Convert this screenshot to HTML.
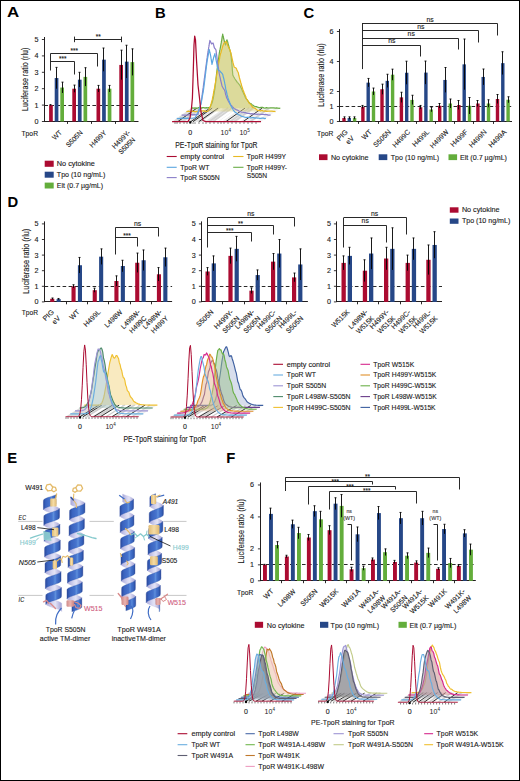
<!DOCTYPE html>
<html><head><meta charset="utf-8"><title>Figure</title>
<style>html,body{margin:0;padding:0;background:#fff;}body{width:520px;height:781px;overflow:hidden;font-family:"Liberation Sans",sans-serif;}svg{display:block;}</style>
</head><body>
<svg width="520" height="781" viewBox="0 0 520 781" font-family="Liberation Sans, sans-serif"><rect x="0" y="0" width="520" height="781" fill="#fff"/>
<text x="6.9" y="17.2" font-size="14.8" text-anchor="start" fill="#000" font-weight="bold" font-style="normal" textLength="12.2" lengthAdjust="spacingAndGlyphs">A</text>
<line x1="44.5" y1="37" x2="44.5" y2="122" stroke="#231f20" stroke-width="1"/>
<line x1="44" y1="121.5" x2="138.5" y2="121.5" stroke="#231f20" stroke-width="1"/>
<line x1="41.9" y1="121.5" x2="44.5" y2="121.5" stroke="#231f20" stroke-width="0.9"/>
<text x="38.4" y="124" font-size="7.2" text-anchor="end" fill="#1a1a1a" font-weight="normal" font-style="normal" stroke="#1a1a1a" stroke-width="0.12">0</text>
<line x1="41.9" y1="105.1" x2="44.5" y2="105.1" stroke="#231f20" stroke-width="0.9"/>
<text x="38.4" y="107.6" font-size="7.2" text-anchor="end" fill="#1a1a1a" font-weight="normal" font-style="normal" stroke="#1a1a1a" stroke-width="0.12">1</text>
<line x1="41.9" y1="88.7" x2="44.5" y2="88.7" stroke="#231f20" stroke-width="0.9"/>
<text x="38.4" y="91.2" font-size="7.2" text-anchor="end" fill="#1a1a1a" font-weight="normal" font-style="normal" stroke="#1a1a1a" stroke-width="0.12">2</text>
<line x1="41.9" y1="72.3" x2="44.5" y2="72.3" stroke="#231f20" stroke-width="0.9"/>
<text x="38.4" y="74.8" font-size="7.2" text-anchor="end" fill="#1a1a1a" font-weight="normal" font-style="normal" stroke="#1a1a1a" stroke-width="0.12">3</text>
<line x1="41.9" y1="55.9" x2="44.5" y2="55.9" stroke="#231f20" stroke-width="0.9"/>
<text x="38.4" y="58.4" font-size="7.2" text-anchor="end" fill="#1a1a1a" font-weight="normal" font-style="normal" stroke="#1a1a1a" stroke-width="0.12">4</text>
<line x1="41.9" y1="39.5" x2="44.5" y2="39.5" stroke="#231f20" stroke-width="0.9"/>
<text x="38.4" y="42" font-size="7.2" text-anchor="end" fill="#1a1a1a" font-weight="normal" font-style="normal" stroke="#1a1a1a" stroke-width="0.12">5</text>
<text x="28.4" y="79.3" font-size="8.8" text-anchor="middle" fill="#1a1a1a" font-weight="normal" font-style="normal" transform="rotate(-90 28.4 79.3)" textLength="63.2" lengthAdjust="spacingAndGlyphs" stroke="#1a1a1a" stroke-width="0.12">Luciferase ratio (rlu)</text>
<line x1="44.4" y1="105.5" x2="138.5" y2="105.5" stroke="#1e1e1e" stroke-width="0.95" stroke-dasharray="3.6 2.4"/>
<rect x="49.1" y="105.1" width="3.7" height="16.4" fill="#ab0b31"/>
<line x1="50.5" y1="104.61" x2="50.5" y2="105.59" stroke="#000" stroke-width="0.9"/>
<line x1="49.5" y1="104.61" x2="51.5" y2="104.61" stroke="#000" stroke-width="0.9"/>
<rect x="54.7" y="78.04" width="3.7" height="43.46" fill="#264787"/>
<line x1="56.5" y1="67.38" x2="56.5" y2="88.7" stroke="#000" stroke-width="0.9"/>
<line x1="55.5" y1="67.38" x2="57.5" y2="67.38" stroke="#000" stroke-width="0.9"/>
<rect x="60.3" y="87.55" width="3.7" height="33.95" fill="#63ad3b"/>
<line x1="62.5" y1="82.14" x2="62.5" y2="92.96" stroke="#000" stroke-width="0.9"/>
<line x1="61.5" y1="82.14" x2="63.5" y2="82.14" stroke="#000" stroke-width="0.9"/>
<rect x="72.3" y="88.7" width="3.7" height="32.8" fill="#ab0b31"/>
<line x1="74.5" y1="85.09" x2="74.5" y2="92.31" stroke="#000" stroke-width="0.9"/>
<line x1="73.5" y1="85.09" x2="75.5" y2="85.09" stroke="#000" stroke-width="0.9"/>
<rect x="77.9" y="79.68" width="3.7" height="41.82" fill="#264787"/>
<line x1="79.5" y1="72.3" x2="79.5" y2="87.06" stroke="#000" stroke-width="0.9"/>
<line x1="78.5" y1="72.3" x2="80.5" y2="72.3" stroke="#000" stroke-width="0.9"/>
<rect x="83.5" y="76.89" width="3.7" height="44.61" fill="#63ad3b"/>
<line x1="85.5" y1="67.71" x2="85.5" y2="86.08" stroke="#000" stroke-width="0.9"/>
<line x1="84.5" y1="67.71" x2="86.5" y2="67.71" stroke="#000" stroke-width="0.9"/>
<rect x="96.5" y="88.7" width="3.7" height="32.8" fill="#ab0b31"/>
<line x1="98.5" y1="85.42" x2="98.5" y2="91.98" stroke="#000" stroke-width="0.9"/>
<line x1="97.5" y1="85.42" x2="99.5" y2="85.42" stroke="#000" stroke-width="0.9"/>
<rect x="102.1" y="59.67" width="3.7" height="61.83" fill="#264787"/>
<line x1="103.5" y1="48.03" x2="103.5" y2="71.32" stroke="#000" stroke-width="0.9"/>
<line x1="102.5" y1="48.03" x2="104.5" y2="48.03" stroke="#000" stroke-width="0.9"/>
<rect x="107.7" y="88.7" width="3.7" height="32.8" fill="#63ad3b"/>
<line x1="109.5" y1="85.42" x2="109.5" y2="91.98" stroke="#000" stroke-width="0.9"/>
<line x1="108.5" y1="85.42" x2="110.5" y2="85.42" stroke="#000" stroke-width="0.9"/>
<rect x="119.3" y="64.92" width="3.7" height="56.58" fill="#ab0b31"/>
<line x1="121.5" y1="50.16" x2="121.5" y2="79.68" stroke="#000" stroke-width="0.9"/>
<line x1="120.5" y1="50.16" x2="122.5" y2="50.16" stroke="#000" stroke-width="0.9"/>
<rect x="124.9" y="61.64" width="3.7" height="59.86" fill="#264787"/>
<line x1="126.5" y1="45.24" x2="126.5" y2="78.04" stroke="#000" stroke-width="0.9"/>
<line x1="125.5" y1="45.24" x2="127.5" y2="45.24" stroke="#000" stroke-width="0.9"/>
<rect x="130.5" y="62.13" width="3.7" height="59.37" fill="#63ad3b"/>
<line x1="132.5" y1="48.85" x2="132.5" y2="75.42" stroke="#000" stroke-width="0.9"/>
<line x1="131.5" y1="48.85" x2="133.5" y2="48.85" stroke="#000" stroke-width="0.9"/>
<line x1="67.5" y1="121.5" x2="67.5" y2="123.9" stroke="#1e1e1e" stroke-width="0.95"/>
<line x1="91.5" y1="121.5" x2="91.5" y2="123.9" stroke="#1e1e1e" stroke-width="0.95"/>
<line x1="115.5" y1="121.5" x2="115.5" y2="123.9" stroke="#1e1e1e" stroke-width="0.95"/>
<text x="62.5" y="133.2" font-size="7" text-anchor="end" fill="#1a1a1a" font-weight="normal" font-style="normal" transform="rotate(-45 62.5 133.2)" textLength="10.5" lengthAdjust="spacingAndGlyphs" stroke="#1a1a1a" stroke-width="0.12">WT</text>
<text x="83.2" y="133.2" font-size="7" text-anchor="end" fill="#1a1a1a" font-weight="normal" font-style="normal" transform="rotate(-45 83.2 133.2)" textLength="20.5" lengthAdjust="spacingAndGlyphs" stroke="#1a1a1a" stroke-width="0.12">S505N</text>
<text x="107" y="133.2" font-size="7" text-anchor="end" fill="#1a1a1a" font-weight="normal" font-style="normal" transform="rotate(-45 107 133.2)" textLength="21" lengthAdjust="spacingAndGlyphs" stroke="#1a1a1a" stroke-width="0.12">H499Y</text>
<text x="131" y="133" font-size="7" text-anchor="end" fill="#1a1a1a" font-weight="normal" font-style="normal" transform="rotate(-45 131 133)" textLength="23" lengthAdjust="spacingAndGlyphs" stroke="#1a1a1a" stroke-width="0.12">H499Y-</text>
<text x="135.77" y="140.25" font-size="7" text-anchor="end" fill="#1a1a1a" font-weight="normal" font-style="normal" transform="rotate(-45 135.77 140.25)" textLength="20.5" lengthAdjust="spacingAndGlyphs" stroke="#1a1a1a" stroke-width="0.12">S505N</text>
<text x="21.5" y="136.3" font-size="7.2" text-anchor="start" fill="#1a1a1a" font-weight="normal" font-style="normal" textLength="16.5" lengthAdjust="spacingAndGlyphs" stroke="#1a1a1a" stroke-width="0.12">TpoR</text>
<polyline points="50.5,70.5 50.5,53.5 97.5,53.5 97.5,66.5" stroke="#1e1e1e" stroke-width="0.95" fill="none"/>
<polyline points="50.5,61.5 74.5,61.5 74.5,74.5" stroke="#1e1e1e" stroke-width="0.95" fill="none"/>
<text x="62.8" y="61.1" font-size="8" text-anchor="middle" fill="#1a1a1a" font-weight="normal" font-style="normal" textLength="7.5" lengthAdjust="spacingAndGlyphs" stroke="#1a1a1a" stroke-width="0.12">***</text>
<text x="74.2" y="53" font-size="8" text-anchor="middle" fill="#1a1a1a" font-weight="normal" font-style="normal" textLength="7.5" lengthAdjust="spacingAndGlyphs" stroke="#1a1a1a" stroke-width="0.12">***</text>
<line x1="74.2" y1="39.5" x2="121.2" y2="39.5" stroke="#1e1e1e" stroke-width="0.95"/>
<line x1="74.5" y1="36.6" x2="74.5" y2="42.2" stroke="#1e1e1e" stroke-width="0.95"/>
<line x1="121.5" y1="36.6" x2="121.5" y2="42.2" stroke="#1e1e1e" stroke-width="0.95"/>
<text x="98.3" y="38.9" font-size="8" text-anchor="middle" fill="#1a1a1a" font-weight="normal" font-style="normal" textLength="5" lengthAdjust="spacingAndGlyphs" stroke="#1a1a1a" stroke-width="0.12">**</text>
<rect x="44.7" y="160.7" width="9" height="6.1" fill="#ab0b31"/>
<text x="56.8" y="166" font-size="7.1" text-anchor="start" fill="#1a1a1a" font-weight="normal" font-style="normal" textLength="38.1" lengthAdjust="spacingAndGlyphs" stroke="#1a1a1a" stroke-width="0.12">No cytokine</text>
<rect x="44.7" y="171.7" width="9" height="6" fill="#264787"/>
<text x="56.8" y="176.8" font-size="7.1" text-anchor="start" fill="#1a1a1a" font-weight="normal" font-style="normal" textLength="48.5" lengthAdjust="spacingAndGlyphs" stroke="#1a1a1a" stroke-width="0.12">Tpo (10 ng/mL)</text>
<rect x="44.7" y="182.6" width="9" height="5.9" fill="#63ad3b"/>
<text x="56.8" y="187.6" font-size="7.1" text-anchor="start" fill="#1a1a1a" font-weight="normal" font-style="normal" textLength="46.2" lengthAdjust="spacingAndGlyphs" stroke="#1a1a1a" stroke-width="0.12">Elt (0.7 µg/mL)</text>
<text x="155" y="18" font-size="14.8" text-anchor="start" fill="#000" font-weight="bold" font-style="normal">B</text>
<defs><linearGradient id="flB" x1="0" y1="0" x2="1" y2="0"><stop offset="0" stop-color="#d8d8d8"/><stop offset="0.5" stop-color="#ececec"/><stop offset="1" stop-color="#f4f4f4"/></linearGradient></defs>
<path d="M172.1,121.7 L261,121.7 L280.2,108.1 L191.3,108.1 Z" fill="url(#flB)"/>
<line x1="182" y1="121.7" x2="201.2" y2="108.1" stroke="#d2d2d2" stroke-width="1.8"/>
<line x1="200" y1="121.7" x2="219.2" y2="108.1" stroke="#d2d2d2" stroke-width="1.8"/>
<line x1="209" y1="121.7" x2="228.2" y2="108.1" stroke="#d2d2d2" stroke-width="1.8"/>
<line x1="213" y1="121.7" x2="232.2" y2="108.1" stroke="#d2d2d2" stroke-width="1.8"/>
<line x1="230" y1="121.7" x2="249.2" y2="108.1" stroke="#d2d2d2" stroke-width="1.8"/>
<line x1="234" y1="121.7" x2="253.2" y2="108.1" stroke="#d2d2d2" stroke-width="1.8"/>
<line x1="250" y1="121.7" x2="269.2" y2="108.1" stroke="#d2d2d2" stroke-width="1.8"/>
<line x1="186" y1="121.7" x2="205.2" y2="108.1" stroke="#ffffff" stroke-width="2"/>
<line x1="203" y1="121.7" x2="222.2" y2="108.1" stroke="#ffffff" stroke-width="2"/>
<line x1="216" y1="121.7" x2="235.2" y2="108.1" stroke="#ffffff" stroke-width="2"/>
<line x1="220" y1="121.7" x2="239.2" y2="108.1" stroke="#ffffff" stroke-width="2"/>
<line x1="238" y1="121.7" x2="257.2" y2="108.1" stroke="#ffffff" stroke-width="2"/>
<line x1="254" y1="121.7" x2="273.2" y2="108.1" stroke="#ffffff" stroke-width="2"/>
<line x1="177.7" y1="121.7" x2="196.9" y2="108.1" stroke="#111" stroke-width="0.85"/>
<line x1="190.8" y1="121.7" x2="210" y2="108.1" stroke="#111" stroke-width="0.85"/>
<line x1="193" y1="121.7" x2="212.2" y2="108.1" stroke="#111" stroke-width="0.85"/>
<line x1="198.8" y1="121.7" x2="218" y2="108.1" stroke="#111" stroke-width="0.85"/>
<line x1="225.8" y1="121.7" x2="245" y2="108.1" stroke="#111" stroke-width="0.85"/>
<line x1="243" y1="121.7" x2="262.2" y2="108.1" stroke="#111" stroke-width="0.85"/>
<path d="M191.2,108.2 L192.45,107.94 L193.71,108.14 L194.96,107.96 L196.21,108.1 L197.47,108.07 L198.72,107.57 L199.97,107.48 L201.23,108.1 L202.48,107.59 L203.73,107.52 L204.99,108.08 L206.24,107.62 L207.49,107.86 L208.75,107.53 L210,107.5 L210.5,106.49 L211,104.97 L211.5,104.23 L212,103 L212.32,102.04 L212.65,100.52 L212.98,99.44 L213.3,98 L213.51,96.89 L213.73,95.15 L213.94,94.46 L214.15,93.07 L214.36,91.59 L214.57,90.12 L214.79,89.54 L215,88 L215.13,86.78 L215.27,85.78 L215.4,84.7 L215.53,83.37 L215.67,82.34 L215.8,80.72 L215.93,79.84 L216.07,78.36 L216.2,77.55 L216.33,76.3 L216.47,74.48 L216.6,73.31 L216.73,72.17 L216.87,71.57 L217,70 L217.16,68.73 L217.33,67.67 L217.49,66.2 L217.66,65.15 L217.82,63.84 L217.99,62.6 L218.15,61.57 L218.31,60.35 L218.48,59.39 L218.64,58 L218.81,56.99 L218.97,55.71 L219.14,54.61 L219.3,53 L219.54,51.85 L219.79,50.16 L220.03,49.43 L220.27,48.23 L220.51,46.9 L220.76,45.34 L221,44 L221.21,42.93 L221.43,41.29 L221.64,40.55 L221.85,39.11 L222.06,37.64 L222.27,36.23 L222.49,35.62 L222.7,34.1 L223,35.81 L223.3,36.4 L223.6,38.29 L223.9,39.3 L224.2,40.4 L224.5,42 L225,43.34 L225.5,45 L225.88,43.92 L226.25,42.7 L226.62,40.74 L227,39.8 L227.38,41.19 L227.75,42.04 L228.12,43.87 L228.5,45 L228.83,46.09 L229.16,47.76 L229.49,49.07 L229.81,49.92 L230.14,51.54 L230.47,52.22 L230.8,53.6 L230.93,54.53 L231.07,56.21 L231.2,57.03 L231.33,58.42 L231.47,59.86 L231.6,61.29 L231.73,62.19 L231.87,63.37 L232,65 L232.1,66.54 L232.2,67.35 L232.3,69.12 L232.4,70.32 L232.5,71.15 L232.6,72.47 L232.7,73.77 L232.8,75 L233.53,76.45 L234.27,77.74 L235,79 L235.75,80.05 L236.5,81.1 L237.25,82.35 L238,83 L238.73,83.97 L239.47,84.88 L240.2,85.9 L240.76,87.3 L241.32,88.13 L241.88,89.4 L242.44,91.16 L243,92 L243.52,93.22 L244.04,94.44 L244.56,95.21 L245.08,96.73 L245.6,98 L246.45,99.19 L247.3,99.87 L248.15,101.47 L249,102.5 L250,103.31 L251,103.55 L252,104.7 L253,105.27 L254,106 L255.2,106.48 L256.4,106.56 L257.6,107.19 L258.8,107.55 L260,107.7 L261.27,107.35 L262.54,107.41 L263.81,107.93 L265.07,108.2 L266.34,107.66 L267.61,107.85 L268.88,107.99 L270.15,107.81 L271.42,107.87 L272.69,107.86 L273.96,107.94 L275.23,108.15 L276.49,107.95 L277.76,108.04 L279.03,108.39 L280.3,108.2 Z" fill="#c9cc7a" fill-opacity="0.55" stroke="none"/>
<path d="M191.2,108.2 L192.45,107.94 L193.71,108.14 L194.96,107.96 L196.21,108.1 L197.47,108.07 L198.72,107.57 L199.97,107.48 L201.23,108.1 L202.48,107.59 L203.73,107.52 L204.99,108.08 L206.24,107.62 L207.49,107.86 L208.75,107.53 L210,107.5 L210.5,106.49 L211,104.97 L211.5,104.23 L212,103 L212.32,102.04 L212.65,100.52 L212.98,99.44 L213.3,98 L213.51,96.89 L213.73,95.15 L213.94,94.46 L214.15,93.07 L214.36,91.59 L214.57,90.12 L214.79,89.54 L215,88 L215.13,86.78 L215.27,85.78 L215.4,84.7 L215.53,83.37 L215.67,82.34 L215.8,80.72 L215.93,79.84 L216.07,78.36 L216.2,77.55 L216.33,76.3 L216.47,74.48 L216.6,73.31 L216.73,72.17 L216.87,71.57 L217,70 L217.16,68.73 L217.33,67.67 L217.49,66.2 L217.66,65.15 L217.82,63.84 L217.99,62.6 L218.15,61.57 L218.31,60.35 L218.48,59.39 L218.64,58 L218.81,56.99 L218.97,55.71 L219.14,54.61 L219.3,53 L219.54,51.85 L219.79,50.16 L220.03,49.43 L220.27,48.23 L220.51,46.9 L220.76,45.34 L221,44 L221.21,42.93 L221.43,41.29 L221.64,40.55 L221.85,39.11 L222.06,37.64 L222.27,36.23 L222.49,35.62 L222.7,34.1 L223,35.81 L223.3,36.4 L223.6,38.29 L223.9,39.3 L224.2,40.4 L224.5,42 L225,43.34 L225.5,45 L225.88,43.92 L226.25,42.7 L226.62,40.74 L227,39.8 L227.38,41.19 L227.75,42.04 L228.12,43.87 L228.5,45 L228.83,46.09 L229.16,47.76 L229.49,49.07 L229.81,49.92 L230.14,51.54 L230.47,52.22 L230.8,53.6 L230.93,54.53 L231.07,56.21 L231.2,57.03 L231.33,58.42 L231.47,59.86 L231.6,61.29 L231.73,62.19 L231.87,63.37 L232,65 L232.1,66.54 L232.2,67.35 L232.3,69.12 L232.4,70.32 L232.5,71.15 L232.6,72.47 L232.7,73.77 L232.8,75 L233.53,76.45 L234.27,77.74 L235,79 L235.75,80.05 L236.5,81.1 L237.25,82.35 L238,83 L238.73,83.97 L239.47,84.88 L240.2,85.9 L240.76,87.3 L241.32,88.13 L241.88,89.4 L242.44,91.16 L243,92 L243.52,93.22 L244.04,94.44 L244.56,95.21 L245.08,96.73 L245.6,98 L246.45,99.19 L247.3,99.87 L248.15,101.47 L249,102.5 L250,103.31 L251,103.55 L252,104.7 L253,105.27 L254,106 L255.2,106.48 L256.4,106.56 L257.6,107.19 L258.8,107.55 L260,107.7 L261.27,107.35 L262.54,107.41 L263.81,107.93 L265.07,108.2 L266.34,107.66 L267.61,107.85 L268.88,107.99 L270.15,107.81 L271.42,107.87 L272.69,107.86 L273.96,107.94 L275.23,108.15 L276.49,107.95 L277.76,108.04 L279.03,108.39 L280.3,108.2" fill="none" stroke="#69ad47" stroke-width="1.2" stroke-linejoin="round"/>
<path d="M186.4,111.6 L187.6,111.36 L188.8,111.22 L190,111.42 L191.2,111.19 L192.4,111.09 L193.6,111.32 L194.8,111.7 L196,111.57 L197.2,111.51 L198.4,111.04 L199.6,111.26 L200.8,111.02 L202,110.9 L203.2,110.82 L204.4,110.87 L205.6,111.41 L206.8,111.3 L208,111 L208.62,110 L209.25,108.74 L209.88,107 L210.5,106 L210.85,104.51 L211.2,103.43 L211.55,102.19 L211.9,100.95 L212.25,99.64 L212.6,98 L212.82,96.49 L213.04,95.72 L213.25,94.59 L213.47,93.28 L213.69,91.83 L213.91,90.89 L214.13,89.4 L214.35,88.89 L214.56,87.66 L214.78,86.22 L215,85 L215.21,83.59 L215.42,82.83 L215.62,81.31 L215.83,80.31 L216.04,79.03 L216.25,77.51 L216.46,76.18 L216.67,75.08 L216.88,73.69 L217.08,72.23 L217.29,71.09 L217.5,70 L217.73,68.98 L217.95,67.09 L218.18,65.82 L218.41,65.01 L218.64,63.46 L218.86,62.39 L219.09,61.07 L219.32,59.69 L219.55,58.94 L219.77,57.03 L220,56 L220.36,54.64 L220.71,53.19 L221.07,52.25 L221.43,50.68 L221.79,49.46 L222.14,48.48 L222.5,47 L223,45.52 L223.5,44.38 L224,43 L225,42.57 L226,41.5 L226.5,42.31 L227,43.4 L227.5,44.66 L228,46 L228.67,47.55 L229.33,48.76 L230,50 L230.33,51.12 L230.67,52.53 L231,53.74 L231.33,55.3 L231.67,56.3 L232,58 L232.3,59.44 L232.6,60.89 L232.9,62.22 L233.2,63.33 L233.5,64.8 L233.8,65.33 L234.1,67 L236,68 L236.55,68.93 L237.1,70.57 L237.65,71.52 L238.2,72.4 L238.5,73.6 L238.8,75.29 L239.1,76.3 L239.4,77.72 L239.7,78.57 L240,80 L240.36,80.99 L240.72,82.43 L241.09,83.42 L241.45,84.86 L241.81,86.56 L242.18,87.29 L242.54,88.27 L242.9,89.9 L243.37,90.69 L243.84,91.95 L244.31,93.6 L244.79,94.42 L245.26,95.52 L245.73,96.52 L246.2,98 L246.9,99.64 L247.6,100.44 L248.3,101.52 L249,103 L249.8,103.55 L250.6,104.44 L251.4,105.43 L252.2,106.74 L253,107.5 L254.25,107.97 L255.5,108.63 L256.75,109.74 L258,110.5 L259.25,110.38 L260.5,111.06 L261.75,110.43 L263,110.84 L264.25,111.11 L265.5,110.9 L266.75,111.44 L268,111.11 L269.25,111 L270.5,111.21 L271.75,110.99 L273,111.38 L274.25,111.32 L275.5,111.6 Z" fill="#d8cf7a" fill-opacity="0.45" stroke="none"/>
<path d="M186.4,111.6 L187.6,111.36 L188.8,111.22 L190,111.42 L191.2,111.19 L192.4,111.09 L193.6,111.32 L194.8,111.7 L196,111.57 L197.2,111.51 L198.4,111.04 L199.6,111.26 L200.8,111.02 L202,110.9 L203.2,110.82 L204.4,110.87 L205.6,111.41 L206.8,111.3 L208,111 L208.62,110 L209.25,108.74 L209.88,107 L210.5,106 L210.85,104.51 L211.2,103.43 L211.55,102.19 L211.9,100.95 L212.25,99.64 L212.6,98 L212.82,96.49 L213.04,95.72 L213.25,94.59 L213.47,93.28 L213.69,91.83 L213.91,90.89 L214.13,89.4 L214.35,88.89 L214.56,87.66 L214.78,86.22 L215,85 L215.21,83.59 L215.42,82.83 L215.62,81.31 L215.83,80.31 L216.04,79.03 L216.25,77.51 L216.46,76.18 L216.67,75.08 L216.88,73.69 L217.08,72.23 L217.29,71.09 L217.5,70 L217.73,68.98 L217.95,67.09 L218.18,65.82 L218.41,65.01 L218.64,63.46 L218.86,62.39 L219.09,61.07 L219.32,59.69 L219.55,58.94 L219.77,57.03 L220,56 L220.36,54.64 L220.71,53.19 L221.07,52.25 L221.43,50.68 L221.79,49.46 L222.14,48.48 L222.5,47 L223,45.52 L223.5,44.38 L224,43 L225,42.57 L226,41.5 L226.5,42.31 L227,43.4 L227.5,44.66 L228,46 L228.67,47.55 L229.33,48.76 L230,50 L230.33,51.12 L230.67,52.53 L231,53.74 L231.33,55.3 L231.67,56.3 L232,58 L232.3,59.44 L232.6,60.89 L232.9,62.22 L233.2,63.33 L233.5,64.8 L233.8,65.33 L234.1,67 L236,68 L236.55,68.93 L237.1,70.57 L237.65,71.52 L238.2,72.4 L238.5,73.6 L238.8,75.29 L239.1,76.3 L239.4,77.72 L239.7,78.57 L240,80 L240.36,80.99 L240.72,82.43 L241.09,83.42 L241.45,84.86 L241.81,86.56 L242.18,87.29 L242.54,88.27 L242.9,89.9 L243.37,90.69 L243.84,91.95 L244.31,93.6 L244.79,94.42 L245.26,95.52 L245.73,96.52 L246.2,98 L246.9,99.64 L247.6,100.44 L248.3,101.52 L249,103 L249.8,103.55 L250.6,104.44 L251.4,105.43 L252.2,106.74 L253,107.5 L254.25,107.97 L255.5,108.63 L256.75,109.74 L258,110.5 L259.25,110.38 L260.5,111.06 L261.75,110.43 L263,110.84 L264.25,111.11 L265.5,110.9 L266.75,111.44 L268,111.11 L269.25,111 L270.5,111.21 L271.75,110.99 L273,111.38 L274.25,111.32 L275.5,111.6" fill="none" stroke="#e8b923" stroke-width="1.2" stroke-linejoin="round"/>
<path d="M181.6,115 L182.86,115.04 L184.12,115.07 L185.38,115.06 L186.65,115.11 L187.91,114.95 L189.17,115.02 L190.43,114.45 L191.69,114.67 L192.95,114.92 L194.22,114.7 L195.48,114.82 L196.74,114.31 L198,114.5 L198.4,113.18 L198.8,111.75 L199.2,110.63 L199.6,109.34 L200,108 L200.22,106.46 L200.45,105.33 L200.68,104.12 L200.9,103.25 L201.12,101.91 L201.35,100.3 L201.58,99.43 L201.8,98 L201.97,96.48 L202.14,95.47 L202.31,93.88 L202.48,92.5 L202.65,91.72 L202.82,90.03 L202.99,88.73 L203.16,87.89 L203.33,86.52 L203.5,85 L203.67,83.62 L203.83,82.78 L204,81.27 L204.17,80.11 L204.33,78.57 L204.5,77.76 L204.67,76.36 L204.83,75.28 L205,73.99 L205.17,72.38 L205.33,71.17 L205.5,70 L205.67,68.55 L205.83,67.29 L206,65.99 L206.17,64.88 L206.33,63.81 L206.5,62.2 L206.67,61.36 L206.83,59.9 L207,58.64 L207.17,57.69 L207.33,56.24 L207.5,55 L207.7,53.67 L207.9,52.56 L208.1,51.47 L208.3,49.87 L208.5,49.2 L208.7,47.41 L208.9,46.63 L209.1,45.47 L209.3,43.76 L209.5,43.01 L209.7,41.54 L209.9,40.4 L210.43,41.65 L210.97,42.51 L211.5,44 L213,43 L213.38,43.98 L213.75,45.31 L214.12,47.02 L214.5,48 L215.25,48.82 L216,50 L216.15,51.35 L216.3,52.66 L216.45,53.87 L216.6,54.71 L216.75,55.91 L216.9,57.21 L217.05,58.57 L217.2,59.36 L217.35,60.95 L217.5,62 L217.69,63.43 L217.88,64.72 L218.06,65.47 L218.25,67.27 L218.44,68 L218.62,69.4 L218.81,70.82 L219,72 L219.24,73.47 L219.49,74.33 L219.73,75.9 L219.97,76.88 L220.21,77.96 L220.46,79.18 L220.7,80.5 L221.02,81.68 L221.35,83 L221.68,84.41 L222,86 L222.83,87.45 L223.67,88.96 L224.5,90 L224.87,91.13 L225.23,92.4 L225.6,94.29 L225.97,95.35 L226.33,96.61 L226.7,98 L227.36,99.04 L228.02,100.46 L228.68,101.8 L229.34,102.77 L230,104 L230.8,104.85 L231.6,105.53 L232.4,106.95 L233.2,107.32 L234,108.5 L235.2,109.1 L236.4,109.9 L237.6,110.08 L238.8,111.04 L240,111.5 L241.33,112.1 L242.67,112.24 L244,112.67 L245.33,112.6 L246.67,113.13 L248,113.5 L249.26,113.37 L250.52,113.87 L251.78,113.63 L253.04,113.81 L254.31,114.22 L255.57,114.21 L256.83,114.37 L258.09,114.14 L259.35,114.24 L260.61,114.47 L261.87,114.4 L263.13,114.37 L264.39,114.53 L265.66,114.45 L266.92,114.68 L268.18,115.13 L269.44,115.19 L270.7,115" fill="none" stroke="#8b7fc9" stroke-width="1.2" stroke-linejoin="round"/>
<path d="M176.8,118.4 L178.01,118.55 L179.23,118.54 L180.44,118.31 L181.65,118.15 L182.87,117.97 L184.08,118.34 L185.29,118.2 L186.51,118.34 L187.72,118.08 L188.93,118.3 L190.15,117.97 L191.36,118.26 L192.57,118.19 L193.79,117.98 L195,118 L195.6,116.82 L196.2,115.71 L196.8,114.22 L197.4,113.23 L198,112 L198.43,111.04 L198.86,109.57 L199.29,108.75 L199.71,107.54 L200.14,106.49 L200.57,105.04 L201,104 L201.23,102.48 L201.45,101.63 L201.68,100.36 L201.91,98.88 L202.14,97.39 L202.36,96.18 L202.59,95.17 L202.82,93.69 L203.05,92.82 L203.27,91.33 L203.5,90 L203.65,88.62 L203.8,87.69 L203.95,86.32 L204.1,85.46 L204.25,84.25 L204.4,82.81 L204.55,81.69 L204.7,80.52 L204.85,79.38 L205,78 L205.15,77.06 L205.31,75.26 L205.46,74.22 L205.62,73.14 L205.77,71.73 L205.92,70.67 L206.08,69.14 L206.23,68.38 L206.38,66.94 L206.54,65.46 L206.69,64.56 L206.85,63.12 L207,62 L207.22,60.57 L207.44,59.49 L207.66,58.03 L207.88,56.83 L208.1,55.97 L208.32,54.62 L208.54,52.96 L208.76,52.17 L208.98,50.46 L209.2,49.5 L209.52,50.77 L209.85,52.49 L210.18,53.7 L210.5,55 L210.71,56.21 L210.93,57.58 L211.14,58.92 L211.36,60.09 L211.57,61.94 L211.79,62.7 L212,64.3 L212.3,62.99 L212.6,61.93 L212.9,60.46 L213.2,59.55 L213.5,58 L213.97,56.38 L214.43,55.35 L214.9,53.6 L215.13,55.04 L215.36,56.1 L215.59,57.43 L215.81,58.37 L216.04,59.8 L216.27,60.98 L216.5,62 L216.75,63.34 L217,64.65 L217.25,66.12 L217.5,67.28 L217.75,68.42 L218,70 L220,71 L220.9,72.28 L221.8,73.13 L222.7,74.4 L223,75.66 L223.3,77.1 L223.6,78 L223.9,79.18 L224.2,80.51 L224.5,82 L224.75,83.39 L225,84.58 L225.25,85.85 L225.5,87.3 L225.75,88.92 L226,90 L226.33,91.19 L226.67,92.61 L227,94.23 L227.33,95.4 L227.67,96.53 L228,98 L228.43,99.13 L228.86,100.27 L229.29,101.21 L229.71,102.5 L230.14,103.6 L230.57,105.04 L231,106 L231.75,107.14 L232.5,108.6 L233.25,110.03 L234,111 L235,112.13 L236,112.68 L237,113.69 L238,114.5 L239.33,115.06 L240.67,115.77 L242,116.5 L243.33,116.71 L244.67,117.11 L246,117.41 L247.33,117.24 L248.67,117.29 L250,117.8 L251.22,117.82 L252.45,117.63 L253.67,117.66 L254.89,118.15 L256.12,117.8 L257.34,118.21 L258.56,118.04 L259.78,118.43 L261.01,118.43 L262.23,118 L263.45,118.12 L264.68,118.62 L265.9,118.4" fill="none" stroke="#5aa6e0" stroke-width="1.2" stroke-linejoin="round"/>
<path d="M172.1,121.7 L173.32,121.69 L174.55,121.68 L175.77,121.68 L176.99,121.67 L178.22,121.66 L179.44,121.65 L180.66,121.65 L181.88,121.64 L183.11,121.63 L184.33,121.62 L185.55,121.62 L186.78,121.61 L188,121.6 L188.67,120.4 L189.33,119.2 L190,118 L190.19,116.75 L190.38,115.5 L190.56,114.25 L190.75,113 L190.94,111.75 L191.12,110.5 L191.31,109.25 L191.5,108 L191.61,106.75 L191.72,105.5 L191.84,104.25 L191.95,103 L192.06,101.75 L192.18,100.5 L192.29,99.25 L192.4,98 L192.44,96.78 L192.48,95.57 L192.52,94.35 L192.56,93.13 L192.6,91.91 L192.63,90.7 L192.67,89.48 L192.71,88.26 L192.75,87.04 L192.79,85.83 L192.83,84.61 L192.87,83.39 L192.91,82.17 L192.95,80.96 L192.99,79.74 L193.03,78.52 L193.07,77.3 L193.1,76.09 L193.14,74.87 L193.18,73.65 L193.22,72.43 L193.26,71.22 L193.3,70 L193.34,68.75 L193.37,67.5 L193.41,66.25 L193.44,65 L193.48,63.75 L193.51,62.5 L193.55,61.25 L193.58,60 L193.62,58.75 L193.65,57.5 L193.69,56.25 L193.72,55 L193.75,53.75 L193.79,52.5 L193.82,51.25 L193.86,50 L193.9,48.75 L193.93,47.5 L193.97,46.25 L194,45 L194.1,43.73 L194.2,42.46 L194.3,41.19 L194.4,39.91 L194.5,38.64 L194.6,37.37 L194.7,36.1 L194.97,37.4 L195.23,38.7 L195.5,40 L195.56,41.25 L195.62,42.5 L195.69,43.75 L195.75,45 L195.81,46.25 L195.88,47.5 L195.94,48.75 L196,50 L196.06,51.25 L196.12,52.5 L196.19,53.75 L196.25,55 L196.31,56.25 L196.38,57.5 L196.44,58.75 L196.5,60 L196.57,61.25 L196.65,62.5 L196.72,63.75 L196.8,65 L196.88,66.25 L196.95,67.5 L197.03,68.75 L197.1,70 L197.18,71.25 L197.25,72.5 L197.32,73.75 L197.4,75 L197.47,76.25 L197.55,77.5 L197.62,78.75 L197.7,80 L197.78,81.25 L197.85,82.5 L197.93,83.75 L198,85 L198.15,86.3 L198.3,87.6 L198.45,88.9 L198.6,90.2 L198.75,91.5 L198.9,92.8 L199.05,94.1 L199.2,95.4 L199.35,96.7 L199.5,98 L199.64,99.27 L199.77,100.55 L199.91,101.82 L200.05,103.09 L200.18,104.36 L200.32,105.64 L200.45,106.91 L200.59,108.18 L200.73,109.45 L200.86,110.73 L201,112 L201.29,113.21 L201.57,114.43 L201.86,115.64 L202.14,116.86 L202.43,118.07 L202.71,119.29 L203,120.5 L204.5,121.1 L206,121.7 L207.22,121.7 L208.44,121.7 L209.67,121.7 L210.89,121.7 L212.11,121.7 L213.33,121.7 L214.56,121.7 L215.78,121.7 L217,121.7 L218.22,121.7 L219.44,121.7 L220.67,121.7 L221.89,121.7 L223.11,121.7 L224.33,121.7 L225.56,121.7 L226.78,121.7 L228,121.7 L229.22,121.7 L230.44,121.7 L231.67,121.7 L232.89,121.7 L234.11,121.7 L235.33,121.7 L236.56,121.7 L237.78,121.7 L239,121.7 L240.22,121.7 L241.44,121.7 L242.67,121.7 L243.89,121.7 L245.11,121.7 L246.33,121.7 L247.56,121.7 L248.78,121.7 L250,121.7 L251.22,121.7 L252.44,121.7 L253.67,121.7 L254.89,121.7 L256.11,121.7 L257.33,121.7 L258.56,121.7 L259.78,121.7 L261,121.7" fill="none" stroke="#ab0b31" stroke-width="1.25" stroke-linejoin="round"/>
<line x1="175" y1="122.2" x2="175" y2="123.9" stroke="#222" stroke-width="0.6"/>
<line x1="177" y1="122.2" x2="177" y2="123.9" stroke="#222" stroke-width="0.6"/>
<line x1="180" y1="122.2" x2="180" y2="123.9" stroke="#222" stroke-width="0.6"/>
<line x1="184" y1="122.2" x2="184" y2="123.9" stroke="#222" stroke-width="0.6"/>
<line x1="187" y1="122.2" x2="187" y2="123.9" stroke="#222" stroke-width="0.6"/>
<line x1="190.2" y1="122.2" x2="190.2" y2="123.9" stroke="#222" stroke-width="0.6"/>
<line x1="193" y1="122.2" x2="193" y2="123.9" stroke="#222" stroke-width="0.6"/>
<line x1="195" y1="122.2" x2="195" y2="123.9" stroke="#222" stroke-width="0.6"/>
<line x1="199" y1="122.2" x2="199" y2="123.9" stroke="#222" stroke-width="0.6"/>
<line x1="203" y1="122.2" x2="203" y2="123.9" stroke="#222" stroke-width="0.6"/>
<line x1="206" y1="122.2" x2="206" y2="123.9" stroke="#222" stroke-width="0.6"/>
<line x1="210" y1="122.2" x2="210" y2="123.9" stroke="#222" stroke-width="0.6"/>
<line x1="214" y1="122.2" x2="214" y2="123.9" stroke="#222" stroke-width="0.6"/>
<line x1="218" y1="122.2" x2="218" y2="123.9" stroke="#222" stroke-width="0.6"/>
<line x1="221" y1="122.2" x2="221" y2="123.9" stroke="#222" stroke-width="0.6"/>
<line x1="224" y1="122.2" x2="224" y2="123.9" stroke="#222" stroke-width="0.6"/>
<line x1="228" y1="122.2" x2="228" y2="123.9" stroke="#222" stroke-width="0.6"/>
<line x1="232" y1="122.2" x2="232" y2="123.9" stroke="#222" stroke-width="0.6"/>
<line x1="236" y1="122.2" x2="236" y2="123.9" stroke="#222" stroke-width="0.6"/>
<line x1="240" y1="122.2" x2="240" y2="123.9" stroke="#222" stroke-width="0.6"/>
<line x1="244" y1="122.2" x2="244" y2="123.9" stroke="#222" stroke-width="0.6"/>
<line x1="248" y1="122.2" x2="248" y2="123.9" stroke="#222" stroke-width="0.6"/>
<line x1="252" y1="122.2" x2="252" y2="123.9" stroke="#222" stroke-width="0.6"/>
<line x1="256" y1="122.2" x2="256" y2="123.9" stroke="#222" stroke-width="0.6"/>
<rect x="189.2" y="121.2" width="2.2" height="2.2" fill="#000"/>
<text x="190.2" y="134.6" font-size="7" text-anchor="middle" fill="#1a1a1a" font-weight="normal" font-style="normal" stroke="#1a1a1a" stroke-width="0.12">0</text>
<text x="220.6" y="134.6" font-size="7" fill="#1a1a1a">10<tspan dy="-3" font-size="4.55">4</tspan></text>
<text x="239.4" y="134.6" font-size="7" fill="#1a1a1a">10<tspan dy="-3" font-size="4.55">5</tspan></text>
<text x="175.3" y="147.7" font-size="9.2" text-anchor="start" fill="#1a1a1a" font-weight="normal" font-style="normal" textLength="82.2" lengthAdjust="spacingAndGlyphs" stroke="#1a1a1a" stroke-width="0.12">PE-TpoR staining for TpoR</text>
<line x1="166.7" y1="156.5" x2="176.7" y2="156.5" stroke="#ab0b31" stroke-width="1.1"/>
<text x="180.2" y="158.9" font-size="7.3" text-anchor="start" fill="#1a1a1a" font-weight="normal" font-style="normal" textLength="43.9" lengthAdjust="spacingAndGlyphs" stroke="#1a1a1a" stroke-width="0.12">empty control</text>
<line x1="166.7" y1="167.3" x2="176.7" y2="167.3" stroke="#5aa6e0" stroke-width="1.1"/>
<text x="180.2" y="169.7" font-size="7.3" text-anchor="start" fill="#1a1a1a" font-weight="normal" font-style="normal" textLength="29.1" lengthAdjust="spacingAndGlyphs" stroke="#1a1a1a" stroke-width="0.12">TpoR WT</text>
<line x1="166.7" y1="177.6" x2="176.7" y2="177.6" stroke="#8b7fc9" stroke-width="1.1"/>
<text x="180.2" y="180" font-size="7.3" text-anchor="start" fill="#1a1a1a" font-weight="normal" font-style="normal" textLength="39.6" lengthAdjust="spacingAndGlyphs" stroke="#1a1a1a" stroke-width="0.12">TpoR S505N</text>
<line x1="233.2" y1="156.5" x2="243.5" y2="156.5" stroke="#e8b923" stroke-width="1.1"/>
<text x="246.7" y="158.9" font-size="7.3" text-anchor="start" fill="#1a1a1a" font-weight="normal" font-style="normal" textLength="39.3" lengthAdjust="spacingAndGlyphs" stroke="#1a1a1a" stroke-width="0.12">TpoR H499Y</text>
<line x1="233.2" y1="167.3" x2="243.5" y2="167.3" stroke="#69ad47" stroke-width="1.1"/>
<text x="246.7" y="169.7" font-size="7.3" text-anchor="start" fill="#1a1a1a" font-weight="normal" font-style="normal" textLength="40.4" lengthAdjust="spacingAndGlyphs" stroke="#1a1a1a" stroke-width="0.12">TpoR H499Y-</text>
<text x="246.7" y="178.4" font-size="7.3" text-anchor="start" fill="#1a1a1a" font-weight="normal" font-style="normal" textLength="20.5" lengthAdjust="spacingAndGlyphs" stroke="#1a1a1a" stroke-width="0.12">S505N</text>
<text x="303.5" y="17.6" font-size="14.8" text-anchor="start" fill="#000" font-weight="bold" font-style="normal">C</text>
<line x1="339.5" y1="29" x2="339.5" y2="122" stroke="#231f20" stroke-width="1"/>
<line x1="339" y1="121.5" x2="512" y2="121.5" stroke="#231f20" stroke-width="1"/>
<line x1="336.9" y1="121.5" x2="339.5" y2="121.5" stroke="#231f20" stroke-width="0.9"/>
<text x="333.6" y="124" font-size="7.2" text-anchor="end" fill="#1a1a1a" font-weight="normal" font-style="normal" stroke="#1a1a1a" stroke-width="0.12">0</text>
<line x1="336.9" y1="106.5" x2="339.5" y2="106.5" stroke="#231f20" stroke-width="0.9"/>
<text x="333.6" y="109" font-size="7.2" text-anchor="end" fill="#1a1a1a" font-weight="normal" font-style="normal" stroke="#1a1a1a" stroke-width="0.12">1</text>
<line x1="336.9" y1="91.5" x2="339.5" y2="91.5" stroke="#231f20" stroke-width="0.9"/>
<text x="333.6" y="94" font-size="7.2" text-anchor="end" fill="#1a1a1a" font-weight="normal" font-style="normal" stroke="#1a1a1a" stroke-width="0.12">2</text>
<line x1="336.9" y1="61.5" x2="339.5" y2="61.5" stroke="#231f20" stroke-width="0.9"/>
<text x="333.6" y="64" font-size="7.2" text-anchor="end" fill="#1a1a1a" font-weight="normal" font-style="normal" stroke="#1a1a1a" stroke-width="0.12">4</text>
<line x1="336.9" y1="31.5" x2="339.5" y2="31.5" stroke="#231f20" stroke-width="0.9"/>
<text x="333.6" y="34" font-size="7.2" text-anchor="end" fill="#1a1a1a" font-weight="normal" font-style="normal" stroke="#1a1a1a" stroke-width="0.12">6</text>
<text x="324.4" y="75" font-size="8.8" text-anchor="middle" fill="#1a1a1a" font-weight="normal" font-style="normal" transform="rotate(-90 324.4 75)" textLength="63.4" lengthAdjust="spacingAndGlyphs" stroke="#1a1a1a" stroke-width="0.12">Luciferase ratio (rlu)</text>
<line x1="339.6" y1="106.5" x2="512" y2="106.5" stroke="#1e1e1e" stroke-width="0.95" stroke-dasharray="3.6 2.4"/>
<rect x="342.3" y="118.05" width="3.4" height="3.45" fill="#ab0b31"/>
<line x1="344.5" y1="116.85" x2="344.5" y2="119.25" stroke="#000" stroke-width="0.9"/>
<line x1="343.5" y1="116.85" x2="345.5" y2="116.85" stroke="#000" stroke-width="0.9"/>
<rect x="347.6" y="118.05" width="3.4" height="3.45" fill="#264787"/>
<line x1="349.5" y1="116.85" x2="349.5" y2="119.25" stroke="#000" stroke-width="0.9"/>
<line x1="348.5" y1="116.85" x2="350.5" y2="116.85" stroke="#000" stroke-width="0.9"/>
<rect x="352.9" y="118.05" width="3.4" height="3.45" fill="#63ad3b"/>
<line x1="354.5" y1="116.85" x2="354.5" y2="119.25" stroke="#000" stroke-width="0.9"/>
<line x1="353.5" y1="116.85" x2="355.5" y2="116.85" stroke="#000" stroke-width="0.9"/>
<rect x="361.2" y="106.95" width="3.4" height="14.55" fill="#ab0b31"/>
<line x1="362.5" y1="105.45" x2="362.5" y2="108.45" stroke="#000" stroke-width="0.9"/>
<line x1="361.5" y1="105.45" x2="363.5" y2="105.45" stroke="#000" stroke-width="0.9"/>
<rect x="366.5" y="82.65" width="3.4" height="38.85" fill="#264787"/>
<line x1="368.5" y1="78.45" x2="368.5" y2="86.85" stroke="#000" stroke-width="0.9"/>
<line x1="367.5" y1="78.45" x2="369.5" y2="78.45" stroke="#000" stroke-width="0.9"/>
<rect x="371.8" y="91.5" width="3.4" height="30" fill="#63ad3b"/>
<line x1="373.5" y1="88.05" x2="373.5" y2="94.95" stroke="#000" stroke-width="0.9"/>
<line x1="372.5" y1="88.05" x2="374.5" y2="88.05" stroke="#000" stroke-width="0.9"/>
<rect x="380.3" y="89.25" width="3.4" height="32.25" fill="#ab0b31"/>
<line x1="382.5" y1="84.15" x2="382.5" y2="94.35" stroke="#000" stroke-width="0.9"/>
<line x1="381.5" y1="84.15" x2="383.5" y2="84.15" stroke="#000" stroke-width="0.9"/>
<rect x="385.6" y="80.85" width="3.4" height="40.65" fill="#264787"/>
<line x1="387.5" y1="74.25" x2="387.5" y2="87.45" stroke="#000" stroke-width="0.9"/>
<line x1="386.5" y1="74.25" x2="388.5" y2="74.25" stroke="#000" stroke-width="0.9"/>
<rect x="390.9" y="74.7" width="3.4" height="46.8" fill="#63ad3b"/>
<line x1="392.5" y1="69.15" x2="392.5" y2="80.25" stroke="#000" stroke-width="0.9"/>
<line x1="391.5" y1="69.15" x2="393.5" y2="69.15" stroke="#000" stroke-width="0.9"/>
<rect x="399.7" y="97.35" width="3.4" height="24.15" fill="#ab0b31"/>
<line x1="401.5" y1="92.25" x2="401.5" y2="102.45" stroke="#000" stroke-width="0.9"/>
<line x1="400.5" y1="92.25" x2="402.5" y2="92.25" stroke="#000" stroke-width="0.9"/>
<rect x="405" y="72.75" width="3.4" height="48.75" fill="#264787"/>
<line x1="406.5" y1="61.2" x2="406.5" y2="84.3" stroke="#000" stroke-width="0.9"/>
<line x1="405.5" y1="61.2" x2="407.5" y2="61.2" stroke="#000" stroke-width="0.9"/>
<rect x="410.3" y="99.9" width="3.4" height="21.6" fill="#63ad3b"/>
<line x1="412.5" y1="95.25" x2="412.5" y2="104.55" stroke="#000" stroke-width="0.9"/>
<line x1="411.5" y1="95.25" x2="413.5" y2="95.25" stroke="#000" stroke-width="0.9"/>
<rect x="418.9" y="107.25" width="3.4" height="14.25" fill="#ab0b31"/>
<line x1="420.5" y1="105.45" x2="420.5" y2="109.05" stroke="#000" stroke-width="0.9"/>
<line x1="419.5" y1="105.45" x2="421.5" y2="105.45" stroke="#000" stroke-width="0.9"/>
<rect x="424.2" y="72.6" width="3.4" height="48.9" fill="#264787"/>
<line x1="425.5" y1="61.05" x2="425.5" y2="84.15" stroke="#000" stroke-width="0.9"/>
<line x1="424.5" y1="61.05" x2="426.5" y2="61.05" stroke="#000" stroke-width="0.9"/>
<rect x="429.5" y="109.5" width="3.4" height="12" fill="#63ad3b"/>
<line x1="431.5" y1="107.25" x2="431.5" y2="111.75" stroke="#000" stroke-width="0.9"/>
<line x1="430.5" y1="107.25" x2="432.5" y2="107.25" stroke="#000" stroke-width="0.9"/>
<rect x="438" y="105.75" width="3.4" height="15.75" fill="#ab0b31"/>
<line x1="439.5" y1="103.5" x2="439.5" y2="108" stroke="#000" stroke-width="0.9"/>
<line x1="438.5" y1="103.5" x2="440.5" y2="103.5" stroke="#000" stroke-width="0.9"/>
<rect x="443.3" y="79.95" width="3.4" height="41.55" fill="#264787"/>
<line x1="445.5" y1="67.5" x2="445.5" y2="92.4" stroke="#000" stroke-width="0.9"/>
<line x1="444.5" y1="67.5" x2="446.5" y2="67.5" stroke="#000" stroke-width="0.9"/>
<rect x="448.6" y="103.5" width="3.4" height="18" fill="#63ad3b"/>
<line x1="450.5" y1="99" x2="450.5" y2="108" stroke="#000" stroke-width="0.9"/>
<line x1="449.5" y1="99" x2="451.5" y2="99" stroke="#000" stroke-width="0.9"/>
<rect x="457.2" y="105" width="3.4" height="16.5" fill="#ab0b31"/>
<line x1="458.5" y1="100.5" x2="458.5" y2="109.5" stroke="#000" stroke-width="0.9"/>
<line x1="457.5" y1="100.5" x2="459.5" y2="100.5" stroke="#000" stroke-width="0.9"/>
<rect x="462.5" y="64.35" width="3.4" height="57.15" fill="#264787"/>
<line x1="464.5" y1="39" x2="464.5" y2="89.7" stroke="#000" stroke-width="0.9"/>
<line x1="463.5" y1="39" x2="465.5" y2="39" stroke="#000" stroke-width="0.9"/>
<rect x="467.8" y="105.75" width="3.4" height="15.75" fill="#63ad3b"/>
<line x1="469.5" y1="97.5" x2="469.5" y2="114" stroke="#000" stroke-width="0.9"/>
<line x1="468.5" y1="97.5" x2="470.5" y2="97.5" stroke="#000" stroke-width="0.9"/>
<rect x="476.2" y="103.5" width="3.4" height="18" fill="#ab0b31"/>
<line x1="477.5" y1="100.5" x2="477.5" y2="106.5" stroke="#000" stroke-width="0.9"/>
<line x1="476.5" y1="100.5" x2="478.5" y2="100.5" stroke="#000" stroke-width="0.9"/>
<rect x="481.5" y="76.95" width="3.4" height="44.55" fill="#264787"/>
<line x1="483.5" y1="69" x2="483.5" y2="84.9" stroke="#000" stroke-width="0.9"/>
<line x1="482.5" y1="69" x2="484.5" y2="69" stroke="#000" stroke-width="0.9"/>
<rect x="486.8" y="103.5" width="3.4" height="18" fill="#63ad3b"/>
<line x1="488.5" y1="99.75" x2="488.5" y2="107.25" stroke="#000" stroke-width="0.9"/>
<line x1="487.5" y1="99.75" x2="489.5" y2="99.75" stroke="#000" stroke-width="0.9"/>
<rect x="495.8" y="99" width="3.4" height="22.5" fill="#ab0b31"/>
<line x1="497.5" y1="94.5" x2="497.5" y2="103.5" stroke="#000" stroke-width="0.9"/>
<line x1="496.5" y1="94.5" x2="498.5" y2="94.5" stroke="#000" stroke-width="0.9"/>
<rect x="501.1" y="63.15" width="3.4" height="58.35" fill="#264787"/>
<line x1="502.5" y1="51.75" x2="502.5" y2="74.55" stroke="#000" stroke-width="0.9"/>
<line x1="501.5" y1="51.75" x2="503.5" y2="51.75" stroke="#000" stroke-width="0.9"/>
<rect x="506.4" y="99.75" width="3.4" height="21.75" fill="#63ad3b"/>
<line x1="508.5" y1="96.75" x2="508.5" y2="102.75" stroke="#000" stroke-width="0.9"/>
<line x1="507.5" y1="96.75" x2="509.5" y2="96.75" stroke="#000" stroke-width="0.9"/>
<line x1="358.5" y1="121.5" x2="358.5" y2="123.9" stroke="#1e1e1e" stroke-width="0.95"/>
<line x1="378.5" y1="121.5" x2="378.5" y2="123.9" stroke="#1e1e1e" stroke-width="0.95"/>
<line x1="397.5" y1="121.5" x2="397.5" y2="123.9" stroke="#1e1e1e" stroke-width="0.95"/>
<line x1="416.5" y1="121.5" x2="416.5" y2="123.9" stroke="#1e1e1e" stroke-width="0.95"/>
<line x1="435.5" y1="121.5" x2="435.5" y2="123.9" stroke="#1e1e1e" stroke-width="0.95"/>
<line x1="454.5" y1="121.5" x2="454.5" y2="123.9" stroke="#1e1e1e" stroke-width="0.95"/>
<line x1="473.5" y1="121.5" x2="473.5" y2="123.9" stroke="#1e1e1e" stroke-width="0.95"/>
<line x1="493.5" y1="121.5" x2="493.5" y2="123.9" stroke="#1e1e1e" stroke-width="0.95"/>
<text x="348.3" y="132.5" font-size="7" text-anchor="end" fill="#1a1a1a" font-weight="normal" font-style="normal" transform="rotate(-45 348.3 132.5)" textLength="12.5" lengthAdjust="spacingAndGlyphs" stroke="#1a1a1a" stroke-width="0.12">PIG</text>
<text x="354.59" y="138.79" font-size="7" text-anchor="end" fill="#1a1a1a" font-weight="normal" font-style="normal" transform="rotate(-45 354.59 138.79)" textLength="8.5" lengthAdjust="spacingAndGlyphs" stroke="#1a1a1a" stroke-width="0.12">eV</text>
<text x="372.2" y="132.5" font-size="7" text-anchor="end" fill="#1a1a1a" font-weight="normal" font-style="normal" transform="rotate(-45 372.2 132.5)" textLength="11" lengthAdjust="spacingAndGlyphs" stroke="#1a1a1a" stroke-width="0.12">WT</text>
<text x="391.3" y="132.5" font-size="7" text-anchor="end" fill="#1a1a1a" font-weight="normal" font-style="normal" transform="rotate(-45 391.3 132.5)" textLength="21.5" lengthAdjust="spacingAndGlyphs" stroke="#1a1a1a" stroke-width="0.12">S505N</text>
<text x="410.7" y="132.5" font-size="7" text-anchor="end" fill="#1a1a1a" font-weight="normal" font-style="normal" transform="rotate(-45 410.7 132.5)" textLength="22" lengthAdjust="spacingAndGlyphs" stroke="#1a1a1a" stroke-width="0.12">H499C</text>
<text x="429.9" y="132.5" font-size="7" text-anchor="end" fill="#1a1a1a" font-weight="normal" font-style="normal" transform="rotate(-45 429.9 132.5)" textLength="21" lengthAdjust="spacingAndGlyphs" stroke="#1a1a1a" stroke-width="0.12">H499L</text>
<text x="449" y="132.5" font-size="7" text-anchor="end" fill="#1a1a1a" font-weight="normal" font-style="normal" transform="rotate(-45 449 132.5)" textLength="23" lengthAdjust="spacingAndGlyphs" stroke="#1a1a1a" stroke-width="0.12">H499W</text>
<text x="468.2" y="132.5" font-size="7" text-anchor="end" fill="#1a1a1a" font-weight="normal" font-style="normal" transform="rotate(-45 468.2 132.5)" textLength="21" lengthAdjust="spacingAndGlyphs" stroke="#1a1a1a" stroke-width="0.12">H499F</text>
<text x="487.2" y="132.5" font-size="7" text-anchor="end" fill="#1a1a1a" font-weight="normal" font-style="normal" transform="rotate(-45 487.2 132.5)" textLength="22" lengthAdjust="spacingAndGlyphs" stroke="#1a1a1a" stroke-width="0.12">H499N</text>
<text x="506.8" y="132.5" font-size="7" text-anchor="end" fill="#1a1a1a" font-weight="normal" font-style="normal" transform="rotate(-45 506.8 132.5)" textLength="22" lengthAdjust="spacingAndGlyphs" stroke="#1a1a1a" stroke-width="0.12">H499A</text>
<text x="317" y="136.2" font-size="7.2" text-anchor="start" fill="#1a1a1a" font-weight="normal" font-style="normal" textLength="16.3" lengthAdjust="spacingAndGlyphs" stroke="#1a1a1a" stroke-width="0.12">TpoR</text>
<line x1="362.5" y1="23" x2="362.5" y2="69.1" stroke="#1e1e1e" stroke-width="0.95"/>
<polyline points="362.5,23.5 497.5,23.5 497.5,35.5" stroke="#1e1e1e" stroke-width="0.95" fill="none"/>
<text x="430" y="21.6" font-size="7" text-anchor="middle" fill="#1a1a1a" font-weight="normal" font-style="normal" textLength="7.2" lengthAdjust="spacingAndGlyphs" stroke="#1a1a1a" stroke-width="0.12">ns</text>
<polyline points="362.5,30.5 478.5,30.5 478.5,42.5" stroke="#1e1e1e" stroke-width="0.95" fill="none"/>
<text x="420.8" y="28.8" font-size="7" text-anchor="middle" fill="#1a1a1a" font-weight="normal" font-style="normal" textLength="7.2" lengthAdjust="spacingAndGlyphs" stroke="#1a1a1a" stroke-width="0.12">ns</text>
<polyline points="362.5,38.5 458.5,38.5 458.5,49.5" stroke="#1e1e1e" stroke-width="0.95" fill="none"/>
<text x="411.2" y="36" font-size="7" text-anchor="middle" fill="#1a1a1a" font-weight="normal" font-style="normal" textLength="7.2" lengthAdjust="spacingAndGlyphs" stroke="#1a1a1a" stroke-width="0.12">ns</text>
<polyline points="362.5,45.5 420.5,45.5 420.5,56.5" stroke="#1e1e1e" stroke-width="0.95" fill="none"/>
<text x="391.9" y="42.7" font-size="7" text-anchor="middle" fill="#1a1a1a" font-weight="normal" font-style="normal" textLength="7.2" lengthAdjust="spacingAndGlyphs" stroke="#1a1a1a" stroke-width="0.12">ns</text>
<rect x="319" y="154.3" width="8.5" height="5.8" fill="#ab0b31"/>
<text x="330.9" y="159.6" font-size="7.1" text-anchor="start" fill="#1a1a1a" font-weight="normal" font-style="normal" textLength="37.6" lengthAdjust="spacingAndGlyphs" stroke="#1a1a1a" stroke-width="0.12">No cytokine</text>
<rect x="378.7" y="154.3" width="8.6" height="5.8" fill="#264787"/>
<text x="390.8" y="159.6" font-size="7.1" text-anchor="start" fill="#1a1a1a" font-weight="normal" font-style="normal" textLength="48.4" lengthAdjust="spacingAndGlyphs" stroke="#1a1a1a" stroke-width="0.12">Tpo (10 ng/mL)</text>
<rect x="448.5" y="154.3" width="8.6" height="5.8" fill="#63ad3b"/>
<text x="460" y="159.6" font-size="7.1" text-anchor="start" fill="#1a1a1a" font-weight="normal" font-style="normal" textLength="47" lengthAdjust="spacingAndGlyphs" stroke="#1a1a1a" stroke-width="0.12">Elt (0.7 µg/mL)</text>
<defs><linearGradient id="flD1" x1="0" y1="0" x2="1" y2="0"><stop offset="0" stop-color="#d4d4d4"/><stop offset="0.45" stop-color="#e8e8e8"/><stop offset="1" stop-color="#f2f2f2"/></linearGradient></defs>
<path d="M65.6,416.7 L138.6,416.7 L157.4,405.1 L84.4,405.1 Z" fill="url(#flD1)"/>
<line x1="87" y1="416.7" x2="105.8" y2="405.1" stroke="#d0d0d0" stroke-width="1.8"/>
<line x1="97" y1="416.7" x2="115.8" y2="405.1" stroke="#d0d0d0" stroke-width="1.8"/>
<line x1="106" y1="416.7" x2="124.8" y2="405.1" stroke="#d0d0d0" stroke-width="1.8"/>
<line x1="116" y1="416.7" x2="134.8" y2="405.1" stroke="#d0d0d0" stroke-width="1.8"/>
<line x1="121" y1="416.7" x2="139.8" y2="405.1" stroke="#d0d0d0" stroke-width="1.8"/>
<line x1="131" y1="416.7" x2="149.8" y2="405.1" stroke="#d0d0d0" stroke-width="1.8"/>
<line x1="90" y1="416.7" x2="108.8" y2="405.1" stroke="#fff" stroke-width="1.8"/>
<line x1="103" y1="416.7" x2="121.8" y2="405.1" stroke="#fff" stroke-width="1.8"/>
<line x1="109" y1="416.7" x2="127.8" y2="405.1" stroke="#fff" stroke-width="1.8"/>
<line x1="119" y1="416.7" x2="137.8" y2="405.1" stroke="#fff" stroke-width="1.8"/>
<line x1="129" y1="416.7" x2="147.8" y2="405.1" stroke="#fff" stroke-width="1.8"/>
<line x1="80" y1="416.7" x2="98.8" y2="405.1" stroke="#111" stroke-width="0.85"/>
<line x1="83" y1="416.7" x2="101.8" y2="405.1" stroke="#111" stroke-width="0.85"/>
<line x1="93.7" y1="416.7" x2="112.5" y2="405.1" stroke="#111" stroke-width="0.85"/>
<line x1="100.4" y1="416.7" x2="119.2" y2="405.1" stroke="#111" stroke-width="0.85"/>
<line x1="112" y1="416.7" x2="130.8" y2="405.1" stroke="#111" stroke-width="0.85"/>
<line x1="126.3" y1="416.7" x2="145.1" y2="405.1" stroke="#111" stroke-width="0.85"/>
<path d="M84.4,405.1 L85.19,405.1 L85.99,405.1 L86.78,405.1 L87.57,405.1 L88.37,405.1 L89.16,405.1 L89.95,405.1 L90.75,405.1 L91.54,405.1 L92.33,405.1 L93.13,405.1 L93.92,405.1 L94.72,405.1 L95.51,405.1 L96.3,405.09 L97.1,405.08 L97.89,405.05 L98.68,404.98 L99.48,404.82 L100.27,404.47 L101.06,403.79 L101.86,402.85 L102.65,401.02 L103.44,398.54 L104.24,395.26 L105.03,390.58 L105.82,386.57 L106.62,381.68 L107.41,377.56 L108.2,371.73 L109,367.05 L109.79,362.52 L110.58,359.57 L111.38,356.69 L112.17,354.53 L112.97,356.12 L113.76,357.7 L114.55,358.15 L115.35,357.1 L116.14,355.45 L116.93,355.59 L117.73,357.14 L118.52,358.48 L119.31,362.64 L120.11,364.72 L120.9,368.59 L121.69,370.43 L122.49,374.65 L123.28,377.65 L124.07,377.96 L124.87,380.44 L125.66,385.05 L126.45,386.89 L127.25,390.41 L128.04,391.28 L128.83,392.18 L129.63,394.75 L130.42,396.75 L131.22,397.53 L132.01,398.41 L132.8,399.66 L133.6,401.12 L134.39,401.86 L135.18,402.16 L135.98,402.69 L136.77,403.11 L137.56,403.5 L138.36,403.97 L139.15,404.16 L139.94,404.4 L140.74,404.56 L141.53,404.69 L142.32,404.79 L143.12,404.86 L143.91,404.92 L144.7,404.97 L145.5,405 L146.29,405.03 L147.08,405.05 L147.88,405.06 L148.67,405.07 L149.47,405.08 L150.26,405.09 L151.05,405.09 L151.85,405.09 L152.64,405.1 L153.43,405.1 L154.23,405.1 L155.02,405.1 L155.81,405.1 L156.61,405.1 L157.4,405.1 Z" fill="#f5dc96" fill-opacity="0.6" stroke="none"/>
<path d="M84.4,405.1 L85.19,405.1 L85.99,405.1 L86.78,405.1 L87.57,405.1 L88.37,405.1 L89.16,405.1 L89.95,405.1 L90.75,405.1 L91.54,405.1 L92.33,405.1 L93.13,405.1 L93.92,405.1 L94.72,405.1 L95.51,405.1 L96.3,405.09 L97.1,405.08 L97.89,405.05 L98.68,404.98 L99.48,404.82 L100.27,404.47 L101.06,403.79 L101.86,402.85 L102.65,401.02 L103.44,398.54 L104.24,395.26 L105.03,390.58 L105.82,386.57 L106.62,381.68 L107.41,377.56 L108.2,371.73 L109,367.05 L109.79,362.52 L110.58,359.57 L111.38,356.69 L112.17,354.53 L112.97,356.12 L113.76,357.7 L114.55,358.15 L115.35,357.1 L116.14,355.45 L116.93,355.59 L117.73,357.14 L118.52,358.48 L119.31,362.64 L120.11,364.72 L120.9,368.59 L121.69,370.43 L122.49,374.65 L123.28,377.65 L124.07,377.96 L124.87,380.44 L125.66,385.05 L126.45,386.89 L127.25,390.41 L128.04,391.28 L128.83,392.18 L129.63,394.75 L130.42,396.75 L131.22,397.53 L132.01,398.41 L132.8,399.66 L133.6,401.12 L134.39,401.86 L135.18,402.16 L135.98,402.69 L136.77,403.11 L137.56,403.5 L138.36,403.97 L139.15,404.16 L139.94,404.4 L140.74,404.56 L141.53,404.69 L142.32,404.79 L143.12,404.86 L143.91,404.92 L144.7,404.97 L145.5,405 L146.29,405.03 L147.08,405.05 L147.88,405.06 L148.67,405.07 L149.47,405.08 L150.26,405.09 L151.05,405.09 L151.85,405.09 L152.64,405.1 L153.43,405.1 L154.23,405.1 L155.02,405.1 L155.81,405.1 L156.61,405.1 L157.4,405.1" fill="none" stroke="#f0c030" stroke-width="1.15" stroke-linejoin="round"/>
<path d="M79.7,407.94 L80.49,407.9 L81.29,407.83 L82.08,407.72 L82.87,407.56 L83.67,407.34 L84.46,406.98 L85.25,406.34 L86.05,405.62 L86.84,404.5 L87.63,402.99 L88.43,401.75 L89.22,399.93 L90.02,395.87 L90.81,393.5 L91.6,389.46 L92.4,384.22 L93.19,378.7 L93.98,374.42 L94.78,368.72 L95.57,364.03 L96.36,359.27 L97.16,353.47 L97.95,351.45 L98.74,350.27 L99.54,349.55 L100.33,348.75 L101.12,347.82 L101.92,348.98 L102.71,351.88 L103.5,357.82 L104.3,360.77 L105.09,364.96 L105.88,371.06 L106.68,374.46 L107.47,379.25 L108.27,383.3 L109.06,386.09 L109.85,390.87 L110.65,394.9 L111.44,396.64 L112.23,398.91 L113.03,401.11 L113.82,402.51 L114.61,404.08 L115.41,405.29 L116.2,406.03 L116.99,406.57 L117.79,407.03 L118.58,407.27 L119.37,407.52 L120.17,407.67 L120.96,407.79 L121.75,407.86 L122.55,407.91 L123.34,407.94 L124.13,407.97 L124.93,407.98 L125.72,407.99 L126.52,407.99 L127.31,408 L128.1,408 L128.9,408 L129.69,408 L130.48,408 L131.28,408 L132.07,408 L132.86,408 L133.66,408 L134.45,408 L135.24,408 L136.04,408 L136.83,408 L137.62,408 L138.42,408 L139.21,408 L140,408 L140.8,408 L141.59,408 L142.38,408 L143.18,408 L143.97,408 L144.77,408 L145.56,408 L146.35,408 L147.15,408 L147.94,408 L148.73,408 L149.53,408 L150.32,408 L151.11,408 L151.91,408 L152.7,408 Z" fill="#a9c3bf" fill-opacity="0.55" stroke="none"/>
<path d="M79.7,407.94 L80.49,407.9 L81.29,407.83 L82.08,407.72 L82.87,407.56 L83.67,407.34 L84.46,406.98 L85.25,406.34 L86.05,405.62 L86.84,404.5 L87.63,402.99 L88.43,401.75 L89.22,399.93 L90.02,395.87 L90.81,393.5 L91.6,389.46 L92.4,384.22 L93.19,378.7 L93.98,374.42 L94.78,368.72 L95.57,364.03 L96.36,359.27 L97.16,353.47 L97.95,351.45 L98.74,350.27 L99.54,349.55 L100.33,348.75 L101.12,347.82 L101.92,348.98 L102.71,351.88 L103.5,357.82 L104.3,360.77 L105.09,364.96 L105.88,371.06 L106.68,374.46 L107.47,379.25 L108.27,383.3 L109.06,386.09 L109.85,390.87 L110.65,394.9 L111.44,396.64 L112.23,398.91 L113.03,401.11 L113.82,402.51 L114.61,404.08 L115.41,405.29 L116.2,406.03 L116.99,406.57 L117.79,407.03 L118.58,407.27 L119.37,407.52 L120.17,407.67 L120.96,407.79 L121.75,407.86 L122.55,407.91 L123.34,407.94 L124.13,407.97 L124.93,407.98 L125.72,407.99 L126.52,407.99 L127.31,408 L128.1,408 L128.9,408 L129.69,408 L130.48,408 L131.28,408 L132.07,408 L132.86,408 L133.66,408 L134.45,408 L135.24,408 L136.04,408 L136.83,408 L137.62,408 L138.42,408 L139.21,408 L140,408 L140.8,408 L141.59,408 L142.38,408 L143.18,408 L143.97,408 L144.77,408 L145.56,408 L146.35,408 L147.15,408 L147.94,408 L148.73,408 L149.53,408 L150.32,408 L151.11,408 L151.91,408 L152.7,408" fill="none" stroke="#4d8a6a" stroke-width="1.15" stroke-linejoin="round"/>
<path d="M75,410.9 L75.79,410.9 L76.59,410.9 L77.38,410.89 L78.17,410.88 L78.97,410.87 L79.76,410.85 L80.55,410.8 L81.35,410.73 L82.14,410.61 L82.93,410.42 L83.73,410.1 L84.52,409.7 L85.32,409.02 L86.11,408.17 L86.9,406.61 L87.7,404.7 L88.49,402.08 L89.28,399.5 L90.08,396.98 L90.87,392.54 L91.66,388.08 L92.46,381.63 L93.25,376.61 L94.04,369.1 L94.84,363.46 L95.63,359.52 L96.42,355.86 L97.22,352.09 L98.01,349.16 L98.8,349.04 L99.6,349.7 L100.39,351.52 L101.18,355.62 L101.98,357.5 L102.77,362.82 L103.57,367.48 L104.36,369.57 L105.15,374.23 L105.95,379.1 L106.74,382.15 L107.53,386.99 L108.33,392.42 L109.12,394.24 L109.91,397.89 L110.71,399.89 L111.5,402.61 L112.29,404.86 L113.09,405.88 L113.88,406.9 L114.67,407.9 L115.47,408.83 L116.26,409.33 L117.05,409.77 L117.85,410.15 L118.64,410.4 L119.43,410.56 L120.23,410.67 L121.02,410.75 L121.82,410.8 L122.61,410.84 L123.4,410.86 L124.2,410.88 L124.99,410.88 L125.78,410.89 L126.58,410.89 L127.37,410.9 L128.16,410.9 L128.96,410.9 L129.75,410.9 L130.54,410.9 L131.34,410.9 L132.13,410.9 L132.92,410.9 L133.72,410.9 L134.51,410.9 L135.3,410.9 L136.1,410.9 L136.89,410.9 L137.68,410.9 L138.48,410.9 L139.27,410.9 L140.07,410.9 L140.86,410.9 L141.65,410.9 L142.45,410.9 L143.24,410.9 L144.03,410.9 L144.83,410.9 L145.62,410.9 L146.41,410.9 L147.21,410.9 L148,410.9" fill="none" stroke="#9d94d4" stroke-width="1.15" stroke-linejoin="round"/>
<path d="M70.3,413.8 L71.09,413.8 L71.89,413.8 L72.68,413.8 L73.47,413.8 L74.27,413.8 L75.06,413.8 L75.85,413.8 L76.65,413.8 L77.44,413.8 L78.23,413.8 L79.03,413.8 L79.82,413.8 L80.62,413.8 L81.41,413.79 L82.2,413.78 L83,413.77 L83.79,413.74 L84.58,413.69 L85.38,413.59 L86.17,413.43 L86.96,413.13 L87.76,412.68 L88.55,412.17 L89.34,410.96 L90.14,409.68 L90.93,407.59 L91.72,405.23 L92.52,401.45 L93.31,397.85 L94.1,392.64 L94.9,387.35 L95.69,382.13 L96.48,375.24 L97.28,367.71 L98.07,361.65 L98.87,359.89 L99.66,356.88 L100.45,355.58 L101.25,359.57 L102.04,362.98 L102.83,367.79 L103.63,371.89 L104.42,372.16 L105.21,372.92 L106.01,376.08 L106.8,377.25 L107.59,382.29 L108.39,384.8 L109.18,390.04 L109.97,394.26 L110.77,398.37 L111.56,401.17 L112.35,403.03 L113.15,404.67 L113.94,406.45 L114.73,408.38 L115.53,409.74 L116.32,410.57 L117.12,411.66 L117.91,412.2 L118.7,412.68 L119.5,412.96 L120.29,413.23 L121.08,413.41 L121.88,413.54 L122.67,413.63 L123.46,413.69 L124.26,413.73 L125.05,413.75 L125.84,413.77 L126.64,413.78 L127.43,413.79 L128.22,413.79 L129.02,413.8 L129.81,413.8 L130.6,413.8 L131.4,413.8 L132.19,413.8 L132.98,413.8 L133.78,413.8 L134.57,413.8 L135.37,413.8 L136.16,413.8 L136.95,413.8 L137.75,413.8 L138.54,413.8 L139.33,413.8 L140.13,413.8 L140.92,413.8 L141.71,413.8 L142.51,413.8 L143.3,413.8" fill="none" stroke="#6aaee0" stroke-width="1.15" stroke-linejoin="round"/>
<path d="M65.6,416.7 L66.39,416.7 L67.19,416.7 L67.98,416.7 L68.77,416.7 L69.57,416.7 L70.36,416.7 L71.15,416.7 L71.95,416.7 L72.74,416.7 L73.53,416.7 L74.33,416.7 L75.12,416.7 L75.92,416.7 L76.71,416.69 L77.5,416.65 L78.3,416.46 L79.09,415.78 L79.88,413.81 L80.68,409.08 L81.47,399.78 L82.26,385.16 L83.06,367.31 L83.85,351.74 L84.64,344.93 L85.44,350.1 L86.23,364.79 L87.02,382.72 L87.82,398.01 L88.61,408.07 L89.4,413.35 L90.2,415.61 L90.99,416.4 L91.78,416.63 L92.58,416.69 L93.37,416.7 L94.17,416.7 L94.96,416.7 L95.75,416.7 L96.55,416.7 L97.34,416.7 L98.13,416.7 L98.93,416.7 L99.72,416.7 L100.51,416.7 L101.31,416.7 L102.1,416.7 L102.89,416.7 L103.69,416.7 L104.48,416.7 L105.27,416.7 L106.07,416.7 L106.86,416.7 L107.65,416.7 L108.45,416.7 L109.24,416.7 L110.03,416.7 L110.83,416.7 L111.62,416.7 L112.42,416.7 L113.21,416.7 L114,416.7 L114.8,416.7 L115.59,416.7 L116.38,416.7 L117.18,416.7 L117.97,416.7 L118.76,416.7 L119.56,416.7 L120.35,416.7 L121.14,416.7 L121.94,416.7 L122.73,416.7 L123.52,416.7 L124.32,416.7 L125.11,416.7 L125.9,416.7 L126.7,416.7 L127.49,416.7 L128.28,416.7 L129.08,416.7 L129.87,416.7 L130.67,416.7 L131.46,416.7 L132.25,416.7 L133.05,416.7 L133.84,416.7 L134.63,416.7 L135.43,416.7 L136.22,416.7 L137.01,416.7 L137.81,416.7 L138.6,416.7" fill="none" stroke="#ab0b31" stroke-width="1" stroke-linejoin="round"/>
<line x1="66" y1="417.2" x2="66" y2="418.9" stroke="#222" stroke-width="0.6"/>
<line x1="68" y1="417.2" x2="68" y2="418.9" stroke="#222" stroke-width="0.6"/>
<line x1="71" y1="417.2" x2="71" y2="418.9" stroke="#222" stroke-width="0.6"/>
<line x1="74" y1="417.2" x2="74" y2="418.9" stroke="#222" stroke-width="0.6"/>
<line x1="77" y1="417.2" x2="77" y2="418.9" stroke="#222" stroke-width="0.6"/>
<line x1="80" y1="417.2" x2="80" y2="418.9" stroke="#222" stroke-width="0.6"/>
<line x1="83" y1="417.2" x2="83" y2="418.9" stroke="#222" stroke-width="0.6"/>
<line x1="86" y1="417.2" x2="86" y2="418.9" stroke="#222" stroke-width="0.6"/>
<line x1="89" y1="417.2" x2="89" y2="418.9" stroke="#222" stroke-width="0.6"/>
<line x1="92" y1="417.2" x2="92" y2="418.9" stroke="#222" stroke-width="0.6"/>
<line x1="95" y1="417.2" x2="95" y2="418.9" stroke="#222" stroke-width="0.6"/>
<line x1="98" y1="417.2" x2="98" y2="418.9" stroke="#222" stroke-width="0.6"/>
<line x1="101" y1="417.2" x2="101" y2="418.9" stroke="#222" stroke-width="0.6"/>
<line x1="104" y1="417.2" x2="104" y2="418.9" stroke="#222" stroke-width="0.6"/>
<line x1="107" y1="417.2" x2="107" y2="418.9" stroke="#222" stroke-width="0.6"/>
<line x1="110" y1="417.2" x2="110" y2="418.9" stroke="#222" stroke-width="0.6"/>
<line x1="113" y1="417.2" x2="113" y2="418.9" stroke="#222" stroke-width="0.6"/>
<line x1="116" y1="417.2" x2="116" y2="418.9" stroke="#222" stroke-width="0.6"/>
<line x1="119" y1="417.2" x2="119" y2="418.9" stroke="#222" stroke-width="0.6"/>
<line x1="122" y1="417.2" x2="122" y2="418.9" stroke="#222" stroke-width="0.6"/>
<line x1="125" y1="417.2" x2="125" y2="418.9" stroke="#222" stroke-width="0.6"/>
<line x1="128" y1="417.2" x2="128" y2="418.9" stroke="#222" stroke-width="0.6"/>
<line x1="131" y1="417.2" x2="131" y2="418.9" stroke="#222" stroke-width="0.6"/>
<line x1="134" y1="417.2" x2="134" y2="418.9" stroke="#222" stroke-width="0.6"/>
<line x1="137" y1="417.2" x2="137" y2="418.9" stroke="#222" stroke-width="0.6"/>
<rect x="78.9" y="416.2" width="2.2" height="2.2" fill="#000"/>
<text x="80" y="429" font-size="7" text-anchor="middle" fill="#1a1a1a" font-weight="normal" font-style="normal" stroke="#1a1a1a" stroke-width="0.12">0</text>
<text x="105.4" y="429" font-size="7" fill="#1a1a1a">10<tspan dy="-3" font-size="4.55">4</tspan></text>
<defs><linearGradient id="flD2" x1="0" y1="0" x2="1" y2="0"><stop offset="0" stop-color="#d4d4d4"/><stop offset="0.45" stop-color="#e8e8e8"/><stop offset="1" stop-color="#f2f2f2"/></linearGradient></defs>
<path d="M170.6,417 L243.6,417 L263.22,405.42 L190.22,405.42 Z" fill="url(#flD2)"/>
<line x1="192" y1="417" x2="211.62" y2="405.42" stroke="#d0d0d0" stroke-width="1.8"/>
<line x1="202" y1="417" x2="221.62" y2="405.42" stroke="#d0d0d0" stroke-width="1.8"/>
<line x1="211" y1="417" x2="230.62" y2="405.42" stroke="#d0d0d0" stroke-width="1.8"/>
<line x1="221" y1="417" x2="240.62" y2="405.42" stroke="#d0d0d0" stroke-width="1.8"/>
<line x1="226" y1="417" x2="245.62" y2="405.42" stroke="#d0d0d0" stroke-width="1.8"/>
<line x1="236" y1="417" x2="255.62" y2="405.42" stroke="#d0d0d0" stroke-width="1.8"/>
<line x1="195" y1="417" x2="214.62" y2="405.42" stroke="#fff" stroke-width="1.8"/>
<line x1="208" y1="417" x2="227.62" y2="405.42" stroke="#fff" stroke-width="1.8"/>
<line x1="214" y1="417" x2="233.62" y2="405.42" stroke="#fff" stroke-width="1.8"/>
<line x1="224" y1="417" x2="243.62" y2="405.42" stroke="#fff" stroke-width="1.8"/>
<line x1="234" y1="417" x2="253.62" y2="405.42" stroke="#fff" stroke-width="1.8"/>
<line x1="185" y1="417" x2="204.62" y2="405.42" stroke="#111" stroke-width="0.85"/>
<line x1="188" y1="417" x2="207.62" y2="405.42" stroke="#111" stroke-width="0.85"/>
<line x1="198.7" y1="417" x2="218.32" y2="405.42" stroke="#111" stroke-width="0.85"/>
<line x1="205.4" y1="417" x2="225.02" y2="405.42" stroke="#111" stroke-width="0.85"/>
<line x1="217" y1="417" x2="236.62" y2="405.42" stroke="#111" stroke-width="0.85"/>
<line x1="231.3" y1="417" x2="250.92" y2="405.42" stroke="#111" stroke-width="0.85"/>
<path d="M190.22,405.42 L191.01,405.42 L191.81,405.42 L192.6,405.42 L193.39,405.42 L194.19,405.42 L194.98,405.42 L195.77,405.42 L196.57,405.42 L197.36,405.42 L198.15,405.42 L198.95,405.42 L199.74,405.42 L200.54,405.42 L201.33,405.42 L202.12,405.42 L202.92,405.42 L203.71,405.42 L204.5,405.42 L205.3,405.42 L206.09,405.42 L206.88,405.42 L207.68,405.41 L208.47,405.4 L209.26,405.37 L210.06,405.3 L210.85,405.18 L211.64,404.96 L212.44,404.57 L213.23,403.97 L214.02,402.93 L214.82,401.32 L215.61,399.01 L216.4,396.06 L217.2,392.06 L217.99,386.76 L218.79,383.33 L219.58,378.28 L220.37,373.23 L221.17,366.94 L221.96,361.09 L222.75,356.98 L223.55,351.73 L224.34,350.26 L225.13,348.43 L225.93,346.92 L226.72,346.92 L227.51,349.5 L228.31,352.47 L229.1,355.81 L229.89,356.59 L230.69,355.7 L231.48,355.88 L232.27,358.99 L233.07,361.31 L233.86,364.13 L234.65,367.03 L235.45,370.58 L236.24,372.95 L237.04,377.45 L237.83,381.79 L238.62,383.37 L239.42,386.56 L240.21,389.68 L241,389.9 L241.8,391.68 L242.59,394.7 L243.38,396.67 L244.18,397.9 L244.97,398.59 L245.76,399.81 L246.56,401.13 L247.35,402.02 L248.14,402.65 L248.94,402.95 L249.73,403.58 L250.52,403.88 L251.32,404.25 L252.11,404.43 L252.9,404.72 L253.7,404.85 L254.49,404.98 L255.29,405.09 L256.08,405.17 L256.87,405.23 L257.67,405.28 L258.46,405.32 L259.25,405.34 L260.05,405.36 L260.84,405.38 L261.63,405.39 L262.43,405.4 L263.22,405.41 Z" fill="#c3cde2" fill-opacity="0.65" stroke="none"/>
<path d="M190.22,405.42 L191.01,405.42 L191.81,405.42 L192.6,405.42 L193.39,405.42 L194.19,405.42 L194.98,405.42 L195.77,405.42 L196.57,405.42 L197.36,405.42 L198.15,405.42 L198.95,405.42 L199.74,405.42 L200.54,405.42 L201.33,405.42 L202.12,405.42 L202.92,405.42 L203.71,405.42 L204.5,405.42 L205.3,405.42 L206.09,405.42 L206.88,405.42 L207.68,405.41 L208.47,405.4 L209.26,405.37 L210.06,405.3 L210.85,405.18 L211.64,404.96 L212.44,404.57 L213.23,403.97 L214.02,402.93 L214.82,401.32 L215.61,399.01 L216.4,396.06 L217.2,392.06 L217.99,386.76 L218.79,383.33 L219.58,378.28 L220.37,373.23 L221.17,366.94 L221.96,361.09 L222.75,356.98 L223.55,351.73 L224.34,350.26 L225.13,348.43 L225.93,346.92 L226.72,346.92 L227.51,349.5 L228.31,352.47 L229.1,355.81 L229.89,356.59 L230.69,355.7 L231.48,355.88 L232.27,358.99 L233.07,361.31 L233.86,364.13 L234.65,367.03 L235.45,370.58 L236.24,372.95 L237.04,377.45 L237.83,381.79 L238.62,383.37 L239.42,386.56 L240.21,389.68 L241,389.9 L241.8,391.68 L242.59,394.7 L243.38,396.67 L244.18,397.9 L244.97,398.59 L245.76,399.81 L246.56,401.13 L247.35,402.02 L248.14,402.65 L248.94,402.95 L249.73,403.58 L250.52,403.88 L251.32,404.25 L252.11,404.43 L252.9,404.72 L253.7,404.85 L254.49,404.98 L255.29,405.09 L256.08,405.17 L256.87,405.23 L257.67,405.28 L258.46,405.32 L259.25,405.34 L260.05,405.36 L260.84,405.38 L261.63,405.39 L262.43,405.4 L263.22,405.41" fill="none" stroke="#3d5fa0" stroke-width="1.15" stroke-linejoin="round"/>
<path d="M186.95,407.35 L187.74,407.35 L188.54,407.35 L189.33,407.35 L190.12,407.35 L190.92,407.34 L191.71,407.34 L192.5,407.33 L193.3,407.31 L194.09,407.29 L194.88,407.24 L195.68,407.16 L196.47,407.03 L197.27,406.81 L198.06,406.45 L198.85,406.12 L199.65,405.26 L200.44,404.58 L201.23,402.93 L202.03,401.65 L202.82,399.26 L203.61,396.58 L204.41,394.55 L205.2,389.04 L205.99,384.46 L206.79,382.53 L207.58,377.75 L208.37,372.07 L209.17,370.35 L209.96,367.68 L210.75,362.91 L211.55,361.56 L212.34,360.37 L213.13,361.15 L213.93,363.47 L214.72,364.46 L215.52,368.32 L216.31,369.9 L217.1,373.15 L217.9,378.64 L218.69,381.72 L219.48,385.15 L220.28,389.04 L221.07,392 L221.86,394.56 L222.66,396.32 L223.45,399.54 L224.24,401.83 L225.04,403.3 L225.83,404.15 L226.62,404.8 L227.42,405.46 L228.21,406.09 L229,406.48 L229.8,406.69 L230.59,406.93 L231.38,407.07 L232.18,407.17 L232.97,407.24 L233.77,407.28 L234.56,407.31 L235.35,407.32 L236.15,407.33 L236.94,407.34 L237.73,407.34 L238.53,407.35 L239.32,407.35 L240.11,407.35 L240.91,407.35 L241.7,407.35 L242.49,407.35 L243.29,407.35 L244.08,407.35 L244.87,407.35 L245.67,407.35 L246.46,407.35 L247.25,407.35 L248.05,407.35 L248.84,407.35 L249.63,407.35 L250.43,407.35 L251.22,407.35 L252.02,407.35 L252.81,407.35 L253.6,407.35 L254.4,407.35 L255.19,407.35 L255.98,407.35 L256.78,407.35 L257.57,407.35 L258.36,407.35 L259.16,407.35 L259.95,407.35" fill="none" stroke="#6a3d8a" stroke-width="1.15" stroke-linejoin="round"/>
<path d="M183.68,409.28 L184.47,409.28 L185.27,409.28 L186.06,409.28 L186.85,409.28 L187.65,409.28 L188.44,409.28 L189.23,409.28 L190.03,409.28 L190.82,409.28 L191.61,409.28 L192.41,409.28 L193.2,409.28 L194,409.28 L194.79,409.28 L195.58,409.28 L196.38,409.28 L197.17,409.28 L197.96,409.28 L198.76,409.28 L199.55,409.28 L200.34,409.27 L201.14,409.26 L201.93,409.24 L202.72,409.21 L203.52,409.15 L204.31,409.04 L205.1,408.86 L205.9,408.55 L206.69,408.14 L207.48,407.39 L208.28,406.34 L209.07,404.75 L209.86,402.74 L210.66,399.73 L211.45,395.62 L212.25,392.67 L213.04,388.2 L213.83,382.02 L214.63,375.18 L215.42,367.39 L216.21,360.55 L217.01,355.15 L217.8,350.36 L218.59,349.68 L219.39,348.49 L220.18,349.95 L220.97,349.74 L221.77,352.31 L222.56,354.07 L223.35,353.58 L224.15,355.67 L224.94,360.31 L225.73,362.55 L226.53,366.91 L227.32,368.78 L228.11,370.58 L228.91,374.98 L229.7,379.04 L230.5,380.93 L231.29,382.95 L232.08,386.2 L232.88,390.87 L233.67,393.3 L234.46,394.08 L235.26,396.06 L236.05,397.73 L236.84,399.38 L237.64,401.77 L238.43,402.68 L239.22,404.02 L240.02,404.95 L240.81,405.62 L241.6,406.52 L242.4,406.92 L243.19,407.5 L243.98,407.79 L244.78,408.14 L245.57,408.38 L246.36,408.59 L247.16,408.78 L247.95,408.9 L248.75,408.99 L249.54,409.07 L250.33,409.12 L251.13,409.16 L251.92,409.19 L252.71,409.22 L253.51,409.24 L254.3,409.25 L255.09,409.26 L255.89,409.26 L256.68,409.27 Z" fill="#9cc08e" fill-opacity="0.5" stroke="none"/>
<path d="M183.68,409.28 L184.47,409.28 L185.27,409.28 L186.06,409.28 L186.85,409.28 L187.65,409.28 L188.44,409.28 L189.23,409.28 L190.03,409.28 L190.82,409.28 L191.61,409.28 L192.41,409.28 L193.2,409.28 L194,409.28 L194.79,409.28 L195.58,409.28 L196.38,409.28 L197.17,409.28 L197.96,409.28 L198.76,409.28 L199.55,409.28 L200.34,409.27 L201.14,409.26 L201.93,409.24 L202.72,409.21 L203.52,409.15 L204.31,409.04 L205.1,408.86 L205.9,408.55 L206.69,408.14 L207.48,407.39 L208.28,406.34 L209.07,404.75 L209.86,402.74 L210.66,399.73 L211.45,395.62 L212.25,392.67 L213.04,388.2 L213.83,382.02 L214.63,375.18 L215.42,367.39 L216.21,360.55 L217.01,355.15 L217.8,350.36 L218.59,349.68 L219.39,348.49 L220.18,349.95 L220.97,349.74 L221.77,352.31 L222.56,354.07 L223.35,353.58 L224.15,355.67 L224.94,360.31 L225.73,362.55 L226.53,366.91 L227.32,368.78 L228.11,370.58 L228.91,374.98 L229.7,379.04 L230.5,380.93 L231.29,382.95 L232.08,386.2 L232.88,390.87 L233.67,393.3 L234.46,394.08 L235.26,396.06 L236.05,397.73 L236.84,399.38 L237.64,401.77 L238.43,402.68 L239.22,404.02 L240.02,404.95 L240.81,405.62 L241.6,406.52 L242.4,406.92 L243.19,407.5 L243.98,407.79 L244.78,408.14 L245.57,408.38 L246.36,408.59 L247.16,408.78 L247.95,408.9 L248.75,408.99 L249.54,409.07 L250.33,409.12 L251.13,409.16 L251.92,409.19 L252.71,409.22 L253.51,409.24 L254.3,409.25 L255.09,409.26 L255.89,409.26 L256.68,409.27" fill="none" stroke="#6cb04a" stroke-width="1.15" stroke-linejoin="round"/>
<path d="M180.41,411.21 L181.2,411.2 L182,411.2 L182.79,411.2 L183.58,411.19 L184.38,411.18 L185.17,411.16 L185.96,411.13 L186.76,411.08 L187.55,411.02 L188.34,410.93 L189.14,410.81 L189.93,410.69 L190.73,410.36 L191.52,410.12 L192.31,409.69 L193.11,409.07 L193.9,408.26 L194.69,407.51 L195.49,406.31 L196.28,405.1 L197.07,403.53 L197.87,400.78 L198.66,399.24 L199.45,397.54 L200.25,395.14 L201.04,390.96 L201.83,385.34 L202.63,380.71 L203.42,376.89 L204.21,375.39 L205.01,370.45 L205.8,366.57 L206.59,364.73 L207.39,360.57 L208.18,358.44 L208.98,356.43 L209.77,354.16 L210.56,354.98 L211.36,356.99 L212.15,357.18 L212.94,359.42 L213.74,363.06 L214.53,365.72 L215.32,370.67 L216.12,376.03 L216.91,380.06 L217.7,383.61 L218.5,388.19 L219.29,389.85 L220.08,393.66 L220.88,396.25 L221.67,399.2 L222.46,400.71 L223.26,403.38 L224.05,404.43 L224.84,405.76 L225.64,407.33 L226.43,408.37 L227.23,408.89 L228.02,409.4 L228.81,409.8 L229.61,410.15 L230.4,410.47 L231.19,410.67 L231.99,410.82 L232.78,410.93 L233.57,411.01 L234.37,411.07 L235.16,411.11 L235.95,411.14 L236.75,411.16 L237.54,411.18 L238.33,411.19 L239.13,411.2 L239.92,411.2 L240.71,411.2 L241.51,411.21 L242.3,411.21 L243.09,411.21 L243.89,411.21 L244.68,411.21 L245.48,411.21 L246.27,411.21 L247.06,411.21 L247.86,411.21 L248.65,411.21 L249.44,411.21 L250.24,411.21 L251.03,411.21 L251.82,411.21 L252.62,411.21 L253.41,411.21 Z" fill="#e6b892" fill-opacity="0.5" stroke="none"/>
<path d="M180.41,411.21 L181.2,411.2 L182,411.2 L182.79,411.2 L183.58,411.19 L184.38,411.18 L185.17,411.16 L185.96,411.13 L186.76,411.08 L187.55,411.02 L188.34,410.93 L189.14,410.81 L189.93,410.69 L190.73,410.36 L191.52,410.12 L192.31,409.69 L193.11,409.07 L193.9,408.26 L194.69,407.51 L195.49,406.31 L196.28,405.1 L197.07,403.53 L197.87,400.78 L198.66,399.24 L199.45,397.54 L200.25,395.14 L201.04,390.96 L201.83,385.34 L202.63,380.71 L203.42,376.89 L204.21,375.39 L205.01,370.45 L205.8,366.57 L206.59,364.73 L207.39,360.57 L208.18,358.44 L208.98,356.43 L209.77,354.16 L210.56,354.98 L211.36,356.99 L212.15,357.18 L212.94,359.42 L213.74,363.06 L214.53,365.72 L215.32,370.67 L216.12,376.03 L216.91,380.06 L217.7,383.61 L218.5,388.19 L219.29,389.85 L220.08,393.66 L220.88,396.25 L221.67,399.2 L222.46,400.71 L223.26,403.38 L224.05,404.43 L224.84,405.76 L225.64,407.33 L226.43,408.37 L227.23,408.89 L228.02,409.4 L228.81,409.8 L229.61,410.15 L230.4,410.47 L231.19,410.67 L231.99,410.82 L232.78,410.93 L233.57,411.01 L234.37,411.07 L235.16,411.11 L235.95,411.14 L236.75,411.16 L237.54,411.18 L238.33,411.19 L239.13,411.2 L239.92,411.2 L240.71,411.2 L241.51,411.21 L242.3,411.21 L243.09,411.21 L243.89,411.21 L244.68,411.21 L245.48,411.21 L246.27,411.21 L247.06,411.21 L247.86,411.21 L248.65,411.21 L249.44,411.21 L250.24,411.21 L251.03,411.21 L251.82,411.21 L252.62,411.21 L253.41,411.21" fill="none" stroke="#e0902a" stroke-width="1.15" stroke-linejoin="round"/>
<path d="M177.14,413.13 L177.93,413.12 L178.73,413.11 L179.52,413.09 L180.31,413.06 L181.11,413.02 L181.9,412.96 L182.69,412.88 L183.49,412.77 L184.28,412.61 L185.07,412.35 L185.87,412.06 L186.66,411.74 L187.46,411.21 L188.25,410.65 L189.04,409.61 L189.84,408.48 L190.63,407 L191.42,405.71 L192.22,404.56 L193.01,402.27 L193.8,400.13 L194.6,396.59 L195.39,394.14 L196.18,388.99 L196.98,385.24 L197.77,382.44 L198.56,378.93 L199.36,374.12 L200.15,368.85 L200.94,365.12 L201.74,361.48 L202.53,358.56 L203.32,357.66 L204.12,354.49 L204.91,354.89 L205.71,354.96 L206.5,352.93 L207.29,354.02 L208.09,355.95 L208.88,356.8 L209.67,360.19 L210.47,364.95 L211.26,366.55 L212.05,371.01 L212.85,373.65 L213.64,378.44 L214.43,383.52 L215.23,385.58 L216.02,387.93 L216.81,391.03 L217.61,395.42 L218.4,397.41 L219.19,399.93 L219.99,402.85 L220.78,405.45 L221.57,406.65 L222.37,407.87 L223.16,409.12 L223.96,409.78 L224.75,410.67 L225.54,411.18 L226.34,411.73 L227.13,412.17 L227.92,412.34 L228.72,412.58 L229.51,412.74 L230.3,412.85 L231.1,412.94 L231.89,413 L232.68,413.04 L233.48,413.07 L234.27,413.1 L235.06,413.11 L235.86,413.12 L236.65,413.13 L237.44,413.13 L238.24,413.13 L239.03,413.14 L239.82,413.14 L240.62,413.14 L241.41,413.14 L242.21,413.14 L243,413.14 L243.79,413.14 L244.59,413.14 L245.38,413.14 L246.17,413.14 L246.97,413.14 L247.76,413.14 L248.55,413.14 L249.35,413.14 L250.14,413.14" fill="none" stroke="#d6288c" stroke-width="1.15" stroke-linejoin="round"/>
<path d="M173.87,415.07 L174.66,415.07 L175.46,415.07 L176.25,415.07 L177.04,415.07 L177.84,415.07 L178.63,415.07 L179.42,415.07 L180.22,415.07 L181.01,415.07 L181.8,415.07 L182.6,415.07 L183.39,415.07 L184.19,415.06 L184.98,415.06 L185.77,415.04 L186.57,415.01 L187.36,414.94 L188.15,414.82 L188.95,414.58 L189.74,414.17 L190.53,413.4 L191.33,412.25 L192.12,410.99 L192.91,408.01 L193.71,405.03 L194.5,400.4 L195.29,395.62 L196.09,388.58 L196.88,382.45 L197.67,375.06 L198.47,368.78 L199.26,364.15 L200.05,359.73 L200.85,356.68 L201.64,356.51 L202.44,360.89 L203.23,363.85 L204.02,367.21 L204.82,373.2 L205.61,375.55 L206.4,377.56 L207.2,379.86 L207.99,380.8 L208.78,383.75 L209.58,388.83 L210.37,390.74 L211.16,395.47 L211.96,397.2 L212.75,401.11 L213.54,403.88 L214.34,406.44 L215.13,408.16 L215.92,409.29 L216.72,410.26 L217.51,411.25 L218.3,412.3 L219.1,413.02 L219.89,413.45 L220.69,414.01 L221.48,414.28 L222.27,414.5 L223.07,414.67 L223.86,414.79 L224.65,414.88 L225.45,414.94 L226.24,414.98 L227.03,415.01 L227.83,415.03 L228.62,415.05 L229.41,415.05 L230.21,415.06 L231,415.06 L231.79,415.07 L232.59,415.07 L233.38,415.07 L234.17,415.07 L234.97,415.07 L235.76,415.07 L236.55,415.07 L237.35,415.07 L238.14,415.07 L238.94,415.07 L239.73,415.07 L240.52,415.07 L241.32,415.07 L242.11,415.07 L242.9,415.07 L243.7,415.07 L244.49,415.07 L245.28,415.07 L246.08,415.07 L246.87,415.07" fill="none" stroke="#6aaee0" stroke-width="1.15" stroke-linejoin="round"/>
<path d="M170.6,417 L171.39,417 L172.19,417 L172.98,417 L173.77,417 L174.57,417 L175.36,417 L176.15,417 L176.95,417 L177.74,417 L178.53,417 L179.33,417 L180.12,417 L180.92,417 L181.71,417 L182.5,416.98 L183.3,416.9 L184.09,416.59 L184.88,415.56 L185.68,412.76 L186.47,406.49 L187.26,395.14 L188.06,378.79 L188.85,360.91 L189.64,347.83 L190.44,345.36 L191.23,354.67 L192.02,371.46 L192.82,389.05 L193.61,402.59 L194.4,410.76 L195.2,414.73 L195.99,416.31 L196.78,416.82 L197.58,416.96 L198.37,416.99 L199.17,417 L199.96,417 L200.75,417 L201.55,417 L202.34,417 L203.13,417 L203.93,417 L204.72,417 L205.51,417 L206.31,417 L207.1,417 L207.89,417 L208.69,417 L209.48,417 L210.27,417 L211.07,417 L211.86,417 L212.65,417 L213.45,417 L214.24,417 L215.03,417 L215.83,417 L216.62,417 L217.42,417 L218.21,417 L219,417 L219.8,417 L220.59,417 L221.38,417 L222.18,417 L222.97,417 L223.76,417 L224.56,417 L225.35,417 L226.14,417 L226.94,417 L227.73,417 L228.52,417 L229.32,417 L230.11,417 L230.9,417 L231.7,417 L232.49,417 L233.28,417 L234.08,417 L234.87,417 L235.67,417 L236.46,417 L237.25,417 L238.05,417 L238.84,417 L239.63,417 L240.43,417 L241.22,417 L242.01,417 L242.81,417 L243.6,417" fill="none" stroke="#ab0b31" stroke-width="1" stroke-linejoin="round"/>
<line x1="171" y1="417.5" x2="171" y2="419.2" stroke="#222" stroke-width="0.6"/>
<line x1="173" y1="417.5" x2="173" y2="419.2" stroke="#222" stroke-width="0.6"/>
<line x1="176" y1="417.5" x2="176" y2="419.2" stroke="#222" stroke-width="0.6"/>
<line x1="179" y1="417.5" x2="179" y2="419.2" stroke="#222" stroke-width="0.6"/>
<line x1="182" y1="417.5" x2="182" y2="419.2" stroke="#222" stroke-width="0.6"/>
<line x1="185" y1="417.5" x2="185" y2="419.2" stroke="#222" stroke-width="0.6"/>
<line x1="188" y1="417.5" x2="188" y2="419.2" stroke="#222" stroke-width="0.6"/>
<line x1="191" y1="417.5" x2="191" y2="419.2" stroke="#222" stroke-width="0.6"/>
<line x1="194" y1="417.5" x2="194" y2="419.2" stroke="#222" stroke-width="0.6"/>
<line x1="197" y1="417.5" x2="197" y2="419.2" stroke="#222" stroke-width="0.6"/>
<line x1="200" y1="417.5" x2="200" y2="419.2" stroke="#222" stroke-width="0.6"/>
<line x1="203" y1="417.5" x2="203" y2="419.2" stroke="#222" stroke-width="0.6"/>
<line x1="206" y1="417.5" x2="206" y2="419.2" stroke="#222" stroke-width="0.6"/>
<line x1="209" y1="417.5" x2="209" y2="419.2" stroke="#222" stroke-width="0.6"/>
<line x1="212" y1="417.5" x2="212" y2="419.2" stroke="#222" stroke-width="0.6"/>
<line x1="215" y1="417.5" x2="215" y2="419.2" stroke="#222" stroke-width="0.6"/>
<line x1="218" y1="417.5" x2="218" y2="419.2" stroke="#222" stroke-width="0.6"/>
<line x1="221" y1="417.5" x2="221" y2="419.2" stroke="#222" stroke-width="0.6"/>
<line x1="224" y1="417.5" x2="224" y2="419.2" stroke="#222" stroke-width="0.6"/>
<line x1="227" y1="417.5" x2="227" y2="419.2" stroke="#222" stroke-width="0.6"/>
<line x1="230" y1="417.5" x2="230" y2="419.2" stroke="#222" stroke-width="0.6"/>
<line x1="233" y1="417.5" x2="233" y2="419.2" stroke="#222" stroke-width="0.6"/>
<line x1="236" y1="417.5" x2="236" y2="419.2" stroke="#222" stroke-width="0.6"/>
<line x1="239" y1="417.5" x2="239" y2="419.2" stroke="#222" stroke-width="0.6"/>
<line x1="242" y1="417.5" x2="242" y2="419.2" stroke="#222" stroke-width="0.6"/>
<rect x="183.9" y="416.5" width="2.2" height="2.2" fill="#000"/>
<text x="185" y="429" font-size="7" text-anchor="middle" fill="#1a1a1a" font-weight="normal" font-style="normal" stroke="#1a1a1a" stroke-width="0.12">0</text>
<text x="210.8" y="429" font-size="7" fill="#1a1a1a">10<tspan dy="-3" font-size="4.55">4</tspan></text>
<text x="123.5" y="442" font-size="8.6" text-anchor="start" fill="#1a1a1a" font-weight="normal" font-style="normal" textLength="82.7" lengthAdjust="spacingAndGlyphs" stroke="#1a1a1a" stroke-width="0.12">PE-TpoR staining for TpoR</text>
<line x1="273.3" y1="364.3" x2="283" y2="364.3" stroke="#ab0b31" stroke-width="1.1"/>
<text x="286.8" y="366.7" font-size="7.3" text-anchor="start" fill="#1a1a1a" font-weight="normal" font-style="normal" textLength="43.3" lengthAdjust="spacingAndGlyphs" stroke="#1a1a1a" stroke-width="0.12">empty control</text>
<line x1="273.3" y1="375" x2="283" y2="375" stroke="#6aaee0" stroke-width="1.1"/>
<text x="286.8" y="377.4" font-size="7.3" text-anchor="start" fill="#1a1a1a" font-weight="normal" font-style="normal" textLength="29.1" lengthAdjust="spacingAndGlyphs" stroke="#1a1a1a" stroke-width="0.12">TpoR WT</text>
<line x1="273.3" y1="385.8" x2="283" y2="385.8" stroke="#9d94d4" stroke-width="1.1"/>
<text x="286.8" y="388.2" font-size="7.3" text-anchor="start" fill="#1a1a1a" font-weight="normal" font-style="normal" textLength="39.5" lengthAdjust="spacingAndGlyphs" stroke="#1a1a1a" stroke-width="0.12">TpoR S505N</text>
<line x1="273.3" y1="396.6" x2="283" y2="396.6" stroke="#4d8a6a" stroke-width="1.1"/>
<text x="286.8" y="399" font-size="7.3" text-anchor="start" fill="#1a1a1a" font-weight="normal" font-style="normal" textLength="63.7" lengthAdjust="spacingAndGlyphs" stroke="#1a1a1a" stroke-width="0.12">TpoR L498W-S505N</text>
<line x1="273.3" y1="407.4" x2="283" y2="407.4" stroke="#f0c030" stroke-width="1.1"/>
<text x="286.8" y="409.8" font-size="7.3" text-anchor="start" fill="#1a1a1a" font-weight="normal" font-style="normal" textLength="63.7" lengthAdjust="spacingAndGlyphs" stroke="#1a1a1a" stroke-width="0.12">TpoR H499C-S505N</text>
<line x1="360.5" y1="364.3" x2="370" y2="364.3" stroke="#d6288c" stroke-width="1.1"/>
<text x="373.3" y="366.7" font-size="7.3" text-anchor="start" fill="#1a1a1a" font-weight="normal" font-style="normal" textLength="40.9" lengthAdjust="spacingAndGlyphs" stroke="#1a1a1a" stroke-width="0.12">TpoR W515K</text>
<line x1="360.5" y1="375" x2="370" y2="375" stroke="#e0902a" stroke-width="1.1"/>
<text x="373.3" y="377.4" font-size="7.3" text-anchor="start" fill="#1a1a1a" font-weight="normal" font-style="normal" textLength="63" lengthAdjust="spacingAndGlyphs" stroke="#1a1a1a" stroke-width="0.12">TpoR H499Y-W515K</text>
<line x1="360.5" y1="385.8" x2="370" y2="385.8" stroke="#6cb04a" stroke-width="1.1"/>
<text x="373.3" y="388.2" font-size="7.3" text-anchor="start" fill="#1a1a1a" font-weight="normal" font-style="normal" textLength="63" lengthAdjust="spacingAndGlyphs" stroke="#1a1a1a" stroke-width="0.12">TpoR H499C-W515K</text>
<line x1="360.5" y1="396.6" x2="370" y2="396.6" stroke="#6a3d8a" stroke-width="1.1"/>
<text x="373.3" y="399" font-size="7.3" text-anchor="start" fill="#1a1a1a" font-weight="normal" font-style="normal" textLength="63.4" lengthAdjust="spacingAndGlyphs" stroke="#1a1a1a" stroke-width="0.12">TpoR L498W-W515K</text>
<line x1="360.5" y1="407.4" x2="370" y2="407.4" stroke="#3d5fa0" stroke-width="1.1"/>
<text x="373.3" y="409.8" font-size="7.3" text-anchor="start" fill="#1a1a1a" font-weight="normal" font-style="normal" textLength="62.3" lengthAdjust="spacingAndGlyphs" stroke="#1a1a1a" stroke-width="0.12">TpoR H499L-W515K</text>
<text x="7.6" y="206.8" font-size="14.8" text-anchor="start" fill="#000" font-weight="bold" font-style="normal">D</text>
<line x1="44.5" y1="221.4" x2="44.5" y2="302" stroke="#231f20" stroke-width="1"/>
<line x1="44" y1="301.5" x2="172.1" y2="301.5" stroke="#231f20" stroke-width="1"/>
<line x1="41.9" y1="301.9" x2="44.5" y2="301.9" stroke="#231f20" stroke-width="0.9"/>
<text x="38.6" y="304.4" font-size="7.2" text-anchor="end" fill="#1a1a1a" font-weight="normal" font-style="normal" stroke="#1a1a1a" stroke-width="0.12">0</text>
<line x1="41.9" y1="286.3" x2="44.5" y2="286.3" stroke="#231f20" stroke-width="0.9"/>
<text x="38.6" y="288.8" font-size="7.2" text-anchor="end" fill="#1a1a1a" font-weight="normal" font-style="normal" stroke="#1a1a1a" stroke-width="0.12">1</text>
<line x1="41.9" y1="270.7" x2="44.5" y2="270.7" stroke="#231f20" stroke-width="0.9"/>
<text x="38.6" y="273.2" font-size="7.2" text-anchor="end" fill="#1a1a1a" font-weight="normal" font-style="normal" stroke="#1a1a1a" stroke-width="0.12">2</text>
<line x1="41.9" y1="255.1" x2="44.5" y2="255.1" stroke="#231f20" stroke-width="0.9"/>
<text x="38.6" y="257.6" font-size="7.2" text-anchor="end" fill="#1a1a1a" font-weight="normal" font-style="normal" stroke="#1a1a1a" stroke-width="0.12">3</text>
<line x1="41.9" y1="239.5" x2="44.5" y2="239.5" stroke="#231f20" stroke-width="0.9"/>
<text x="38.6" y="242" font-size="7.2" text-anchor="end" fill="#1a1a1a" font-weight="normal" font-style="normal" stroke="#1a1a1a" stroke-width="0.12">4</text>
<line x1="41.9" y1="223.9" x2="44.5" y2="223.9" stroke="#231f20" stroke-width="0.9"/>
<text x="38.6" y="226.4" font-size="7.2" text-anchor="end" fill="#1a1a1a" font-weight="normal" font-style="normal" stroke="#1a1a1a" stroke-width="0.12">5</text>
<text x="28.6" y="261.2" font-size="8.8" text-anchor="middle" fill="#1a1a1a" font-weight="normal" font-style="normal" transform="rotate(-90 28.6 261.2)" textLength="65" lengthAdjust="spacingAndGlyphs" stroke="#1a1a1a" stroke-width="0.12">Luciferase ratio (rlu)</text>
<line x1="44.6" y1="286.5" x2="172.1" y2="286.5" stroke="#1e1e1e" stroke-width="0.95" stroke-dasharray="3.6 2.4"/>
<rect x="50.2" y="298.78" width="4.1" height="3.12" fill="#ab0b31"/>
<line x1="52.5" y1="298" x2="52.5" y2="299.56" stroke="#000" stroke-width="0.9"/>
<line x1="51.5" y1="298" x2="53.5" y2="298" stroke="#000" stroke-width="0.9"/>
<rect x="56.6" y="299.09" width="4.1" height="2.81" fill="#264787"/>
<line x1="58.5" y1="298.47" x2="58.5" y2="299.72" stroke="#000" stroke-width="0.9"/>
<line x1="57.5" y1="298.47" x2="59.5" y2="298.47" stroke="#000" stroke-width="0.9"/>
<rect x="71.5" y="286.3" width="4.1" height="15.6" fill="#ab0b31"/>
<line x1="73.5" y1="284.74" x2="73.5" y2="287.86" stroke="#000" stroke-width="0.9"/>
<line x1="72.5" y1="284.74" x2="74.5" y2="284.74" stroke="#000" stroke-width="0.9"/>
<rect x="77.9" y="265.24" width="4.1" height="36.66" fill="#264787"/>
<line x1="79.5" y1="257.44" x2="79.5" y2="273.04" stroke="#000" stroke-width="0.9"/>
<line x1="78.5" y1="257.44" x2="80.5" y2="257.44" stroke="#000" stroke-width="0.9"/>
<rect x="92.7" y="290.2" width="4.1" height="11.7" fill="#ab0b31"/>
<line x1="94.5" y1="288.17" x2="94.5" y2="292.23" stroke="#000" stroke-width="0.9"/>
<line x1="93.5" y1="288.17" x2="95.5" y2="288.17" stroke="#000" stroke-width="0.9"/>
<rect x="99.1" y="256.66" width="4.1" height="45.24" fill="#264787"/>
<line x1="101.5" y1="248.86" x2="101.5" y2="264.46" stroke="#000" stroke-width="0.9"/>
<line x1="100.5" y1="248.86" x2="102.5" y2="248.86" stroke="#000" stroke-width="0.9"/>
<rect x="114.4" y="281" width="4.1" height="20.9" fill="#ab0b31"/>
<line x1="116.5" y1="275.85" x2="116.5" y2="286.14" stroke="#000" stroke-width="0.9"/>
<line x1="115.5" y1="275.85" x2="117.5" y2="275.85" stroke="#000" stroke-width="0.9"/>
<rect x="120.8" y="266.02" width="4.1" height="35.88" fill="#264787"/>
<line x1="122.5" y1="260.25" x2="122.5" y2="271.79" stroke="#000" stroke-width="0.9"/>
<line x1="121.5" y1="260.25" x2="123.5" y2="260.25" stroke="#000" stroke-width="0.9"/>
<rect x="135.2" y="262.74" width="4.1" height="39.16" fill="#ab0b31"/>
<line x1="137.5" y1="253.07" x2="137.5" y2="272.42" stroke="#000" stroke-width="0.9"/>
<line x1="136.5" y1="253.07" x2="138.5" y2="253.07" stroke="#000" stroke-width="0.9"/>
<rect x="141.6" y="260.25" width="4.1" height="41.65" fill="#264787"/>
<line x1="143.5" y1="249.95" x2="143.5" y2="270.54" stroke="#000" stroke-width="0.9"/>
<line x1="142.5" y1="249.95" x2="144.5" y2="249.95" stroke="#000" stroke-width="0.9"/>
<rect x="156.9" y="274.29" width="4.1" height="27.61" fill="#ab0b31"/>
<line x1="158.5" y1="267.58" x2="158.5" y2="281" stroke="#000" stroke-width="0.9"/>
<line x1="157.5" y1="267.58" x2="159.5" y2="267.58" stroke="#000" stroke-width="0.9"/>
<rect x="163.3" y="257.28" width="4.1" height="44.62" fill="#264787"/>
<line x1="165.5" y1="248.08" x2="165.5" y2="266.49" stroke="#000" stroke-width="0.9"/>
<line x1="164.5" y1="248.08" x2="166.5" y2="248.08" stroke="#000" stroke-width="0.9"/>
<line x1="66.5" y1="301.9" x2="66.5" y2="304.3" stroke="#1e1e1e" stroke-width="0.95"/>
<line x1="87.5" y1="301.9" x2="87.5" y2="304.3" stroke="#1e1e1e" stroke-width="0.95"/>
<line x1="108.5" y1="301.9" x2="108.5" y2="304.3" stroke="#1e1e1e" stroke-width="0.95"/>
<line x1="130.5" y1="301.9" x2="130.5" y2="304.3" stroke="#1e1e1e" stroke-width="0.95"/>
<line x1="151.5" y1="301.9" x2="151.5" y2="304.3" stroke="#1e1e1e" stroke-width="0.95"/>
<text x="54.45" y="312.5" font-size="7" text-anchor="end" fill="#1a1a1a" font-weight="normal" font-style="normal" transform="rotate(-45 54.45 312.5)" textLength="12.5" lengthAdjust="spacingAndGlyphs" stroke="#1a1a1a" stroke-width="0.12">PIG</text>
<text x="60.74" y="318.79" font-size="7" text-anchor="end" fill="#1a1a1a" font-weight="normal" font-style="normal" transform="rotate(-45 60.74 318.79)" textLength="8.5" lengthAdjust="spacingAndGlyphs" stroke="#1a1a1a" stroke-width="0.12">eV</text>
<text x="79.95" y="312.5" font-size="7" text-anchor="end" fill="#1a1a1a" font-weight="normal" font-style="normal" transform="rotate(-45 79.95 312.5)" textLength="11" lengthAdjust="spacingAndGlyphs" stroke="#1a1a1a" stroke-width="0.12">WT</text>
<text x="101.15" y="312.5" font-size="7" text-anchor="end" fill="#1a1a1a" font-weight="normal" font-style="normal" transform="rotate(-45 101.15 312.5)" textLength="21" lengthAdjust="spacingAndGlyphs" stroke="#1a1a1a" stroke-width="0.12">H499L</text>
<text x="122.85" y="312.5" font-size="7" text-anchor="end" fill="#1a1a1a" font-weight="normal" font-style="normal" transform="rotate(-45 122.85 312.5)" textLength="22" lengthAdjust="spacingAndGlyphs" stroke="#1a1a1a" stroke-width="0.12">L498W</text>
<text x="140.65" y="312.5" font-size="7" text-anchor="end" fill="#1a1a1a" font-weight="normal" font-style="normal" transform="rotate(-45 140.65 312.5)" textLength="24" lengthAdjust="spacingAndGlyphs" stroke="#1a1a1a" stroke-width="0.12">L498W-</text>
<text x="146.94" y="318.79" font-size="7" text-anchor="end" fill="#1a1a1a" font-weight="normal" font-style="normal" transform="rotate(-45 146.94 318.79)" textLength="21" lengthAdjust="spacingAndGlyphs" stroke="#1a1a1a" stroke-width="0.12">H499C</text>
<text x="162.35" y="312.5" font-size="7" text-anchor="end" fill="#1a1a1a" font-weight="normal" font-style="normal" transform="rotate(-45 162.35 312.5)" textLength="24" lengthAdjust="spacingAndGlyphs" stroke="#1a1a1a" stroke-width="0.12">L498W-</text>
<text x="168.64" y="318.79" font-size="7" text-anchor="end" fill="#1a1a1a" font-weight="normal" font-style="normal" transform="rotate(-45 168.64 318.79)" textLength="21" lengthAdjust="spacingAndGlyphs" stroke="#1a1a1a" stroke-width="0.12">H499Y</text>
<text x="21.8" y="314.6" font-size="7.2" text-anchor="start" fill="#1a1a1a" font-weight="normal" font-style="normal" textLength="16.3" lengthAdjust="spacingAndGlyphs" stroke="#1a1a1a" stroke-width="0.12">TpoR</text>
<polyline points="115.5,254.5 115.5,227.5 158.5,227.5 158.5,236.5" stroke="#1e1e1e" stroke-width="0.95" fill="none"/>
<polyline points="115.5,237.5 137.5,237.5 137.5,246.5" stroke="#1e1e1e" stroke-width="0.95" fill="none"/>
<text x="137.5" y="225.6" font-size="7" text-anchor="middle" fill="#1a1a1a" font-weight="normal" font-style="normal" textLength="7.2" lengthAdjust="spacingAndGlyphs" stroke="#1a1a1a" stroke-width="0.12">ns</text>
<text x="127" y="237.9" font-size="8" text-anchor="middle" fill="#1a1a1a" font-weight="normal" font-style="normal" textLength="7.5" lengthAdjust="spacingAndGlyphs" stroke="#1a1a1a" stroke-width="0.12">***</text>
<line x1="201.5" y1="221.4" x2="201.5" y2="302" stroke="#231f20" stroke-width="1"/>
<line x1="201" y1="301.5" x2="307.9" y2="301.5" stroke="#231f20" stroke-width="1"/>
<line x1="198.9" y1="301.9" x2="201.5" y2="301.9" stroke="#231f20" stroke-width="0.9"/>
<text x="195.8" y="304.4" font-size="7.2" text-anchor="end" fill="#1a1a1a" font-weight="normal" font-style="normal" stroke="#1a1a1a" stroke-width="0.12">0</text>
<line x1="198.9" y1="286.3" x2="201.5" y2="286.3" stroke="#231f20" stroke-width="0.9"/>
<text x="195.8" y="288.8" font-size="7.2" text-anchor="end" fill="#1a1a1a" font-weight="normal" font-style="normal" stroke="#1a1a1a" stroke-width="0.12">1</text>
<line x1="198.9" y1="270.7" x2="201.5" y2="270.7" stroke="#231f20" stroke-width="0.9"/>
<text x="195.8" y="273.2" font-size="7.2" text-anchor="end" fill="#1a1a1a" font-weight="normal" font-style="normal" stroke="#1a1a1a" stroke-width="0.12">2</text>
<line x1="198.9" y1="255.1" x2="201.5" y2="255.1" stroke="#231f20" stroke-width="0.9"/>
<text x="195.8" y="257.6" font-size="7.2" text-anchor="end" fill="#1a1a1a" font-weight="normal" font-style="normal" stroke="#1a1a1a" stroke-width="0.12">3</text>
<line x1="198.9" y1="239.5" x2="201.5" y2="239.5" stroke="#231f20" stroke-width="0.9"/>
<text x="195.8" y="242" font-size="7.2" text-anchor="end" fill="#1a1a1a" font-weight="normal" font-style="normal" stroke="#1a1a1a" stroke-width="0.12">4</text>
<line x1="198.9" y1="223.9" x2="201.5" y2="223.9" stroke="#231f20" stroke-width="0.9"/>
<text x="195.8" y="226.4" font-size="7.2" text-anchor="end" fill="#1a1a1a" font-weight="normal" font-style="normal" stroke="#1a1a1a" stroke-width="0.12">5</text>
<line x1="201.8" y1="286.5" x2="307.9" y2="286.5" stroke="#1e1e1e" stroke-width="0.95" stroke-dasharray="3.6 2.4"/>
<rect x="205.5" y="271.48" width="4.2" height="30.42" fill="#ab0b31"/>
<line x1="207.5" y1="267.58" x2="207.5" y2="275.38" stroke="#000" stroke-width="0.9"/>
<line x1="206.5" y1="267.58" x2="208.5" y2="267.58" stroke="#000" stroke-width="0.9"/>
<rect x="211.7" y="263.37" width="4.2" height="38.53" fill="#264787"/>
<line x1="213.5" y1="255.88" x2="213.5" y2="270.86" stroke="#000" stroke-width="0.9"/>
<line x1="212.5" y1="255.88" x2="214.5" y2="255.88" stroke="#000" stroke-width="0.9"/>
<rect x="228.4" y="255.88" width="4.2" height="46.02" fill="#ab0b31"/>
<line x1="230.5" y1="248.08" x2="230.5" y2="263.68" stroke="#000" stroke-width="0.9"/>
<line x1="229.5" y1="248.08" x2="231.5" y2="248.08" stroke="#000" stroke-width="0.9"/>
<rect x="234.6" y="248.86" width="4.2" height="53.04" fill="#264787"/>
<line x1="236.5" y1="236.38" x2="236.5" y2="261.34" stroke="#000" stroke-width="0.9"/>
<line x1="235.5" y1="236.38" x2="237.5" y2="236.38" stroke="#000" stroke-width="0.9"/>
<rect x="249.4" y="290.67" width="4.2" height="11.23" fill="#ab0b31"/>
<line x1="251.5" y1="287.86" x2="251.5" y2="293.48" stroke="#000" stroke-width="0.9"/>
<line x1="250.5" y1="287.86" x2="252.5" y2="287.86" stroke="#000" stroke-width="0.9"/>
<rect x="255.6" y="275.07" width="4.2" height="26.83" fill="#264787"/>
<line x1="257.5" y1="269.92" x2="257.5" y2="280.22" stroke="#000" stroke-width="0.9"/>
<line x1="256.5" y1="269.92" x2="258.5" y2="269.92" stroke="#000" stroke-width="0.9"/>
<rect x="271" y="261.65" width="4.2" height="40.25" fill="#ab0b31"/>
<line x1="273.5" y1="253.54" x2="273.5" y2="269.76" stroke="#000" stroke-width="0.9"/>
<line x1="272.5" y1="253.54" x2="274.5" y2="253.54" stroke="#000" stroke-width="0.9"/>
<rect x="277.2" y="253.54" width="4.2" height="48.36" fill="#264787"/>
<line x1="279.5" y1="239.5" x2="279.5" y2="267.58" stroke="#000" stroke-width="0.9"/>
<line x1="278.5" y1="239.5" x2="280.5" y2="239.5" stroke="#000" stroke-width="0.9"/>
<rect x="292" y="277.41" width="4.2" height="24.49" fill="#ab0b31"/>
<line x1="294.5" y1="273.04" x2="294.5" y2="281.78" stroke="#000" stroke-width="0.9"/>
<line x1="293.5" y1="273.04" x2="295.5" y2="273.04" stroke="#000" stroke-width="0.9"/>
<rect x="298.2" y="264.46" width="4.2" height="37.44" fill="#264787"/>
<line x1="300.5" y1="248.86" x2="300.5" y2="280.06" stroke="#000" stroke-width="0.9"/>
<line x1="299.5" y1="248.86" x2="301.5" y2="248.86" stroke="#000" stroke-width="0.9"/>
<line x1="222.5" y1="301.9" x2="222.5" y2="304.3" stroke="#1e1e1e" stroke-width="0.95"/>
<line x1="244.5" y1="301.9" x2="244.5" y2="304.3" stroke="#1e1e1e" stroke-width="0.95"/>
<line x1="265.5" y1="301.9" x2="265.5" y2="304.3" stroke="#1e1e1e" stroke-width="0.95"/>
<line x1="286.5" y1="301.9" x2="286.5" y2="304.3" stroke="#1e1e1e" stroke-width="0.95"/>
<text x="213.9" y="312.5" font-size="7" text-anchor="end" fill="#1a1a1a" font-weight="normal" font-style="normal" transform="rotate(-45 213.9 312.5)" textLength="21" lengthAdjust="spacingAndGlyphs" stroke="#1a1a1a" stroke-width="0.12">S505N</text>
<text x="233.8" y="312.5" font-size="7" text-anchor="end" fill="#1a1a1a" font-weight="normal" font-style="normal" transform="rotate(-45 233.8 312.5)" textLength="24" lengthAdjust="spacingAndGlyphs" stroke="#1a1a1a" stroke-width="0.12">H499Y-</text>
<text x="240.09" y="318.79" font-size="7" text-anchor="end" fill="#1a1a1a" font-weight="normal" font-style="normal" transform="rotate(-45 240.09 318.79)" textLength="21" lengthAdjust="spacingAndGlyphs" stroke="#1a1a1a" stroke-width="0.12">S505N</text>
<text x="254.8" y="312.5" font-size="7" text-anchor="end" fill="#1a1a1a" font-weight="normal" font-style="normal" transform="rotate(-45 254.8 312.5)" textLength="24" lengthAdjust="spacingAndGlyphs" stroke="#1a1a1a" stroke-width="0.12">L498W-</text>
<text x="261.09" y="318.79" font-size="7" text-anchor="end" fill="#1a1a1a" font-weight="normal" font-style="normal" transform="rotate(-45 261.09 318.79)" textLength="21" lengthAdjust="spacingAndGlyphs" stroke="#1a1a1a" stroke-width="0.12">S505N</text>
<text x="276.4" y="312.5" font-size="7" text-anchor="end" fill="#1a1a1a" font-weight="normal" font-style="normal" transform="rotate(-45 276.4 312.5)" textLength="24" lengthAdjust="spacingAndGlyphs" stroke="#1a1a1a" stroke-width="0.12">H499C-</text>
<text x="282.69" y="318.79" font-size="7" text-anchor="end" fill="#1a1a1a" font-weight="normal" font-style="normal" transform="rotate(-45 282.69 318.79)" textLength="21" lengthAdjust="spacingAndGlyphs" stroke="#1a1a1a" stroke-width="0.12">S505N</text>
<text x="297.4" y="312.5" font-size="7" text-anchor="end" fill="#1a1a1a" font-weight="normal" font-style="normal" transform="rotate(-45 297.4 312.5)" textLength="23" lengthAdjust="spacingAndGlyphs" stroke="#1a1a1a" stroke-width="0.12">H499L-</text>
<text x="303.69" y="318.79" font-size="7" text-anchor="end" fill="#1a1a1a" font-weight="normal" font-style="normal" transform="rotate(-45 303.69 318.79)" textLength="21" lengthAdjust="spacingAndGlyphs" stroke="#1a1a1a" stroke-width="0.12">S505N</text>
<line x1="207.5" y1="217.9" x2="207.5" y2="247.5" stroke="#1e1e1e" stroke-width="0.95"/>
<polyline points="207.5,217.5 294.5,217.5 294.5,226.5" stroke="#1e1e1e" stroke-width="0.95" fill="none"/>
<text x="250.8" y="216" font-size="7" text-anchor="middle" fill="#1a1a1a" font-weight="normal" font-style="normal" textLength="7.2" lengthAdjust="spacingAndGlyphs" stroke="#1a1a1a" stroke-width="0.12">ns</text>
<polyline points="207.5,225.5 273.5,225.5 273.5,234.5" stroke="#1e1e1e" stroke-width="0.95" fill="none"/>
<text x="240.5" y="225.7" font-size="8" text-anchor="middle" fill="#1a1a1a" font-weight="normal" font-style="normal" textLength="5" lengthAdjust="spacingAndGlyphs" stroke="#1a1a1a" stroke-width="0.12">**</text>
<polyline points="207.5,232.5 251.5,232.5 251.5,241.5" stroke="#1e1e1e" stroke-width="0.95" fill="none"/>
<text x="229.8" y="233.2" font-size="8" text-anchor="middle" fill="#1a1a1a" font-weight="normal" font-style="normal" textLength="7.5" lengthAdjust="spacingAndGlyphs" stroke="#1a1a1a" stroke-width="0.12">***</text>
<line x1="336.5" y1="221.4" x2="336.5" y2="302" stroke="#231f20" stroke-width="1"/>
<line x1="336" y1="301.5" x2="442" y2="301.5" stroke="#231f20" stroke-width="1"/>
<line x1="333.9" y1="301.9" x2="336.5" y2="301.9" stroke="#231f20" stroke-width="0.9"/>
<text x="330.9" y="304.4" font-size="7.2" text-anchor="end" fill="#1a1a1a" font-weight="normal" font-style="normal" stroke="#1a1a1a" stroke-width="0.12">0</text>
<line x1="333.9" y1="286.3" x2="336.5" y2="286.3" stroke="#231f20" stroke-width="0.9"/>
<text x="330.9" y="288.8" font-size="7.2" text-anchor="end" fill="#1a1a1a" font-weight="normal" font-style="normal" stroke="#1a1a1a" stroke-width="0.12">1</text>
<line x1="333.9" y1="270.7" x2="336.5" y2="270.7" stroke="#231f20" stroke-width="0.9"/>
<text x="330.9" y="273.2" font-size="7.2" text-anchor="end" fill="#1a1a1a" font-weight="normal" font-style="normal" stroke="#1a1a1a" stroke-width="0.12">2</text>
<line x1="333.9" y1="255.1" x2="336.5" y2="255.1" stroke="#231f20" stroke-width="0.9"/>
<text x="330.9" y="257.6" font-size="7.2" text-anchor="end" fill="#1a1a1a" font-weight="normal" font-style="normal" stroke="#1a1a1a" stroke-width="0.12">3</text>
<line x1="333.9" y1="239.5" x2="336.5" y2="239.5" stroke="#231f20" stroke-width="0.9"/>
<text x="330.9" y="242" font-size="7.2" text-anchor="end" fill="#1a1a1a" font-weight="normal" font-style="normal" stroke="#1a1a1a" stroke-width="0.12">4</text>
<line x1="333.9" y1="223.9" x2="336.5" y2="223.9" stroke="#231f20" stroke-width="0.9"/>
<text x="330.9" y="226.4" font-size="7.2" text-anchor="end" fill="#1a1a1a" font-weight="normal" font-style="normal" stroke="#1a1a1a" stroke-width="0.12">5</text>
<line x1="336.9" y1="286.5" x2="442" y2="286.5" stroke="#1e1e1e" stroke-width="0.95" stroke-dasharray="3.6 2.4"/>
<rect x="341.5" y="262.9" width="4.3" height="39" fill="#ab0b31"/>
<line x1="343.5" y1="255.88" x2="343.5" y2="269.92" stroke="#000" stroke-width="0.9"/>
<line x1="342.5" y1="255.88" x2="344.5" y2="255.88" stroke="#000" stroke-width="0.9"/>
<rect x="347.7" y="255.88" width="4.3" height="46.02" fill="#264787"/>
<line x1="349.5" y1="247.3" x2="349.5" y2="264.46" stroke="#000" stroke-width="0.9"/>
<line x1="348.5" y1="247.3" x2="350.5" y2="247.3" stroke="#000" stroke-width="0.9"/>
<rect x="362.8" y="270.7" width="4.3" height="31.2" fill="#ab0b31"/>
<line x1="364.5" y1="259.78" x2="364.5" y2="281.62" stroke="#000" stroke-width="0.9"/>
<line x1="363.5" y1="259.78" x2="365.5" y2="259.78" stroke="#000" stroke-width="0.9"/>
<rect x="369" y="253.54" width="4.3" height="48.36" fill="#264787"/>
<line x1="371.5" y1="237.94" x2="371.5" y2="269.14" stroke="#000" stroke-width="0.9"/>
<line x1="370.5" y1="237.94" x2="372.5" y2="237.94" stroke="#000" stroke-width="0.9"/>
<rect x="384" y="258.53" width="4.3" height="43.37" fill="#ab0b31"/>
<line x1="386.5" y1="247.3" x2="386.5" y2="269.76" stroke="#000" stroke-width="0.9"/>
<line x1="385.5" y1="247.3" x2="387.5" y2="247.3" stroke="#000" stroke-width="0.9"/>
<rect x="390.2" y="248.86" width="4.3" height="53.04" fill="#264787"/>
<line x1="392.5" y1="227.8" x2="392.5" y2="269.92" stroke="#000" stroke-width="0.9"/>
<line x1="391.5" y1="227.8" x2="393.5" y2="227.8" stroke="#000" stroke-width="0.9"/>
<rect x="405.6" y="262.9" width="4.3" height="39" fill="#ab0b31"/>
<line x1="407.5" y1="255.1" x2="407.5" y2="270.7" stroke="#000" stroke-width="0.9"/>
<line x1="406.5" y1="255.1" x2="408.5" y2="255.1" stroke="#000" stroke-width="0.9"/>
<rect x="411.8" y="248.86" width="4.3" height="53.04" fill="#264787"/>
<line x1="413.5" y1="237.94" x2="413.5" y2="259.78" stroke="#000" stroke-width="0.9"/>
<line x1="412.5" y1="237.94" x2="414.5" y2="237.94" stroke="#000" stroke-width="0.9"/>
<rect x="426.3" y="259.78" width="4.3" height="42.12" fill="#ab0b31"/>
<line x1="428.5" y1="244.96" x2="428.5" y2="274.6" stroke="#000" stroke-width="0.9"/>
<line x1="427.5" y1="244.96" x2="429.5" y2="244.96" stroke="#000" stroke-width="0.9"/>
<rect x="432.5" y="244.96" width="4.3" height="56.94" fill="#264787"/>
<line x1="434.5" y1="231.7" x2="434.5" y2="258.22" stroke="#000" stroke-width="0.9"/>
<line x1="433.5" y1="231.7" x2="435.5" y2="231.7" stroke="#000" stroke-width="0.9"/>
<line x1="357.5" y1="301.9" x2="357.5" y2="304.3" stroke="#1e1e1e" stroke-width="0.95"/>
<line x1="378.5" y1="301.9" x2="378.5" y2="304.3" stroke="#1e1e1e" stroke-width="0.95"/>
<line x1="400.5" y1="301.9" x2="400.5" y2="304.3" stroke="#1e1e1e" stroke-width="0.95"/>
<line x1="421.5" y1="301.9" x2="421.5" y2="304.3" stroke="#1e1e1e" stroke-width="0.95"/>
<text x="349.95" y="312.5" font-size="7" text-anchor="end" fill="#1a1a1a" font-weight="normal" font-style="normal" transform="rotate(-45 349.95 312.5)" textLength="22" lengthAdjust="spacingAndGlyphs" stroke="#1a1a1a" stroke-width="0.12">W515K</text>
<text x="368.25" y="312.5" font-size="7" text-anchor="end" fill="#1a1a1a" font-weight="normal" font-style="normal" transform="rotate(-45 368.25 312.5)" textLength="24" lengthAdjust="spacingAndGlyphs" stroke="#1a1a1a" stroke-width="0.12">L498W-</text>
<text x="374.54" y="318.79" font-size="7" text-anchor="end" fill="#1a1a1a" font-weight="normal" font-style="normal" transform="rotate(-45 374.54 318.79)" textLength="22" lengthAdjust="spacingAndGlyphs" stroke="#1a1a1a" stroke-width="0.12">W515K</text>
<text x="389.45" y="312.5" font-size="7" text-anchor="end" fill="#1a1a1a" font-weight="normal" font-style="normal" transform="rotate(-45 389.45 312.5)" textLength="24" lengthAdjust="spacingAndGlyphs" stroke="#1a1a1a" stroke-width="0.12">H499Y-</text>
<text x="395.74" y="318.79" font-size="7" text-anchor="end" fill="#1a1a1a" font-weight="normal" font-style="normal" transform="rotate(-45 395.74 318.79)" textLength="22" lengthAdjust="spacingAndGlyphs" stroke="#1a1a1a" stroke-width="0.12">W515K</text>
<text x="411.05" y="312.5" font-size="7" text-anchor="end" fill="#1a1a1a" font-weight="normal" font-style="normal" transform="rotate(-45 411.05 312.5)" textLength="24" lengthAdjust="spacingAndGlyphs" stroke="#1a1a1a" stroke-width="0.12">H499C-</text>
<text x="417.34" y="318.79" font-size="7" text-anchor="end" fill="#1a1a1a" font-weight="normal" font-style="normal" transform="rotate(-45 417.34 318.79)" textLength="22" lengthAdjust="spacingAndGlyphs" stroke="#1a1a1a" stroke-width="0.12">W515K</text>
<text x="431.75" y="312.5" font-size="7" text-anchor="end" fill="#1a1a1a" font-weight="normal" font-style="normal" transform="rotate(-45 431.75 312.5)" textLength="23" lengthAdjust="spacingAndGlyphs" stroke="#1a1a1a" stroke-width="0.12">H499L-</text>
<text x="438.04" y="318.79" font-size="7" text-anchor="end" fill="#1a1a1a" font-weight="normal" font-style="normal" transform="rotate(-45 438.04 318.79)" textLength="22" lengthAdjust="spacingAndGlyphs" stroke="#1a1a1a" stroke-width="0.12">W515K</text>
<line x1="343.5" y1="217.9" x2="343.5" y2="247.5" stroke="#1e1e1e" stroke-width="0.95"/>
<polyline points="343.5,217.5 406.5,217.5 406.5,234.5" stroke="#1e1e1e" stroke-width="0.95" fill="none"/>
<text x="374.6" y="216" font-size="7" text-anchor="middle" fill="#1a1a1a" font-weight="normal" font-style="normal" textLength="7.2" lengthAdjust="spacingAndGlyphs" stroke="#1a1a1a" stroke-width="0.12">ns</text>
<polyline points="343.5,225.5 386.5,225.5 386.5,242.5" stroke="#1e1e1e" stroke-width="0.95" fill="none"/>
<text x="365.2" y="223.4" font-size="7" text-anchor="middle" fill="#1a1a1a" font-weight="normal" font-style="normal" textLength="7.2" lengthAdjust="spacingAndGlyphs" stroke="#1a1a1a" stroke-width="0.12">ns</text>
<rect x="449.8" y="207.3" width="8.7" height="5.4" fill="#ab0b31"/>
<text x="461.9" y="212.3" font-size="7.1" text-anchor="start" fill="#1a1a1a" font-weight="normal" font-style="normal" textLength="37.6" lengthAdjust="spacingAndGlyphs" stroke="#1a1a1a" stroke-width="0.12">No cytokine</text>
<rect x="449.8" y="218.5" width="8.7" height="5.3" fill="#264787"/>
<text x="461.9" y="223.4" font-size="7.1" text-anchor="start" fill="#1a1a1a" font-weight="normal" font-style="normal" textLength="48.4" lengthAdjust="spacingAndGlyphs" stroke="#1a1a1a" stroke-width="0.12">Tpo (10 ng/mL)</text>
<text x="7.2" y="462.8" font-size="14.8" text-anchor="start" fill="#000" font-weight="bold" font-style="normal">E</text>
<line x1="18.2" y1="521.4" x2="42.5" y2="521.4" stroke="#b9b9b9" stroke-width="0.8"/>
<line x1="18.2" y1="595.4" x2="42.5" y2="595.4" stroke="#b9b9b9" stroke-width="0.8"/>
<line x1="89.5" y1="521.4" x2="113.8" y2="521.4" stroke="#b9b9b9" stroke-width="0.8"/>
<line x1="89.5" y1="595.4" x2="113.8" y2="595.4" stroke="#b9b9b9" stroke-width="0.8"/>
<line x1="163.5" y1="521.4" x2="186.5" y2="521.4" stroke="#b9b9b9" stroke-width="0.8"/>
<line x1="163.5" y1="595.4" x2="186.5" y2="595.4" stroke="#b9b9b9" stroke-width="0.8"/>
<defs><linearGradient id="hxF" x1="0" y1="0" x2="1" y2="0"><stop offset="0" stop-color="#2a4a9c"/><stop offset="0.18" stop-color="#3a63bf"/><stop offset="0.5" stop-color="#4673cd"/><stop offset="0.62" stop-color="#5d8fdc"/><stop offset="0.72" stop-color="#4572cc"/><stop offset="0.9" stop-color="#3560b8"/><stop offset="1" stop-color="#284696"/></linearGradient><linearGradient id="hxB" x1="0" y1="0" x2="1" y2="0"><stop offset="0" stop-color="#a9a9db"/><stop offset="0.45" stop-color="#d9d9f2"/><stop offset="0.6" stop-color="#e3e3f6"/><stop offset="1" stop-color="#a0a0d4"/></linearGradient></defs>
<defs><linearGradient id="resY" x1="0" y1="0" x2="1" y2="0"><stop offset="0" stop-color="#e0bb74"/><stop offset="0.5" stop-color="#f5dca6"/><stop offset="1" stop-color="#dfb871"/></linearGradient><linearGradient id="resP" x1="0" y1="0" x2="1" y2="0"><stop offset="0" stop-color="#cf8a88"/><stop offset="0.5" stop-color="#eab3b0"/><stop offset="1" stop-color="#cc8482"/></linearGradient></defs>
<path d="M43.44,501.1 L43.52,501.43 L43.73,501.76 L44.07,502.09 L44.53,502.42 L45.11,502.75 L45.8,503.07 L46.59,503.4 L47.46,503.73 L48.39,504.06 L49.38,504.39 L50.4,504.72 L51.44,505.05 L52.48,505.38 L53.5,505.71 L54.49,506.04 L55.42,506.37 L56.29,506.7 L57.07,507.02 L57.76,507.35 L58.35,507.68 L58.81,508.01 L59.15,508.34 L59.36,508.67 L59.44,509 L59.44,517 L59.36,516.67 L59.15,516.34 L58.81,516.01 L58.35,515.68 L57.76,515.35 L57.07,515.02 L56.29,514.7 L55.42,514.37 L54.49,514.04 L53.5,513.71 L52.48,513.38 L51.44,513.05 L50.4,512.72 L49.38,512.39 L48.39,512.06 L47.46,511.73 L46.59,511.4 L45.8,511.07 L45.11,510.75 L44.53,510.42 L44.07,510.09 L43.73,509.76 L43.52,509.43 L43.44,509.1 Z" fill="url(#hxB)" stroke="#b9b9e2" stroke-width="0.3"/>
<path d="M43.84,516.9 L43.91,517.23 L44.12,517.56 L44.46,517.89 L44.93,518.22 L45.51,518.55 L46.2,518.88 L46.98,519.2 L47.85,519.53 L48.79,519.86 L49.77,520.19 L50.79,520.52 L51.83,520.85 L52.87,521.18 L53.89,521.51 L54.88,521.84 L55.82,522.17 L56.68,522.5 L57.47,522.83 L58.16,523.15 L58.74,523.48 L59.21,523.81 L59.55,524.14 L59.76,524.47 L59.83,524.8 L59.83,532.8 L59.76,532.47 L59.55,532.14 L59.21,531.81 L58.74,531.48 L58.16,531.15 L57.47,530.83 L56.68,530.5 L55.82,530.17 L54.88,529.84 L53.89,529.51 L52.87,529.18 L51.83,528.85 L50.79,528.52 L49.77,528.19 L48.79,527.86 L47.85,527.53 L46.98,527.2 L46.2,526.88 L45.51,526.55 L44.93,526.22 L44.46,525.89 L44.12,525.56 L43.91,525.23 L43.84,524.9 Z" fill="url(#hxB)" stroke="#b9b9e2" stroke-width="0.3"/>
<path d="M44.23,532.7 L44.31,533.03 L44.52,533.36 L44.86,533.69 L45.32,534.02 L45.9,534.35 L46.59,534.67 L47.38,535 L48.25,535.33 L49.18,535.66 L50.17,535.99 L51.19,536.32 L52.23,536.65 L53.27,536.98 L54.29,537.31 L55.28,537.64 L56.21,537.97 L57.08,538.3 L57.86,538.62 L58.55,538.95 L59.14,539.28 L59.6,539.61 L59.94,539.94 L60.15,540.27 L60.23,540.6 L60.23,548.6 L60.15,548.27 L59.94,547.94 L59.6,547.61 L59.14,547.28 L58.55,546.95 L57.86,546.62 L57.08,546.3 L56.21,545.97 L55.28,545.64 L54.29,545.31 L53.27,544.98 L52.23,544.65 L51.19,544.32 L50.17,543.99 L49.18,543.66 L48.25,543.33 L47.38,543 L46.59,542.67 L45.9,542.35 L45.32,542.02 L44.86,541.69 L44.52,541.36 L44.31,541.03 L44.23,540.7 Z" fill="url(#hxB)" stroke="#b9b9e2" stroke-width="0.3"/>
<path d="M44.63,548.5 L44.7,548.83 L44.91,549.16 L45.25,549.49 L45.72,549.82 L46.3,550.15 L46.99,550.48 L47.77,550.8 L48.64,551.13 L49.58,551.46 L50.56,551.79 L51.58,552.12 L52.62,552.45 L53.66,552.78 L54.68,553.11 L55.67,553.44 L56.61,553.77 L57.47,554.1 L58.26,554.42 L58.95,554.75 L59.53,555.08 L60,555.41 L60.34,555.74 L60.55,556.07 L60.62,556.4 L60.62,564.4 L60.55,564.07 L60.34,563.74 L60,563.41 L59.53,563.08 L58.95,562.75 L58.26,562.42 L57.47,562.1 L56.61,561.77 L55.67,561.44 L54.68,561.11 L53.66,560.78 L52.62,560.45 L51.58,560.12 L50.56,559.79 L49.58,559.46 L48.64,559.13 L47.77,558.8 L46.99,558.48 L46.3,558.15 L45.72,557.82 L45.25,557.49 L44.91,557.16 L44.7,556.83 L44.63,556.5 Z" fill="url(#hxB)" stroke="#b9b9e2" stroke-width="0.3"/>
<path d="M45.02,564.3 L45.1,564.63 L45.31,564.96 L45.65,565.29 L46.11,565.62 L46.69,565.95 L47.38,566.27 L48.17,566.6 L49.04,566.93 L49.97,567.26 L50.96,567.59 L51.98,567.92 L53.02,568.25 L54.06,568.58 L55.08,568.91 L56.07,569.24 L57,569.57 L57.87,569.9 L58.65,570.23 L59.34,570.55 L59.93,570.88 L60.39,571.21 L60.73,571.54 L60.94,571.87 L61.02,572.2 L61.02,580.2 L60.94,579.87 L60.73,579.54 L60.39,579.21 L59.93,578.88 L59.34,578.55 L58.65,578.23 L57.87,577.9 L57,577.57 L56.07,577.24 L55.08,576.91 L54.06,576.58 L53.02,576.25 L51.98,575.92 L50.96,575.59 L49.97,575.26 L49.04,574.93 L48.17,574.6 L47.38,574.27 L46.69,573.95 L46.11,573.62 L45.65,573.29 L45.31,572.96 L45.1,572.63 L45.02,572.3 Z" fill="url(#hxB)" stroke="#b9b9e2" stroke-width="0.3"/>
<path d="M45.42,580.1 L45.49,580.43 L45.7,580.76 L46.04,581.09 L46.51,581.42 L47.09,581.75 L47.78,582.08 L48.56,582.4 L49.43,582.73 L50.37,583.06 L51.35,583.39 L52.37,583.72 L53.41,584.05 L54.45,584.38 L55.47,584.71 L56.46,585.04 L57.4,585.37 L58.26,585.7 L59.05,586.02 L59.74,586.35 L60.32,586.68 L60.79,587.01 L61.13,587.34 L61.34,587.67 L61.41,588 L61.41,596 L61.34,595.67 L61.13,595.34 L60.79,595.01 L60.32,594.68 L59.74,594.35 L59.05,594.02 L58.26,593.7 L57.4,593.37 L56.46,593.04 L55.47,592.71 L54.45,592.38 L53.41,592.05 L52.37,591.72 L51.35,591.39 L50.37,591.06 L49.43,590.73 L48.56,590.4 L47.78,590.08 L47.09,589.75 L46.51,589.42 L46.04,589.09 L45.7,588.76 L45.49,588.43 L45.42,588.1 Z" fill="url(#hxB)" stroke="#b9b9e2" stroke-width="0.3"/>
<path d="M45.81,595.9 L45.88,596.22 L46.08,596.53 L46.39,596.85 L46.82,597.17 L47.36,597.48 L48.01,597.8 L48.74,598.12 L49.55,598.43 L50.43,598.75 L51.37,599.07 L52.34,599.38 L53.33,599.7 L54.34,600.02 L55.33,600.33 L56.3,600.65 L57.23,600.97 L58.11,601.28 L58.92,601.6 L59.65,601.92 L60.28,602.23 L60.82,602.55 L61.25,602.87 L61.56,603.18 L61.74,603.5 L61.74,611.5 L61.56,611.18 L61.25,610.87 L60.82,610.55 L60.28,610.23 L59.65,609.92 L58.92,609.6 L58.11,609.28 L57.23,608.97 L56.3,608.65 L55.33,608.33 L54.34,608.02 L53.33,607.7 L52.34,607.38 L51.37,607.07 L50.43,606.75 L49.55,606.43 L48.74,606.12 L48.01,605.8 L47.36,605.48 L46.82,605.17 L46.39,604.85 L46.08,604.53 L45.88,604.22 L45.81,603.9 Z" fill="url(#hxB)" stroke="#b9b9e2" stroke-width="0.3"/>
<path d="M70.58,496.5 L70.92,496.79 L71.35,497.08 L71.86,497.38 L72.46,497.67 L73.12,497.96 L73.84,498.25 L74.61,498.54 L75.41,498.83 L76.25,499.12 L77.11,499.42 L77.97,499.71 L78.82,500 L79.65,500.29 L80.46,500.58 L81.23,500.88 L81.94,501.17 L82.6,501.46 L83.18,501.75 L83.69,502.04 L84.11,502.33 L84.45,502.62 L84.69,502.92 L84.83,503.21 L84.87,503.5 L84.87,511.5 L84.83,511.21 L84.69,510.92 L84.45,510.62 L84.11,510.33 L83.69,510.04 L83.18,509.75 L82.6,509.46 L81.94,509.17 L81.23,508.88 L80.46,508.58 L79.65,508.29 L78.82,508 L77.97,507.71 L77.11,507.42 L76.25,507.12 L75.41,506.83 L74.61,506.54 L73.84,506.25 L73.12,505.96 L72.46,505.67 L71.86,505.38 L71.35,505.08 L70.92,504.79 L70.58,504.5 Z" fill="url(#hxB)" stroke="#b9b9e2" stroke-width="0.3"/>
<path d="M69.61,511.4 L69.66,511.73 L69.84,512.06 L70.15,512.39 L70.57,512.72 L71.1,513.05 L71.74,513.38 L72.47,513.7 L73.27,514.03 L74.14,514.36 L75.06,514.69 L76.01,515.02 L76.98,515.35 L77.95,515.68 L78.9,516.01 L79.82,516.34 L80.68,516.67 L81.49,517 L82.22,517.33 L82.85,517.65 L83.39,517.98 L83.81,518.31 L84.11,518.64 L84.29,518.97 L84.35,519.3 L84.35,527.3 L84.29,526.97 L84.11,526.64 L83.81,526.31 L83.39,525.98 L82.85,525.65 L82.22,525.33 L81.49,525 L80.68,524.67 L79.82,524.34 L78.9,524.01 L77.95,523.68 L76.98,523.35 L76.01,523.02 L75.06,522.69 L74.14,522.36 L73.27,522.03 L72.47,521.7 L71.74,521.38 L71.1,521.05 L70.57,520.72 L70.15,520.39 L69.84,520.06 L69.66,519.73 L69.61,519.4 Z" fill="url(#hxB)" stroke="#b9b9e2" stroke-width="0.3"/>
<path d="M69.09,527.2 L69.14,527.53 L69.32,527.86 L69.63,528.19 L70.05,528.52 L70.58,528.85 L71.22,529.17 L71.95,529.5 L72.75,529.83 L73.62,530.16 L74.54,530.49 L75.49,530.82 L76.46,531.15 L77.42,531.48 L78.38,531.81 L79.29,532.14 L80.16,532.47 L80.97,532.8 L81.69,533.12 L82.33,533.45 L82.86,533.78 L83.29,534.11 L83.59,534.44 L83.77,534.77 L83.83,535.1 L83.83,543.1 L83.77,542.77 L83.59,542.44 L83.29,542.11 L82.86,541.78 L82.33,541.45 L81.69,541.12 L80.97,540.8 L80.16,540.47 L79.29,540.14 L78.38,539.81 L77.42,539.48 L76.46,539.15 L75.49,538.82 L74.54,538.49 L73.62,538.16 L72.75,537.83 L71.95,537.5 L71.22,537.17 L70.58,536.85 L70.05,536.52 L69.63,536.19 L69.32,535.86 L69.14,535.53 L69.09,535.2 Z" fill="url(#hxB)" stroke="#b9b9e2" stroke-width="0.3"/>
<path d="M68.57,543 L68.62,543.33 L68.8,543.66 L69.1,543.99 L69.53,544.32 L70.06,544.65 L70.7,544.98 L71.42,545.3 L72.23,545.63 L73.1,545.96 L74.02,546.29 L74.97,546.62 L75.94,546.95 L76.9,547.28 L77.85,547.61 L78.77,547.94 L79.64,548.27 L80.45,548.6 L81.17,548.92 L81.81,549.25 L82.34,549.58 L82.77,549.91 L83.07,550.24 L83.25,550.57 L83.3,550.9 L83.3,558.9 L83.25,558.57 L83.07,558.24 L82.77,557.91 L82.34,557.58 L81.81,557.25 L81.17,556.92 L80.45,556.6 L79.64,556.27 L78.77,555.94 L77.85,555.61 L76.9,555.28 L75.94,554.95 L74.97,554.62 L74.02,554.29 L73.1,553.96 L72.23,553.63 L71.42,553.3 L70.7,552.98 L70.06,552.65 L69.53,552.32 L69.1,551.99 L68.8,551.66 L68.62,551.33 L68.57,551 Z" fill="url(#hxB)" stroke="#b9b9e2" stroke-width="0.3"/>
<path d="M68.04,558.8 L68.1,559.13 L68.28,559.46 L68.58,559.79 L69.01,560.12 L69.54,560.45 L70.18,560.77 L70.9,561.1 L71.71,561.43 L72.58,561.76 L73.49,562.09 L74.45,562.42 L75.41,562.75 L76.38,563.08 L77.33,563.41 L78.25,563.74 L79.12,564.07 L79.93,564.4 L80.65,564.73 L81.29,565.05 L81.82,565.38 L82.25,565.71 L82.55,566.04 L82.73,566.37 L82.78,566.7 L82.78,574.7 L82.73,574.37 L82.55,574.04 L82.25,573.71 L81.82,573.38 L81.29,573.05 L80.65,572.73 L79.93,572.4 L79.12,572.07 L78.25,571.74 L77.33,571.41 L76.38,571.08 L75.41,570.75 L74.45,570.42 L73.49,570.09 L72.58,569.76 L71.71,569.43 L70.9,569.1 L70.18,568.77 L69.54,568.45 L69.01,568.12 L68.58,567.79 L68.28,567.46 L68.1,567.13 L68.04,566.8 Z" fill="url(#hxB)" stroke="#b9b9e2" stroke-width="0.3"/>
<path d="M67.52,574.6 L67.58,574.93 L67.76,575.26 L68.06,575.59 L68.48,575.92 L69.02,576.25 L69.65,576.58 L70.38,576.9 L71.19,577.23 L72.05,577.56 L72.97,577.89 L73.92,578.22 L74.89,578.55 L75.86,578.88 L76.81,579.21 L77.73,579.54 L78.6,579.87 L79.4,580.2 L80.13,580.52 L80.77,580.85 L81.3,581.18 L81.72,581.51 L82.03,581.84 L82.21,582.17 L82.26,582.5 L82.26,590.5 L82.21,590.17 L82.03,589.84 L81.72,589.51 L81.3,589.18 L80.77,588.85 L80.13,588.52 L79.4,588.2 L78.6,587.87 L77.73,587.54 L76.81,587.21 L75.86,586.88 L74.89,586.55 L73.92,586.22 L72.97,585.89 L72.05,585.56 L71.19,585.23 L70.38,584.9 L69.65,584.58 L69.02,584.25 L68.48,583.92 L68.06,583.59 L67.76,583.26 L67.58,582.93 L67.52,582.6 Z" fill="url(#hxB)" stroke="#b9b9e2" stroke-width="0.3"/>
<path d="M67,590.4 L67.05,590.73 L67.24,591.06 L67.54,591.39 L67.96,591.72 L68.5,592.05 L69.13,592.38 L69.86,592.7 L70.66,593.03 L71.53,593.36 L72.45,593.69 L73.4,594.02 L74.37,594.35 L75.34,594.68 L76.29,595.01 L77.21,595.34 L78.08,595.67 L78.88,596 L79.61,596.33 L80.25,596.65 L80.78,596.98 L81.2,597.31 L81.51,597.64 L81.69,597.97 L81.74,598.3 L81.74,606.3 L81.69,605.97 L81.51,605.64 L81.2,605.31 L80.78,604.98 L80.25,604.65 L79.61,604.33 L78.88,604 L78.08,603.67 L77.21,603.34 L76.29,603.01 L75.34,602.68 L74.37,602.35 L73.4,602.02 L72.45,601.69 L71.53,601.36 L70.66,601.03 L69.86,600.7 L69.13,600.38 L68.5,600.05 L67.96,599.72 L67.54,599.39 L67.24,599.06 L67.05,598.73 L67,598.4 Z" fill="url(#hxB)" stroke="#b9b9e2" stroke-width="0.3"/>
<path d="M122.6,494 L123.13,494.23 L123.7,494.47 L124.28,494.7 L124.89,494.93 L125.5,495.17 L126.13,495.4 L126.76,495.63 L127.39,495.87 L128.01,496.1 L128.62,496.33 L129.21,496.57 L129.78,496.8 L130.32,497.03 L130.83,497.27 L131.31,497.5 L131.75,497.73 L132.15,497.97 L132.5,498.2 L132.8,498.43 L133.06,498.67 L133.26,498.9 L133.4,499.13 L133.49,499.37 L133.52,499.6 L133.52,507.6 L133.49,507.37 L133.4,507.13 L133.26,506.9 L133.06,506.67 L132.8,506.43 L132.5,506.2 L132.15,505.97 L131.75,505.73 L131.31,505.5 L130.83,505.27 L130.32,505.03 L129.78,504.8 L129.21,504.57 L128.62,504.33 L128.01,504.1 L127.39,503.87 L126.76,503.63 L126.13,503.4 L125.5,503.17 L124.89,502.93 L124.28,502.7 L123.7,502.47 L123.13,502.23 L122.6,502 Z" fill="url(#hxB)" stroke="#b9b9e2" stroke-width="0.3"/>
<path d="M119.9,507.7 L119.97,508.04 L120.15,508.38 L120.45,508.71 L120.86,509.05 L121.36,509.39 L121.97,509.73 L122.65,510.06 L123.41,510.4 L124.23,510.74 L125.09,511.08 L125.98,511.41 L126.89,511.75 L127.8,512.09 L128.69,512.43 L129.55,512.76 L130.37,513.1 L131.13,513.44 L131.81,513.77 L132.42,514.11 L132.93,514.45 L133.33,514.79 L133.63,515.12 L133.81,515.46 L133.88,515.8 L133.88,523.8 L133.81,523.46 L133.63,523.12 L133.33,522.79 L132.93,522.45 L132.42,522.11 L131.81,521.77 L131.13,521.44 L130.37,521.1 L129.55,520.76 L128.69,520.43 L127.8,520.09 L126.89,519.75 L125.98,519.41 L125.09,519.08 L124.23,518.74 L123.41,518.4 L122.65,518.06 L121.97,517.73 L121.36,517.39 L120.86,517.05 L120.45,516.71 L120.15,516.38 L119.97,516.04 L119.9,515.7 Z" fill="url(#hxB)" stroke="#b9b9e2" stroke-width="0.3"/>
<path d="M120.26,523.9 L120.32,524.24 L120.51,524.58 L120.81,524.91 L121.21,525.25 L121.72,525.59 L122.32,525.93 L123.01,526.26 L123.77,526.6 L124.58,526.94 L125.45,527.27 L126.34,527.61 L127.25,527.95 L128.15,528.29 L129.05,528.62 L129.91,528.96 L130.73,529.3 L131.48,529.64 L132.17,529.98 L132.77,530.31 L133.28,530.65 L133.69,530.99 L133.99,531.33 L134.17,531.66 L134.24,532 L134.24,540 L134.17,539.66 L133.99,539.33 L133.69,538.99 L133.28,538.65 L132.77,538.31 L132.17,537.98 L131.48,537.64 L130.73,537.3 L129.91,536.96 L129.05,536.62 L128.15,536.29 L127.25,535.95 L126.34,535.61 L125.45,535.27 L124.58,534.94 L123.77,534.6 L123.01,534.26 L122.32,533.93 L121.72,533.59 L121.21,533.25 L120.81,532.91 L120.51,532.58 L120.32,532.24 L120.26,531.9 Z" fill="url(#hxB)" stroke="#b9b9e2" stroke-width="0.3"/>
<path d="M120.61,540.1 L120.68,540.44 L120.86,540.77 L121.16,541.11 L121.57,541.45 L122.08,541.79 L122.68,542.12 L123.37,542.46 L124.12,542.8 L124.94,543.14 L125.8,543.48 L126.7,543.81 L127.6,544.15 L128.51,544.49 L129.4,544.83 L130.27,545.16 L131.08,545.5 L131.84,545.84 L132.53,546.17 L133.13,546.51 L133.64,546.85 L134.04,547.19 L134.34,547.52 L134.53,547.86 L134.59,548.2 L134.59,556.2 L134.53,555.86 L134.34,555.52 L134.04,555.19 L133.64,554.85 L133.13,554.51 L132.53,554.17 L131.84,553.84 L131.08,553.5 L130.27,553.16 L129.4,552.83 L128.51,552.49 L127.6,552.15 L126.7,551.81 L125.8,551.48 L124.94,551.14 L124.12,550.8 L123.37,550.46 L122.68,550.12 L122.08,549.79 L121.57,549.45 L121.16,549.11 L120.86,548.77 L120.68,548.44 L120.61,548.1 Z" fill="url(#hxB)" stroke="#b9b9e2" stroke-width="0.3"/>
<path d="M120.97,556.3 L121.04,556.64 L121.22,556.98 L121.52,557.31 L121.92,557.65 L122.43,557.99 L123.04,558.33 L123.72,558.66 L124.48,559 L125.3,559.34 L126.16,559.68 L127.05,560.01 L127.96,560.35 L128.87,560.69 L129.76,561.02 L130.62,561.36 L131.44,561.7 L132.2,562.04 L132.88,562.38 L133.49,562.71 L133.99,563.05 L134.4,563.39 L134.7,563.73 L134.88,564.06 L134.95,564.4 L134.95,572.4 L134.88,572.06 L134.7,571.73 L134.4,571.39 L133.99,571.05 L133.49,570.71 L132.88,570.38 L132.2,570.04 L131.44,569.7 L130.62,569.36 L129.76,569.02 L128.87,568.69 L127.96,568.35 L127.05,568.01 L126.16,567.68 L125.3,567.34 L124.48,567 L123.72,566.66 L123.04,566.33 L122.43,565.99 L121.92,565.65 L121.52,565.31 L121.22,564.98 L121.04,564.64 L120.97,564.3 Z" fill="url(#hxB)" stroke="#b9b9e2" stroke-width="0.3"/>
<path d="M121.33,572.5 L121.39,572.84 L121.58,573.18 L121.87,573.51 L122.28,573.85 L122.79,574.19 L123.39,574.52 L124.08,574.86 L124.84,575.2 L125.65,575.54 L126.52,575.88 L127.41,576.21 L128.32,576.55 L129.22,576.89 L130.12,577.23 L130.98,577.56 L131.8,577.9 L132.55,578.24 L133.24,578.58 L133.84,578.91 L134.35,579.25 L134.76,579.59 L135.06,579.93 L135.24,580.26 L135.31,580.6 L135.31,588.6 L135.24,588.26 L135.06,587.93 L134.76,587.59 L134.35,587.25 L133.84,586.91 L133.24,586.58 L132.55,586.24 L131.8,585.9 L130.98,585.56 L130.12,585.23 L129.22,584.89 L128.32,584.55 L127.41,584.21 L126.52,583.88 L125.65,583.54 L124.84,583.2 L124.08,582.86 L123.39,582.52 L122.79,582.19 L122.28,581.85 L121.87,581.51 L121.58,581.18 L121.39,580.84 L121.33,580.5 Z" fill="url(#hxB)" stroke="#b9b9e2" stroke-width="0.3"/>
<path d="M121.68,588.7 L121.75,589.04 L121.93,589.38 L122.23,589.71 L122.64,590.05 L123.15,590.39 L123.75,590.73 L124.43,591.06 L125.19,591.4 L126.01,591.74 L126.87,592.08 L127.76,592.41 L128.67,592.75 L129.58,593.09 L130.47,593.42 L131.34,593.76 L132.15,594.1 L132.91,594.44 L133.6,594.77 L134.2,595.11 L134.71,595.45 L135.11,595.79 L135.41,596.12 L135.6,596.46 L135.66,596.8 L135.66,604.8 L135.6,604.46 L135.41,604.12 L135.11,603.79 L134.71,603.45 L134.2,603.11 L133.6,602.77 L132.91,602.44 L132.15,602.1 L131.34,601.76 L130.47,601.42 L129.58,601.09 L128.67,600.75 L127.76,600.41 L126.87,600.08 L126.01,599.74 L125.19,599.4 L124.43,599.06 L123.75,598.73 L123.15,598.39 L122.64,598.05 L122.23,597.71 L121.93,597.38 L121.75,597.04 L121.68,596.7 Z" fill="url(#hxB)" stroke="#b9b9e2" stroke-width="0.3"/>
<path d="M149.87,498 L149.91,498.33 L150.08,498.67 L150.35,499 L150.74,499.33 L151.23,499.67 L151.81,500 L152.48,500.33 L153.22,500.67 L154.01,501 L154.85,501.33 L155.73,501.67 L156.62,502 L157.5,502.33 L158.38,502.67 L159.22,503 L160.01,503.33 L160.75,503.67 L161.42,504 L162,504.33 L162.49,504.67 L162.88,505 L163.15,505.33 L163.32,505.67 L163.36,506 L163.36,514 L163.32,513.67 L163.15,513.33 L162.88,513 L162.49,512.67 L162,512.33 L161.42,512 L160.75,511.67 L160.01,511.33 L159.22,511 L158.38,510.67 L157.5,510.33 L156.62,510 L155.73,509.67 L154.85,509.33 L154.01,509 L153.22,508.67 L152.48,508.33 L151.81,508 L151.23,507.67 L150.74,507.33 L150.35,507 L150.08,506.67 L149.91,506.33 L149.87,506 Z" fill="url(#hxB)" stroke="#b9b9e2" stroke-width="0.3"/>
<path d="M149.26,514 L149.31,514.33 L149.47,514.67 L149.75,515 L150.13,515.33 L150.62,515.67 L151.2,516 L151.87,516.33 L152.61,516.67 L153.4,517 L154.25,517.33 L155.12,517.67 L156.01,518 L156.89,518.33 L157.77,518.67 L158.61,519 L159.41,519.33 L160.14,519.67 L160.81,520 L161.39,520.33 L161.88,520.67 L162.27,521 L162.55,521.33 L162.71,521.67 L162.76,522 L162.76,530 L162.71,529.67 L162.55,529.33 L162.27,529 L161.88,528.67 L161.39,528.33 L160.81,528 L160.14,527.67 L159.41,527.33 L158.61,527 L157.77,526.67 L156.89,526.33 L156.01,526 L155.12,525.67 L154.25,525.33 L153.4,525 L152.61,524.67 L151.87,524.33 L151.2,524 L150.62,523.67 L150.13,523.33 L149.75,523 L149.47,522.67 L149.31,522.33 L149.26,522 Z" fill="url(#hxB)" stroke="#b9b9e2" stroke-width="0.3"/>
<path d="M148.65,530 L148.7,530.33 L148.86,530.67 L149.14,531 L149.52,531.33 L150.01,531.67 L150.6,532 L151.26,532.33 L152,532.67 L152.8,533 L153.64,533.33 L154.51,533.67 L155.4,534 L156.29,534.33 L157.16,534.67 L158,535 L158.8,535.33 L159.54,535.67 L160.2,536 L160.78,536.33 L161.27,536.67 L161.66,537 L161.94,537.33 L162.1,537.67 L162.15,538 L162.15,546 L162.1,545.67 L161.94,545.33 L161.66,545 L161.27,544.67 L160.78,544.33 L160.2,544 L159.54,543.67 L158.8,543.33 L158,543 L157.16,542.67 L156.29,542.33 L155.4,542 L154.51,541.67 L153.64,541.33 L152.8,541 L152,540.67 L151.26,540.33 L150.6,540 L150.01,539.67 L149.52,539.33 L149.14,539 L148.86,538.67 L148.7,538.33 L148.65,538 Z" fill="url(#hxB)" stroke="#b9b9e2" stroke-width="0.3"/>
<path d="M148.04,546 L148.09,546.33 L148.25,546.67 L148.53,547 L148.92,547.33 L149.41,547.67 L149.99,548 L150.65,548.33 L151.39,548.67 L152.19,549 L153.03,549.33 L153.9,549.67 L154.79,550 L155.68,550.33 L156.55,550.67 L157.39,551 L158.19,551.33 L158.93,551.67 L159.59,552 L160.18,552.33 L160.67,552.67 L161.05,553 L161.33,553.33 L161.49,553.67 L161.54,554 L161.54,562 L161.49,561.67 L161.33,561.33 L161.05,561 L160.67,560.67 L160.18,560.33 L159.59,560 L158.93,559.67 L158.19,559.33 L157.39,559 L156.55,558.67 L155.68,558.33 L154.79,558 L153.9,557.67 L153.03,557.33 L152.19,557 L151.39,556.67 L150.65,556.33 L149.99,556 L149.41,555.67 L148.92,555.33 L148.53,555 L148.25,554.67 L148.09,554.33 L148.04,554 Z" fill="url(#hxB)" stroke="#b9b9e2" stroke-width="0.3"/>
<path d="M147.44,562 L147.48,562.33 L147.64,562.67 L147.92,563 L148.31,563.33 L148.8,563.67 L149.38,564 L150.05,564.33 L150.78,564.67 L151.58,565 L152.42,565.33 L153.3,565.67 L154.18,566 L155.07,566.33 L155.94,566.67 L156.79,567 L157.58,567.33 L158.32,567.67 L158.99,568 L159.57,568.33 L160.06,568.67 L160.44,569 L160.72,569.33 L160.88,569.67 L160.93,570 L160.93,578 L160.88,577.67 L160.72,577.33 L160.44,577 L160.06,576.67 L159.57,576.33 L158.99,576 L158.32,575.67 L157.58,575.33 L156.79,575 L155.94,574.67 L155.07,574.33 L154.18,574 L153.3,573.67 L152.42,573.33 L151.58,573 L150.78,572.67 L150.05,572.33 L149.38,572 L148.8,571.67 L148.31,571.33 L147.92,571 L147.64,570.67 L147.48,570.33 L147.44,570 Z" fill="url(#hxB)" stroke="#b9b9e2" stroke-width="0.3"/>
<path d="M146.83,578 L146.87,578.33 L147.04,578.67 L147.31,579 L147.7,579.33 L148.19,579.67 L148.77,580 L149.44,580.33 L150.18,580.67 L150.97,581 L151.81,581.33 L152.69,581.67 L153.58,582 L154.46,582.33 L155.34,582.67 L156.18,583 L156.97,583.33 L157.71,583.67 L158.38,584 L158.96,584.33 L159.45,584.67 L159.84,585 L160.11,585.33 L160.28,585.67 L160.32,586 L160.32,594 L160.28,593.67 L160.11,593.33 L159.84,593 L159.45,592.67 L158.96,592.33 L158.38,592 L157.71,591.67 L156.97,591.33 L156.18,591 L155.34,590.67 L154.46,590.33 L153.58,590 L152.69,589.67 L151.81,589.33 L150.97,589 L150.18,588.67 L149.44,588.33 L148.77,588 L148.19,587.67 L147.7,587.33 L147.31,587 L147.04,586.67 L146.87,586.33 L146.83,586 Z" fill="url(#hxB)" stroke="#b9b9e2" stroke-width="0.3"/>
<path d="M146.22,594 L146.27,594.33 L146.43,594.67 L146.71,595 L147.09,595.33 L147.58,595.67 L148.16,596 L148.83,596.33 L149.57,596.67 L150.36,597 L151.21,597.33 L152.08,597.67 L152.97,598 L153.85,598.33 L154.73,598.67 L155.57,599 L156.37,599.33 L157.1,599.67 L157.77,600 L158.35,600.33 L158.84,600.67 L159.23,601 L159.51,601.33 L159.67,601.67 L159.72,602 L159.72,610 L159.67,609.67 L159.51,609.33 L159.23,609 L158.84,608.67 L158.35,608.33 L157.77,608 L157.1,607.67 L156.37,607.33 L155.57,607 L154.73,606.67 L153.85,606.33 L152.97,606 L152.08,605.67 L151.21,605.33 L150.36,605 L149.57,604.67 L148.83,604.33 L148.16,604 L147.58,603.67 L147.09,603.33 L146.71,603 L146.43,602.67 L146.27,602.33 L146.22,602 Z" fill="url(#hxB)" stroke="#b9b9e2" stroke-width="0.3"/>
<path d="M56.02,494.8 L55.42,495.03 L54.79,495.27 L54.13,495.5 L53.44,495.73 L52.74,495.97 L52.02,496.2 L51.29,496.43 L50.57,496.67 L49.85,496.9 L49.14,497.13 L48.45,497.37 L47.78,497.6 L47.15,497.83 L46.55,498.07 L45.99,498.3 L45.47,498.53 L45.01,498.77 L44.6,499 L44.25,499.23 L43.95,499.47 L43.73,499.7 L43.56,499.93 L43.47,500.17 L43.44,500.4 L43.44,509.8 L43.47,509.57 L43.56,509.33 L43.73,509.1 L43.95,508.87 L44.25,508.63 L44.6,508.4 L45.01,508.17 L45.47,507.93 L45.99,507.7 L46.55,507.47 L47.15,507.23 L47.78,507 L48.45,506.77 L49.14,506.53 L49.85,506.3 L50.57,506.07 L51.29,505.83 L52.02,505.6 L52.74,505.37 L53.44,505.13 L54.13,504.9 L54.79,504.67 L55.42,504.43 L56.02,504.2 Z" fill="url(#hxF)" stroke="#2d4f9f" stroke-width="0.3"/>
<path d="M59.44,508.3 L59.38,508.63 L59.18,508.96 L58.86,509.29 L58.41,509.62 L57.85,509.95 L57.17,510.28 L56.4,510.6 L55.55,510.93 L54.63,511.26 L53.66,511.59 L52.66,511.92 L51.64,512.25 L50.61,512.58 L49.61,512.91 L48.64,513.24 L47.72,513.57 L46.87,513.9 L46.1,514.22 L45.43,514.55 L44.86,514.88 L44.41,515.21 L44.09,515.54 L43.89,515.87 L43.84,516.2 L43.84,525.6 L43.89,525.27 L44.09,524.94 L44.41,524.61 L44.86,524.28 L45.43,523.95 L46.1,523.62 L46.87,523.3 L47.72,522.97 L48.64,522.64 L49.61,522.31 L50.61,521.98 L51.64,521.65 L52.66,521.32 L53.66,520.99 L54.63,520.66 L55.55,520.33 L56.4,520 L57.17,519.68 L57.85,519.35 L58.41,519.02 L58.86,518.69 L59.18,518.36 L59.38,518.03 L59.44,517.7 Z" fill="url(#hxF)" stroke="#2d4f9f" stroke-width="0.3"/>
<path d="M59.83,524.1 L59.77,524.43 L59.58,524.76 L59.26,525.09 L58.81,525.42 L58.24,525.75 L57.57,526.07 L56.8,526.4 L55.95,526.73 L55.03,527.06 L54.06,527.39 L53.05,527.72 L52.03,528.05 L51.01,528.38 L50,528.71 L49.03,529.04 L48.11,529.37 L47.26,529.7 L46.49,530.02 L45.82,530.35 L45.26,530.68 L44.81,531.01 L44.48,531.34 L44.29,531.67 L44.23,532 L44.23,541.4 L44.29,541.07 L44.48,540.74 L44.81,540.41 L45.26,540.08 L45.82,539.75 L46.49,539.43 L47.26,539.1 L48.11,538.77 L49.03,538.44 L50,538.11 L51.01,537.78 L52.03,537.45 L53.05,537.12 L54.06,536.79 L55.03,536.46 L55.95,536.13 L56.8,535.8 L57.57,535.48 L58.24,535.15 L58.81,534.82 L59.26,534.49 L59.58,534.16 L59.77,533.83 L59.83,533.5 Z" fill="url(#hxF)" stroke="#2d4f9f" stroke-width="0.3"/>
<path d="M60.23,539.9 L60.17,540.23 L59.97,540.56 L59.65,540.89 L59.2,541.22 L58.64,541.55 L57.96,541.88 L57.19,542.2 L56.34,542.53 L55.42,542.86 L54.45,543.19 L53.45,543.52 L52.43,543.85 L51.4,544.18 L50.4,544.51 L49.43,544.84 L48.51,545.17 L47.66,545.5 L46.89,545.82 L46.22,546.15 L45.65,546.48 L45.2,546.81 L44.88,547.14 L44.68,547.47 L44.63,547.8 L44.63,557.2 L44.68,556.87 L44.88,556.54 L45.2,556.21 L45.65,555.88 L46.22,555.55 L46.89,555.23 L47.66,554.9 L48.51,554.57 L49.43,554.24 L50.4,553.91 L51.4,553.58 L52.43,553.25 L53.45,552.92 L54.45,552.59 L55.42,552.26 L56.34,551.93 L57.19,551.6 L57.96,551.28 L58.64,550.95 L59.2,550.62 L59.65,550.29 L59.97,549.96 L60.17,549.63 L60.23,549.3 Z" fill="url(#hxF)" stroke="#2d4f9f" stroke-width="0.3"/>
<path d="M60.62,555.7 L60.56,556.03 L60.37,556.36 L60.05,556.69 L59.6,557.02 L59.03,557.35 L58.36,557.67 L57.59,558 L56.74,558.33 L55.82,558.66 L54.85,558.99 L53.84,559.32 L52.82,559.65 L51.8,559.98 L50.79,560.31 L49.82,560.64 L48.9,560.97 L48.05,561.3 L47.28,561.62 L46.61,561.95 L46.05,562.28 L45.6,562.61 L45.27,562.94 L45.08,563.27 L45.02,563.6 L45.02,573 L45.08,572.67 L45.27,572.34 L45.6,572.01 L46.05,571.68 L46.61,571.35 L47.28,571.03 L48.05,570.7 L48.9,570.37 L49.82,570.04 L50.79,569.71 L51.8,569.38 L52.82,569.05 L53.84,568.72 L54.85,568.39 L55.82,568.06 L56.74,567.73 L57.59,567.4 L58.36,567.08 L59.03,566.75 L59.6,566.42 L60.05,566.09 L60.37,565.76 L60.56,565.43 L60.62,565.1 Z" fill="url(#hxF)" stroke="#2d4f9f" stroke-width="0.3"/>
<path d="M61.02,571.5 L60.96,571.83 L60.76,572.16 L60.44,572.49 L59.99,572.82 L59.43,573.15 L58.75,573.47 L57.98,573.8 L57.13,574.13 L56.21,574.46 L55.24,574.79 L54.24,575.12 L53.22,575.45 L52.19,575.78 L51.19,576.11 L50.22,576.44 L49.3,576.77 L48.45,577.1 L47.68,577.42 L47.01,577.75 L46.44,578.08 L45.99,578.41 L45.67,578.74 L45.47,579.07 L45.42,579.4 L45.42,588.8 L45.47,588.47 L45.67,588.14 L45.99,587.81 L46.44,587.48 L47.01,587.15 L47.68,586.83 L48.45,586.5 L49.3,586.17 L50.22,585.84 L51.19,585.51 L52.19,585.18 L53.22,584.85 L54.24,584.52 L55.24,584.19 L56.21,583.86 L57.13,583.53 L57.98,583.2 L58.75,582.88 L59.43,582.55 L59.99,582.22 L60.44,581.89 L60.76,581.56 L60.96,581.23 L61.02,580.9 Z" fill="url(#hxF)" stroke="#2d4f9f" stroke-width="0.3"/>
<path d="M61.41,587.3 L61.35,587.63 L61.16,587.96 L60.84,588.29 L60.39,588.62 L59.82,588.95 L59.15,589.27 L58.38,589.6 L57.53,589.93 L56.61,590.26 L55.64,590.59 L54.63,590.92 L53.61,591.25 L52.59,591.58 L51.58,591.91 L50.61,592.24 L49.69,592.57 L48.84,592.9 L48.07,593.23 L47.4,593.55 L46.84,593.88 L46.39,594.21 L46.06,594.54 L45.87,594.87 L45.81,595.2 L45.81,604.6 L45.87,604.27 L46.06,603.94 L46.39,603.61 L46.84,603.28 L47.4,602.95 L48.07,602.63 L48.84,602.3 L49.69,601.97 L50.61,601.64 L51.58,601.31 L52.59,600.98 L53.61,600.65 L54.63,600.32 L55.64,599.99 L56.61,599.66 L57.53,599.33 L58.38,599 L59.15,598.68 L59.82,598.35 L60.39,598.02 L60.84,597.69 L61.16,597.36 L61.35,597.03 L61.41,596.7 Z" fill="url(#hxF)" stroke="#2d4f9f" stroke-width="0.3"/>
<path d="M84.87,502.8 L84.79,503.13 L84.59,503.46 L84.27,503.79 L83.82,504.12 L83.26,504.45 L82.61,504.78 L81.86,505.1 L81.03,505.43 L80.14,505.76 L79.2,506.09 L78.23,506.42 L77.24,506.75 L76.25,507.08 L75.28,507.41 L74.34,507.74 L73.45,508.07 L72.62,508.4 L71.87,508.72 L71.21,509.05 L70.66,509.38 L70.21,509.71 L69.89,510.04 L69.68,510.37 L69.61,510.7 L69.61,520.1 L69.68,519.77 L69.89,519.44 L70.21,519.11 L70.66,518.78 L71.21,518.45 L71.87,518.12 L72.62,517.8 L73.45,517.47 L74.34,517.14 L75.28,516.81 L76.25,516.48 L77.24,516.15 L78.23,515.82 L79.2,515.49 L80.14,515.16 L81.03,514.83 L81.86,514.5 L82.61,514.18 L83.26,513.85 L83.82,513.52 L84.27,513.19 L84.59,512.86 L84.79,512.53 L84.87,512.2 Z" fill="url(#hxF)" stroke="#2d4f9f" stroke-width="0.3"/>
<path d="M84.35,518.6 L84.27,518.93 L84.07,519.26 L83.74,519.59 L83.3,519.92 L82.74,520.25 L82.09,520.57 L81.34,520.9 L80.51,521.23 L79.62,521.56 L78.68,521.89 L77.71,522.22 L76.72,522.55 L75.73,522.88 L74.75,523.21 L73.81,523.54 L72.92,523.87 L72.1,524.2 L71.35,524.52 L70.69,524.85 L70.14,525.18 L69.69,525.51 L69.36,525.84 L69.16,526.17 L69.09,526.5 L69.09,535.9 L69.16,535.57 L69.36,535.24 L69.69,534.91 L70.14,534.58 L70.69,534.25 L71.35,533.93 L72.1,533.6 L72.92,533.27 L73.81,532.94 L74.75,532.61 L75.73,532.28 L76.72,531.95 L77.71,531.62 L78.68,531.29 L79.62,530.96 L80.51,530.63 L81.34,530.3 L82.09,529.98 L82.74,529.65 L83.3,529.32 L83.74,528.99 L84.07,528.66 L84.27,528.33 L84.35,528 Z" fill="url(#hxF)" stroke="#2d4f9f" stroke-width="0.3"/>
<path d="M83.83,534.4 L83.75,534.73 L83.55,535.06 L83.22,535.39 L82.78,535.72 L82.22,536.05 L81.56,536.38 L80.82,536.7 L79.99,537.03 L79.1,537.36 L78.16,537.69 L77.19,538.02 L76.2,538.35 L75.21,538.68 L74.23,539.01 L73.29,539.34 L72.4,539.67 L71.58,540 L70.83,540.32 L70.17,540.65 L69.61,540.98 L69.17,541.31 L68.84,541.64 L68.64,541.97 L68.57,542.3 L68.57,551.7 L68.64,551.37 L68.84,551.04 L69.17,550.71 L69.61,550.38 L70.17,550.05 L70.83,549.73 L71.58,549.4 L72.4,549.07 L73.29,548.74 L74.23,548.41 L75.21,548.08 L76.2,547.75 L77.19,547.42 L78.16,547.09 L79.1,546.76 L79.99,546.43 L80.82,546.1 L81.56,545.78 L82.22,545.45 L82.78,545.12 L83.22,544.79 L83.55,544.46 L83.75,544.13 L83.83,543.8 Z" fill="url(#hxF)" stroke="#2d4f9f" stroke-width="0.3"/>
<path d="M83.3,550.2 L83.23,550.53 L83.03,550.86 L82.7,551.19 L82.26,551.52 L81.7,551.85 L81.04,552.17 L80.29,552.5 L79.47,552.83 L78.58,553.16 L77.64,553.49 L76.66,553.82 L75.67,554.15 L74.68,554.48 L73.71,554.81 L72.77,555.14 L71.88,555.47 L71.05,555.8 L70.31,556.12 L69.65,556.45 L69.09,556.78 L68.65,557.11 L68.32,557.44 L68.12,557.77 L68.04,558.1 L68.04,567.5 L68.12,567.17 L68.32,566.84 L68.65,566.51 L69.09,566.18 L69.65,565.85 L70.31,565.53 L71.05,565.2 L71.88,564.87 L72.77,564.54 L73.71,564.21 L74.68,563.88 L75.67,563.55 L76.66,563.22 L77.64,562.89 L78.58,562.56 L79.47,562.23 L80.29,561.9 L81.04,561.58 L81.7,561.25 L82.26,560.92 L82.7,560.59 L83.03,560.26 L83.23,559.93 L83.3,559.6 Z" fill="url(#hxF)" stroke="#2d4f9f" stroke-width="0.3"/>
<path d="M82.78,566 L82.71,566.33 L82.51,566.66 L82.18,566.99 L81.74,567.32 L81.18,567.65 L80.52,567.97 L79.77,568.3 L78.95,568.63 L78.06,568.96 L77.12,569.29 L76.14,569.62 L75.15,569.95 L74.16,570.28 L73.19,570.61 L72.25,570.94 L71.36,571.27 L70.53,571.6 L69.78,571.92 L69.13,572.25 L68.57,572.58 L68.13,572.91 L67.8,573.24 L67.6,573.57 L67.52,573.9 L67.52,583.3 L67.6,582.97 L67.8,582.64 L68.13,582.31 L68.57,581.98 L69.13,581.65 L69.78,581.33 L70.53,581 L71.36,580.67 L72.25,580.34 L73.19,580.01 L74.16,579.68 L75.15,579.35 L76.14,579.02 L77.12,578.69 L78.06,578.36 L78.95,578.03 L79.77,577.7 L80.52,577.38 L81.18,577.05 L81.74,576.72 L82.18,576.39 L82.51,576.06 L82.71,575.73 L82.78,575.4 Z" fill="url(#hxF)" stroke="#2d4f9f" stroke-width="0.3"/>
<path d="M82.26,581.8 L82.19,582.13 L81.98,582.46 L81.66,582.79 L81.21,583.12 L80.66,583.45 L80,583.77 L79.25,584.1 L78.43,584.43 L77.53,584.76 L76.59,585.09 L75.62,585.42 L74.63,585.75 L73.64,586.08 L72.67,586.41 L71.73,586.74 L70.84,587.07 L70.01,587.4 L69.26,587.73 L68.61,588.05 L68.05,588.38 L67.6,588.71 L67.28,589.04 L67.08,589.37 L67,589.7 L67,599.1 L67.08,598.77 L67.28,598.44 L67.6,598.11 L68.05,597.78 L68.61,597.45 L69.26,597.13 L70.01,596.8 L70.84,596.47 L71.73,596.14 L72.67,595.81 L73.64,595.48 L74.63,595.15 L75.62,594.82 L76.59,594.49 L77.53,594.16 L78.43,593.83 L79.25,593.5 L80,593.18 L80.66,592.85 L81.21,592.52 L81.66,592.19 L81.98,591.86 L82.19,591.53 L82.26,591.2 Z" fill="url(#hxF)" stroke="#2d4f9f" stroke-width="0.3"/>
<path d="M81.74,597.6 L81.71,597.8 L81.64,597.99 L81.52,598.19 L81.35,598.38 L81.15,598.58 L80.9,598.77 L80.61,598.97 L80.28,599.17 L79.91,599.36 L79.51,599.56 L79.08,599.75 L78.62,599.95 L78.13,600.15 L77.62,600.34 L77.08,600.54 L76.53,600.73 L75.96,600.93 L75.39,601.12 L74.8,601.32 L74.21,601.52 L73.62,601.71 L73.03,601.91 L72.45,602.1 L71.88,602.3 L71.88,611.7 L72.45,611.5 L73.03,611.31 L73.62,611.11 L74.21,610.92 L74.8,610.72 L75.39,610.53 L75.96,610.33 L76.53,610.13 L77.08,609.94 L77.62,609.74 L78.13,609.55 L78.62,609.35 L79.08,609.15 L79.51,608.96 L79.91,608.76 L80.28,608.57 L80.61,608.37 L80.9,608.18 L81.15,607.98 L81.35,607.78 L81.52,607.59 L81.64,607.39 L81.71,607.2 L81.74,607 Z" fill="url(#hxF)" stroke="#2d4f9f" stroke-width="0.3"/>
<path d="M133.52,498.8 L133.47,499.14 L133.3,499.48 L133.02,499.81 L132.63,500.15 L132.13,500.49 L131.55,500.82 L130.88,501.16 L130.13,501.5 L129.33,501.84 L128.48,502.18 L127.61,502.51 L126.71,502.85 L125.82,503.19 L124.94,503.53 L124.09,503.86 L123.29,504.2 L122.55,504.54 L121.88,504.88 L121.29,505.21 L120.8,505.55 L120.4,505.89 L120.12,506.23 L119.95,506.56 L119.9,506.9 L119.9,516.5 L119.95,516.16 L120.12,515.83 L120.4,515.49 L120.8,515.15 L121.29,514.81 L121.88,514.48 L122.55,514.14 L123.29,513.8 L124.09,513.46 L124.94,513.12 L125.82,512.79 L126.71,512.45 L127.61,512.11 L128.48,511.78 L129.33,511.44 L130.13,511.1 L130.88,510.76 L131.55,510.43 L132.13,510.09 L132.63,509.75 L133.02,509.41 L133.3,509.08 L133.47,508.74 L133.52,508.4 Z" fill="url(#hxF)" stroke="#2d4f9f" stroke-width="0.3"/>
<path d="M133.88,515 L133.83,515.34 L133.66,515.68 L133.38,516.01 L132.98,516.35 L132.49,516.69 L131.9,517.03 L131.23,517.36 L130.49,517.7 L129.69,518.04 L128.84,518.38 L127.96,518.71 L127.07,519.05 L126.18,519.39 L125.3,519.73 L124.45,520.06 L123.65,520.4 L122.91,520.74 L122.23,521.08 L121.65,521.41 L121.15,521.75 L120.76,522.09 L120.48,522.43 L120.31,522.76 L120.26,523.1 L120.26,532.7 L120.31,532.36 L120.48,532.02 L120.76,531.69 L121.15,531.35 L121.65,531.01 L122.23,530.67 L122.91,530.34 L123.65,530 L124.45,529.66 L125.3,529.32 L126.18,528.99 L127.07,528.65 L127.96,528.31 L128.84,527.98 L129.69,527.64 L130.49,527.3 L131.23,526.96 L131.9,526.62 L132.49,526.29 L132.98,525.95 L133.38,525.61 L133.66,525.27 L133.83,524.94 L133.88,524.6 Z" fill="url(#hxF)" stroke="#2d4f9f" stroke-width="0.3"/>
<path d="M134.24,531.2 L134.18,531.54 L134.02,531.88 L133.73,532.21 L133.34,532.55 L132.85,532.89 L132.26,533.23 L131.59,533.56 L130.85,533.9 L130.04,534.24 L129.2,534.58 L128.32,534.91 L127.43,535.25 L126.53,535.59 L125.65,535.93 L124.81,536.26 L124,536.6 L123.26,536.94 L122.59,537.28 L122,537.61 L121.51,537.95 L121.12,538.29 L120.83,538.63 L120.67,538.96 L120.61,539.3 L120.61,548.9 L120.67,548.56 L120.83,548.23 L121.12,547.89 L121.51,547.55 L122,547.21 L122.59,546.88 L123.26,546.54 L124,546.2 L124.81,545.86 L125.65,545.52 L126.53,545.19 L127.43,544.85 L128.32,544.51 L129.2,544.17 L130.04,543.84 L130.85,543.5 L131.59,543.16 L132.26,542.82 L132.85,542.49 L133.34,542.15 L133.73,541.81 L134.02,541.48 L134.18,541.14 L134.24,540.8 Z" fill="url(#hxF)" stroke="#2d4f9f" stroke-width="0.3"/>
<path d="M134.59,547.4 L134.54,547.74 L134.37,548.08 L134.09,548.41 L133.7,548.75 L133.2,549.09 L132.62,549.43 L131.94,549.76 L131.2,550.1 L130.4,550.44 L129.55,550.78 L128.67,551.11 L127.78,551.45 L126.89,551.79 L126.01,552.12 L125.16,552.46 L124.36,552.8 L123.62,553.14 L122.95,553.48 L122.36,553.81 L121.87,554.15 L121.47,554.49 L121.19,554.83 L121.02,555.16 L120.97,555.5 L120.97,565.1 L121.02,564.76 L121.19,564.42 L121.47,564.09 L121.87,563.75 L122.36,563.41 L122.95,563.07 L123.62,562.74 L124.36,562.4 L125.16,562.06 L126.01,561.72 L126.89,561.39 L127.78,561.05 L128.67,560.71 L129.55,560.38 L130.4,560.04 L131.2,559.7 L131.94,559.36 L132.62,559.02 L133.2,558.69 L133.7,558.35 L134.09,558.01 L134.37,557.67 L134.54,557.34 L134.59,557 Z" fill="url(#hxF)" stroke="#2d4f9f" stroke-width="0.3"/>
<path d="M134.95,563.6 L134.9,563.94 L134.73,564.28 L134.45,564.61 L134.05,564.95 L133.56,565.29 L132.97,565.62 L132.3,565.96 L131.56,566.3 L130.76,566.64 L129.91,566.98 L129.03,567.31 L128.14,567.65 L127.24,567.99 L126.37,568.33 L125.52,568.66 L124.72,569 L123.97,569.34 L123.3,569.68 L122.72,570.01 L122.22,570.35 L121.83,570.69 L121.55,571.03 L121.38,571.36 L121.33,571.7 L121.33,581.3 L121.38,580.96 L121.55,580.62 L121.83,580.29 L122.22,579.95 L122.72,579.61 L123.3,579.27 L123.97,578.94 L124.72,578.6 L125.52,578.26 L126.37,577.92 L127.24,577.59 L128.14,577.25 L129.03,576.91 L129.91,576.57 L130.76,576.24 L131.56,575.9 L132.3,575.56 L132.97,575.22 L133.56,574.89 L134.05,574.55 L134.45,574.21 L134.73,573.88 L134.9,573.54 L134.95,573.2 Z" fill="url(#hxF)" stroke="#2d4f9f" stroke-width="0.3"/>
<path d="M135.31,579.8 L135.25,580.14 L135.08,580.48 L134.8,580.81 L134.41,581.15 L133.92,581.49 L133.33,581.83 L132.66,582.16 L131.91,582.5 L131.11,582.84 L130.27,583.18 L129.39,583.51 L128.49,583.85 L127.6,584.19 L126.72,584.53 L125.88,584.86 L125.07,585.2 L124.33,585.54 L123.66,585.88 L123.07,586.21 L122.58,586.55 L122.19,586.89 L121.9,587.23 L121.74,587.56 L121.68,587.9 L121.68,597.5 L121.74,597.16 L121.9,596.83 L122.19,596.49 L122.58,596.15 L123.07,595.81 L123.66,595.48 L124.33,595.14 L125.07,594.8 L125.88,594.46 L126.72,594.12 L127.6,593.79 L128.49,593.45 L129.39,593.11 L130.27,592.77 L131.11,592.44 L131.91,592.1 L132.66,591.76 L133.33,591.42 L133.92,591.09 L134.41,590.75 L134.8,590.41 L135.08,590.08 L135.25,589.74 L135.31,589.4 Z" fill="url(#hxF)" stroke="#2d4f9f" stroke-width="0.3"/>
<path d="M135.66,596 L135.64,596.22 L135.57,596.43 L135.46,596.65 L135.29,596.87 L135.09,597.08 L134.83,597.3 L134.54,597.52 L134.2,597.73 L133.82,597.95 L133.41,598.17 L132.97,598.38 L132.5,598.6 L132,598.82 L131.48,599.03 L130.94,599.25 L130.39,599.47 L129.82,599.68 L129.25,599.9 L128.67,600.12 L128.1,600.33 L127.53,600.55 L126.97,600.77 L126.43,600.98 L125.9,601.2 L125.9,610.8 L126.43,610.58 L126.97,610.37 L127.53,610.15 L128.1,609.93 L128.67,609.72 L129.25,609.5 L129.82,609.28 L130.39,609.07 L130.94,608.85 L131.48,608.63 L132,608.42 L132.5,608.2 L132.97,607.98 L133.41,607.77 L133.82,607.55 L134.2,607.33 L134.54,607.12 L134.83,606.9 L135.09,606.68 L135.29,606.47 L135.46,606.25 L135.57,606.03 L135.64,605.82 L135.66,605.6 Z" fill="url(#hxF)" stroke="#2d4f9f" stroke-width="0.3"/>
<path d="M155.55,493.7 L155.16,493.85 L154.78,493.99 L154.4,494.14 L154.03,494.28 L153.67,494.43 L153.32,494.57 L152.98,494.72 L152.66,494.87 L152.34,495.01 L152.05,495.16 L151.76,495.3 L151.5,495.45 L151.25,495.6 L151.02,495.74 L150.81,495.89 L150.62,496.03 L150.45,496.18 L150.3,496.32 L150.18,496.47 L150.07,496.62 L149.99,496.76 L149.92,496.91 L149.88,497.05 L149.87,497.2 L149.87,506.8 L149.88,506.65 L149.92,506.51 L149.99,506.36 L150.07,506.22 L150.18,506.07 L150.3,505.93 L150.45,505.78 L150.62,505.63 L150.81,505.49 L151.02,505.34 L151.25,505.2 L151.5,505.05 L151.76,504.9 L152.05,504.76 L152.34,504.61 L152.66,504.47 L152.98,504.32 L153.32,504.18 L153.67,504.03 L154.03,503.88 L154.4,503.74 L154.78,503.59 L155.16,503.45 L155.55,503.3 Z" fill="url(#hxF)" stroke="#2d4f9f" stroke-width="0.3"/>
<path d="M163.36,505.2 L163.29,505.53 L163.1,505.87 L162.8,506.2 L162.39,506.53 L161.87,506.87 L161.27,507.2 L160.57,507.53 L159.81,507.87 L158.99,508.2 L158.12,508.53 L157.22,508.87 L156.31,509.2 L155.4,509.53 L154.5,509.87 L153.63,510.2 L152.81,510.53 L152.05,510.87 L151.36,511.2 L150.75,511.53 L150.23,511.87 L149.82,512.2 L149.52,512.53 L149.33,512.87 L149.26,513.2 L149.26,522.8 L149.33,522.47 L149.52,522.13 L149.82,521.8 L150.23,521.47 L150.75,521.13 L151.36,520.8 L152.05,520.47 L152.81,520.13 L153.63,519.8 L154.5,519.47 L155.4,519.13 L156.31,518.8 L157.22,518.47 L158.12,518.13 L158.99,517.8 L159.81,517.47 L160.57,517.13 L161.27,516.8 L161.87,516.47 L162.39,516.13 L162.8,515.8 L163.1,515.47 L163.29,515.13 L163.36,514.8 Z" fill="url(#hxF)" stroke="#2d4f9f" stroke-width="0.3"/>
<path d="M162.76,521.2 L162.68,521.53 L162.49,521.87 L162.19,522.2 L161.78,522.53 L161.27,522.87 L160.66,523.2 L159.97,523.53 L159.2,523.87 L158.38,524.2 L157.51,524.53 L156.62,524.87 L155.7,525.2 L154.79,525.53 L153.89,525.87 L153.02,526.2 L152.2,526.53 L151.44,526.87 L150.75,527.2 L150.14,527.53 L149.63,527.87 L149.21,528.2 L148.91,528.53 L148.72,528.87 L148.65,529.2 L148.65,538.8 L148.72,538.47 L148.91,538.13 L149.21,537.8 L149.63,537.47 L150.14,537.13 L150.75,536.8 L151.44,536.47 L152.2,536.13 L153.02,535.8 L153.89,535.47 L154.79,535.13 L155.7,534.8 L156.62,534.47 L157.51,534.13 L158.38,533.8 L159.2,533.47 L159.97,533.13 L160.66,532.8 L161.27,532.47 L161.78,532.13 L162.19,531.8 L162.49,531.47 L162.68,531.13 L162.76,530.8 Z" fill="url(#hxF)" stroke="#2d4f9f" stroke-width="0.3"/>
<path d="M162.15,537.2 L162.08,537.53 L161.89,537.87 L161.58,538.2 L161.17,538.53 L160.66,538.87 L160.05,539.2 L159.36,539.53 L158.6,539.87 L157.77,540.2 L156.91,540.53 L156.01,540.87 L155.09,541.2 L154.18,541.53 L153.28,541.87 L152.42,542.2 L151.59,542.53 L150.83,542.87 L150.14,543.2 L149.53,543.53 L149.02,543.87 L148.61,544.2 L148.3,544.53 L148.11,544.87 L148.04,545.2 L148.04,554.8 L148.11,554.47 L148.3,554.13 L148.61,553.8 L149.02,553.47 L149.53,553.13 L150.14,552.8 L150.83,552.47 L151.59,552.13 L152.42,551.8 L153.28,551.47 L154.18,551.13 L155.09,550.8 L156.01,550.47 L156.91,550.13 L157.77,549.8 L158.6,549.47 L159.36,549.13 L160.05,548.8 L160.66,548.47 L161.17,548.13 L161.58,547.8 L161.89,547.47 L162.08,547.13 L162.15,546.8 Z" fill="url(#hxF)" stroke="#2d4f9f" stroke-width="0.3"/>
<path d="M161.54,553.2 L161.47,553.53 L161.28,553.87 L160.98,554.2 L160.56,554.53 L160.05,554.87 L159.44,555.2 L158.75,555.53 L157.99,555.87 L157.17,556.2 L156.3,556.53 L155.4,556.87 L154.49,557.2 L153.57,557.53 L152.68,557.87 L151.81,558.2 L150.99,558.53 L150.22,558.87 L149.53,559.2 L148.92,559.53 L148.41,559.87 L148,560.2 L147.7,560.53 L147.51,560.87 L147.44,561.2 L147.44,570.8 L147.51,570.47 L147.7,570.13 L148,569.8 L148.41,569.47 L148.92,569.13 L149.53,568.8 L150.22,568.47 L150.99,568.13 L151.81,567.8 L152.68,567.47 L153.57,567.13 L154.49,566.8 L155.4,566.47 L156.3,566.13 L157.17,565.8 L157.99,565.47 L158.75,565.13 L159.44,564.8 L160.05,564.47 L160.56,564.13 L160.98,563.8 L161.28,563.47 L161.47,563.13 L161.54,562.8 Z" fill="url(#hxF)" stroke="#2d4f9f" stroke-width="0.3"/>
<path d="M160.93,569.2 L160.86,569.53 L160.67,569.87 L160.37,570.2 L159.96,570.53 L159.44,570.87 L158.83,571.2 L158.14,571.53 L157.38,571.87 L156.56,572.2 L155.69,572.53 L154.79,572.87 L153.88,573.2 L152.97,573.53 L152.07,573.87 L151.2,574.2 L150.38,574.53 L149.62,574.87 L148.92,575.2 L148.32,575.53 L147.8,575.87 L147.39,576.2 L147.09,576.53 L146.9,576.87 L146.83,577.2 L146.83,586.8 L146.9,586.47 L147.09,586.13 L147.39,585.8 L147.8,585.47 L148.32,585.13 L148.92,584.8 L149.62,584.47 L150.38,584.13 L151.2,583.8 L152.07,583.47 L152.97,583.13 L153.88,582.8 L154.79,582.47 L155.69,582.13 L156.56,581.8 L157.38,581.47 L158.14,581.13 L158.83,580.8 L159.44,580.47 L159.96,580.13 L160.37,579.8 L160.67,579.47 L160.86,579.13 L160.93,578.8 Z" fill="url(#hxF)" stroke="#2d4f9f" stroke-width="0.3"/>
<path d="M160.32,585.2 L160.25,585.53 L160.06,585.87 L159.76,586.2 L159.35,586.53 L158.83,586.87 L158.23,587.2 L157.53,587.53 L156.77,587.87 L155.95,588.2 L155.08,588.53 L154.18,588.87 L153.27,589.2 L152.36,589.53 L151.46,589.87 L150.59,590.2 L149.77,590.53 L149.01,590.87 L148.32,591.2 L147.71,591.53 L147.19,591.87 L146.78,592.2 L146.48,592.53 L146.29,592.87 L146.22,593.2 L146.22,602.8 L146.29,602.47 L146.48,602.13 L146.78,601.8 L147.19,601.47 L147.71,601.13 L148.32,600.8 L149.01,600.47 L149.77,600.13 L150.59,599.8 L151.46,599.47 L152.36,599.13 L153.27,598.8 L154.18,598.47 L155.08,598.13 L155.95,597.8 L156.77,597.47 L157.53,597.13 L158.23,596.8 L158.83,596.47 L159.35,596.13 L159.76,595.8 L160.06,595.47 L160.25,595.13 L160.32,594.8 Z" fill="url(#hxF)" stroke="#2d4f9f" stroke-width="0.3"/>
<path d="M159.72,601.2 L159.71,601.24 L159.71,601.28 L159.7,601.33 L159.69,601.37 L159.68,601.41 L159.67,601.45 L159.66,601.49 L159.64,601.53 L159.63,601.58 L159.61,601.62 L159.59,601.66 L159.56,601.7 L159.54,601.74 L159.51,601.78 L159.48,601.83 L159.45,601.87 L159.42,601.91 L159.39,601.95 L159.35,601.99 L159.32,602.03 L159.28,602.08 L159.24,602.12 L159.2,602.16 L159.15,602.2 L159.15,611.8 L159.2,611.76 L159.24,611.72 L159.28,611.67 L159.32,611.63 L159.35,611.59 L159.39,611.55 L159.42,611.51 L159.45,611.47 L159.48,611.42 L159.51,611.38 L159.54,611.34 L159.56,611.3 L159.59,611.26 L159.61,611.22 L159.63,611.17 L159.64,611.13 L159.66,611.09 L159.67,611.05 L159.68,611.01 L159.69,610.97 L159.7,610.92 L159.71,610.88 L159.71,610.84 L159.72,610.8 Z" fill="url(#hxF)" stroke="#2d4f9f" stroke-width="0.3"/>
<path d="M43.2,531 L50,532.5 L51.5,541 L44,540 Z" fill="#8fd0cf" opacity="0.9"/>
<path d="M61.5,608 C58,612 55,616 55.6,624.5" fill="none" stroke="#3f6cc4" stroke-width="1.2"/>
<path d="M75.5,608 C74,611 72.5,614 71.7,618.4" fill="none" stroke="#3f6cc4" stroke-width="1.2"/>
<path d="M131,606 C134,609 133,614 130.5,619" fill="none" stroke="#3f6cc4" stroke-width="1.2"/>
<path d="M150,606 C147,610 148,616 151,620" fill="none" stroke="#3f6cc4" stroke-width="1.2"/>
<path d="M119.2,495.2 L125,499.5" fill="none" stroke="#3f6cc4" stroke-width="1.2"/>
<path d="M157,497 L164.2,495.2" fill="none" stroke="#3f6cc4" stroke-width="1.2"/>
<polyline points="52.75,486.97 50.43,484.22 46.89,484.84 45.65,488.23 47.97,490.98 51.51,490.36 52.75,486.97" stroke="#e4bb6a" stroke-width="1.3" fill="none" stroke-linejoin="round" stroke-linecap="round"/>
<polyline points="51.51,490.36 53.87,491.79 56.36,490.21 55.47,487.39 52.75,486.97" stroke="#e4bb6a" stroke-width="1.3" fill="none" stroke-linejoin="round" stroke-linecap="round"/>
<polyline points="56.6,494 55.8,497.5 54.5,500" stroke="#e4bb6a" stroke-width="1.3" fill="none" stroke-linejoin="round" stroke-linecap="round"/>
<rect x="50.2" y="498.6" width="6.4" height="8" rx="1.2" fill="url(#resY)" fill-opacity="1"/>
<polyline points="81.15,485.21 77.76,484.92 75.81,487.7 77.25,490.79 80.64,491.08 82.59,488.3 81.15,485.21" stroke="#e4bb6a" stroke-width="1.3" fill="none" stroke-linejoin="round" stroke-linecap="round"/>
<polyline points="75.81,487.7 73.29,488.32 72.68,491.04 75.15,492.33 77.25,490.79" stroke="#e4bb6a" stroke-width="1.3" fill="none" stroke-linejoin="round" stroke-linecap="round"/>
<polyline points="73.8,494 73.3,500 76,503.5 76.5,507.5" stroke="#e4bb6a" stroke-width="1.1" fill="none" stroke-linejoin="round" stroke-linecap="round"/>
<polyline points="73.3,500 71,497.5" stroke="#2d4f9f" stroke-width="1.3" fill="none" stroke-linejoin="round" stroke-linecap="round"/>
<rect x="52" y="527.6" width="6.4" height="9" rx="1.2" fill="url(#resY)" fill-opacity="1"/>
<polyline points="57,561 59.5,558.8 61.5,559.6 63,556.2 65.5,557.2 67.5,555.6 70,558" stroke="#e4bb6a" stroke-width="1.1" fill="none" stroke-linejoin="round" stroke-linecap="round"/>
<polyline points="61.5,559.6 62.2,562.5" stroke="#e4bb6a" stroke-width="1.1" fill="none" stroke-linejoin="round" stroke-linecap="round"/>
<rect x="52.7" y="560.3" width="4.3" height="8.6" rx="1.2" fill="url(#resY)" fill-opacity="1"/>
<rect x="69.8" y="557.6" width="3.4" height="8.2" rx="1.2" fill="url(#resY)" fill-opacity="1"/>
<polyline points="30.5,538.2 34.5,536.6 38.5,535.4 42.5,534.2" stroke="#84c9cc" stroke-width="1.3" fill="none" stroke-linejoin="round" stroke-linecap="round"/>
<polyline points="36,540.5 38.5,538" stroke="#84c9cc" stroke-width="1" fill="none" stroke-linejoin="round" stroke-linecap="round"/>
<polyline points="77.5,533.5 82,534.5 87,536 92,537.6 96,538.5" stroke="#84c9cc" stroke-width="1.3" fill="none" stroke-linejoin="round" stroke-linecap="round"/>
<polyline points="80,537 84,535" stroke="#84c9cc" stroke-width="1" fill="none" stroke-linejoin="round" stroke-linecap="round"/>
<polyline points="43.5,601.8 46.5,600.4 48.8,603.2" stroke="#d98a8a" stroke-width="1.4" fill="none" stroke-linejoin="round" stroke-linecap="round"/>
<polyline points="50.5,603.5 55.5,608.5" stroke="#d98a8a" stroke-width="1.4" fill="none" stroke-linejoin="round" stroke-linecap="round"/>
<rect x="66.5" y="600.2" width="7.5" height="6.5" rx="1.2" fill="url(#resP)" fill-opacity="1"/>
<polyline points="73.5,601.5 78,603 81,605.5 79.5,608.5 76,607.5 74.5,604.5" stroke="#d98a8a" stroke-width="1.2" fill="none" stroke-linejoin="round" stroke-linecap="round"/>
<polyline points="124.5,499.5 127,503 129.5,502" stroke="#e4bb6a" stroke-width="1.2" fill="none" stroke-linejoin="round" stroke-linecap="round"/>
<rect x="151" y="494.8" width="5.2" height="9.5" rx="1.2" fill="url(#resY)" fill-opacity="1"/>
<polyline points="156,497 160,495" stroke="#e4bb6a" stroke-width="1.1" fill="none" stroke-linejoin="round" stroke-linecap="round"/>
<rect x="148.5" y="525" width="11" height="9.5" rx="1.2" fill="url(#resY)" fill-opacity="1"/>
<rect x="150" y="556.3" width="7.8" height="9" rx="1.2" fill="url(#resY)" fill-opacity="1"/>
<polyline points="125.5,528.5 128.5,531.5 130.5,534.5" stroke="#e4bb6a" stroke-width="1.1" fill="none" stroke-linejoin="round" stroke-linecap="round"/>
<polyline points="120.4,553.5 121.5,556.5" stroke="#e4bb6a" stroke-width="1.1" fill="none" stroke-linejoin="round" stroke-linecap="round"/>
<polyline points="126.7,561 128.2,563.5 127,565" stroke="#e4bb6a" stroke-width="1.1" fill="none" stroke-linejoin="round" stroke-linecap="round"/>
<polyline points="131,535 134.5,533.2 137.5,536.2 140.5,533.8 143.5,536.5 146.5,534.2 149,536.5" stroke="#84c9cc" stroke-width="1.25" fill="none" stroke-linejoin="round" stroke-linecap="round"/>
<polyline points="134.5,538.5 137.5,536.2" stroke="#84c9cc" stroke-width="1" fill="none" stroke-linejoin="round" stroke-linecap="round"/>
<polyline points="143.5,536.5 144.5,540" stroke="#84c9cc" stroke-width="1" fill="none" stroke-linejoin="round" stroke-linecap="round"/>
<polyline points="146.5,534.2 147,531" stroke="#84c9cc" stroke-width="1" fill="none" stroke-linejoin="round" stroke-linecap="round"/>
<polyline points="118.2,593.5 121.5,597.5 123,602 125.5,606.5" stroke="#d98a8a" stroke-width="1.3" fill="none" stroke-linejoin="round" stroke-linecap="round"/>
<rect x="121.5" y="596.5" width="7" height="8.5" rx="1.2" fill="url(#resP)" fill-opacity="1"/>
<polyline points="157.5,600.5 161,598.8 164.5,596.5 167.5,594.2" stroke="#d98a8a" stroke-width="1.2" fill="none" stroke-linejoin="round" stroke-linecap="round"/>
<polyline points="161,598.8 163,601.5 166.5,599.5 164.5,596.5" stroke="#d98a8a" stroke-width="1" fill="none" stroke-linejoin="round" stroke-linecap="round"/>
<rect x="155.5" y="598" width="5" height="7" rx="1.2" fill="url(#resP)" fill-opacity="1"/>
<line x1="37.3" y1="527.6" x2="54" y2="529.7" stroke="#111" stroke-width="0.8"/>
<line x1="37.3" y1="562" x2="54" y2="560" stroke="#111" stroke-width="0.8"/>
<line x1="150" y1="536.5" x2="170.5" y2="546" stroke="#111" stroke-width="0.8"/>
<text x="25.2" y="489.7" font-size="7.2" text-anchor="start" fill="#1a1a1a" font-weight="normal" font-style="normal" textLength="18" lengthAdjust="spacingAndGlyphs" stroke="#1a1a1a" stroke-width="0.12">W491</text>
<text x="18.6" y="520" font-size="6.4" text-anchor="start" fill="#1a1a1a" font-weight="normal" font-style="italic" textLength="7.4" lengthAdjust="spacingAndGlyphs" stroke="#1a1a1a" stroke-width="0.12">EC</text>
<text x="20.9" y="530" font-size="7.2" text-anchor="start" fill="#1a1a1a" font-weight="normal" font-style="normal" textLength="14.8" lengthAdjust="spacingAndGlyphs" stroke="#1a1a1a" stroke-width="0.12">L498</text>
<text x="19.7" y="545.3" font-size="7.2" text-anchor="start" fill="#86c9cd" font-weight="normal" font-style="normal" textLength="16" lengthAdjust="spacingAndGlyphs" stroke="#86c9cd" stroke-width="0.12">H499</text>
<text x="18.8" y="565" font-size="7.2" text-anchor="start" fill="#1a1a1a" font-weight="normal" font-style="italic" textLength="17" lengthAdjust="spacingAndGlyphs" stroke="#1a1a1a" stroke-width="0.12">N505</text>
<text x="18.6" y="602" font-size="6.4" text-anchor="start" fill="#1a1a1a" font-weight="normal" font-style="italic" textLength="5.6" lengthAdjust="spacingAndGlyphs" stroke="#1a1a1a" stroke-width="0.12">IC</text>
<text x="84" y="611" font-size="7.2" text-anchor="start" fill="#d0607f" font-weight="normal" font-style="normal" textLength="18.5" lengthAdjust="spacingAndGlyphs" stroke="#d0607f" stroke-width="0.12">W515</text>
<text x="65.6" y="631.8" font-size="7.2" text-anchor="middle" fill="#1a1a1a" font-weight="normal" font-style="normal" textLength="39.6" lengthAdjust="spacingAndGlyphs" stroke="#1a1a1a" stroke-width="0.12">TpoR S505N</text>
<text x="65" y="640.5" font-size="7.2" text-anchor="middle" fill="#1a1a1a" font-weight="normal" font-style="normal" textLength="50.5" lengthAdjust="spacingAndGlyphs" stroke="#1a1a1a" stroke-width="0.12">active TM-dimer</text>
<text x="162.8" y="503.6" font-size="7.2" text-anchor="start" fill="#1a1a1a" font-weight="normal" font-style="italic" textLength="15.5" lengthAdjust="spacingAndGlyphs" stroke="#1a1a1a" stroke-width="0.12">A491</text>
<text x="164.2" y="532" font-size="7.2" text-anchor="start" fill="#1a1a1a" font-weight="normal" font-style="normal" textLength="14.8" lengthAdjust="spacingAndGlyphs" stroke="#1a1a1a" stroke-width="0.12">L498</text>
<text x="172.7" y="550" font-size="7.2" text-anchor="start" fill="#86c9cd" font-weight="normal" font-style="normal" textLength="16" lengthAdjust="spacingAndGlyphs" stroke="#86c9cd" stroke-width="0.12">H499</text>
<text x="161.8" y="562.5" font-size="7.2" text-anchor="start" fill="#1a1a1a" font-weight="normal" font-style="normal" textLength="15.5" lengthAdjust="spacingAndGlyphs" stroke="#1a1a1a" stroke-width="0.12">S505</text>
<text x="167.4" y="604.6" font-size="7.2" text-anchor="start" fill="#d0607f" font-weight="normal" font-style="normal" textLength="18.5" lengthAdjust="spacingAndGlyphs" stroke="#d0607f" stroke-width="0.12">W515</text>
<text x="139" y="631.8" font-size="7.2" text-anchor="middle" fill="#1a1a1a" font-weight="normal" font-style="normal" textLength="43.5" lengthAdjust="spacingAndGlyphs" stroke="#1a1a1a" stroke-width="0.12">TpoR  W491A</text>
<text x="138.8" y="640.5" font-size="7.2" text-anchor="middle" fill="#1a1a1a" font-weight="normal" font-style="normal" textLength="54.3" lengthAdjust="spacingAndGlyphs" stroke="#1a1a1a" stroke-width="0.12">inactiveTM-dimer</text>
<defs><linearGradient id="flF1" x1="0" y1="0" x2="1" y2="0"><stop offset="0" stop-color="#d4d4d4"/><stop offset="0.45" stop-color="#e8e8e8"/><stop offset="1" stop-color="#f2f2f2"/></linearGradient></defs>
<path d="M233.8,701.2 L291.8,701.2 L306.02,693.22 L248.02,693.22 Z" fill="url(#flF1)"/>
<line x1="252" y1="701.2" x2="266.22" y2="693.22" stroke="#d0d0d0" stroke-width="1.6"/>
<line x1="259" y1="701.2" x2="273.22" y2="693.22" stroke="#d0d0d0" stroke-width="1.6"/>
<line x1="266" y1="701.2" x2="280.22" y2="693.22" stroke="#d0d0d0" stroke-width="1.6"/>
<line x1="276" y1="701.2" x2="290.22" y2="693.22" stroke="#d0d0d0" stroke-width="1.6"/>
<line x1="286" y1="701.2" x2="300.22" y2="693.22" stroke="#d0d0d0" stroke-width="1.6"/>
<line x1="254" y1="701.2" x2="268.22" y2="693.22" stroke="#fff" stroke-width="1.6"/>
<line x1="264" y1="701.2" x2="278.22" y2="693.22" stroke="#fff" stroke-width="1.6"/>
<line x1="273" y1="701.2" x2="287.22" y2="693.22" stroke="#fff" stroke-width="1.6"/>
<line x1="279" y1="701.2" x2="293.22" y2="693.22" stroke="#fff" stroke-width="1.6"/>
<line x1="246" y1="701.2" x2="260.22" y2="693.22" stroke="#111" stroke-width="0.85"/>
<line x1="249" y1="701.2" x2="263.22" y2="693.22" stroke="#111" stroke-width="0.85"/>
<line x1="256" y1="701.2" x2="270.22" y2="693.22" stroke="#111" stroke-width="0.85"/>
<line x1="262" y1="701.2" x2="276.22" y2="693.22" stroke="#111" stroke-width="0.85"/>
<line x1="270" y1="701.2" x2="284.22" y2="693.22" stroke="#111" stroke-width="0.85"/>
<line x1="282" y1="701.2" x2="296.22" y2="693.22" stroke="#111" stroke-width="0.85"/>
<path d="M248.02,693.21 L248.81,693.21 L249.61,693.19 L250.4,693.15 L251.2,693.09 L251.99,692.96 L252.79,692.69 L253.58,692.28 L254.38,691.75 L255.17,690.59 L255.97,689.23 L256.76,686.87 L257.55,683.89 L258.35,680.37 L259.14,677.17 L259.94,671.82 L260.73,664.36 L261.53,658.81 L262.32,653.17 L263.12,650.81 L263.91,648.27 L264.7,647.07 L265.5,647.39 L266.29,648.07 L267.09,650 L267.88,651.52 L268.68,651.93 L269.47,655.49 L270.27,657.38 L271.06,660.64 L271.86,663.01 L272.65,665.22 L273.44,667.55 L274.24,670.24 L275.03,672.42 L275.83,674.08 L276.62,678.14 L277.42,680.61 L278.21,682.9 L279.01,683.99 L279.8,685.03 L280.6,686.47 L281.39,686.9 L282.18,688.28 L282.98,689.04 L283.77,689.59 L284.57,690.21 L285.36,690.91 L286.16,691.3 L286.95,691.72 L287.75,692.07 L288.54,692.29 L289.34,692.45 L290.13,692.64 L290.92,692.79 L291.72,692.89 L292.51,692.96 L293.31,693.03 L294.1,693.07 L294.9,693.11 L295.69,693.14 L296.49,693.16 L297.28,693.17 L298.07,693.19 L298.87,693.2 L299.66,693.2 L300.46,693.21 L301.25,693.21 L302.05,693.21 L302.84,693.22 L303.64,693.22 L304.43,693.22 L305.23,693.22 L306.02,693.22 Z" fill="#f6d6e0" fill-opacity="0.45" stroke="none"/>
<path d="M248.02,693.21 L248.81,693.21 L249.61,693.19 L250.4,693.15 L251.2,693.09 L251.99,692.96 L252.79,692.69 L253.58,692.28 L254.38,691.75 L255.17,690.59 L255.97,689.23 L256.76,686.87 L257.55,683.89 L258.35,680.37 L259.14,677.17 L259.94,671.82 L260.73,664.36 L261.53,658.81 L262.32,653.17 L263.12,650.81 L263.91,648.27 L264.7,647.07 L265.5,647.39 L266.29,648.07 L267.09,650 L267.88,651.52 L268.68,651.93 L269.47,655.49 L270.27,657.38 L271.06,660.64 L271.86,663.01 L272.65,665.22 L273.44,667.55 L274.24,670.24 L275.03,672.42 L275.83,674.08 L276.62,678.14 L277.42,680.61 L278.21,682.9 L279.01,683.99 L279.8,685.03 L280.6,686.47 L281.39,686.9 L282.18,688.28 L282.98,689.04 L283.77,689.59 L284.57,690.21 L285.36,690.91 L286.16,691.3 L286.95,691.72 L287.75,692.07 L288.54,692.29 L289.34,692.45 L290.13,692.64 L290.92,692.79 L291.72,692.89 L292.51,692.96 L293.31,693.03 L294.1,693.07 L294.9,693.11 L295.69,693.14 L296.49,693.16 L297.28,693.17 L298.07,693.19 L298.87,693.2 L299.66,693.2 L300.46,693.21 L301.25,693.21 L302.05,693.21 L302.84,693.22 L303.64,693.22 L304.43,693.22 L305.23,693.22 L306.02,693.22" fill="none" stroke="#ee9cc0" stroke-width="1.15" stroke-linejoin="round"/>
<path d="M245.65,694.55 L246.44,694.55 L247.24,694.55 L248.03,694.55 L248.83,694.55 L249.62,694.55 L250.42,694.55 L251.21,694.54 L252.01,694.54 L252.8,694.52 L253.6,694.5 L254.39,694.44 L255.18,694.34 L255.98,694.15 L256.77,693.77 L257.57,693.35 L258.36,692.29 L259.16,691.29 L259.95,688.95 L260.75,686.87 L261.54,683.15 L262.33,678.91 L263.13,675.37 L263.92,667.99 L264.72,661.86 L265.51,658.91 L266.31,653.95 L267.1,649.19 L267.9,649.6 L268.69,650.14 L269.49,648.67 L270.28,650.19 L271.07,651.23 L271.87,653.69 L272.66,657.21 L273.46,658.89 L274.25,662.95 L275.05,664.32 L275.84,667.01 L276.64,671.68 L277.43,673.77 L278.23,676.14 L279.02,678.98 L279.81,680.96 L280.61,682.66 L281.4,683.71 L282.2,686.33 L282.99,688.28 L283.79,689.54 L284.58,690.2 L285.38,690.71 L286.17,691.36 L286.97,692.13 L287.76,692.65 L288.55,692.89 L289.35,693.23 L290.14,693.54 L290.94,693.8 L291.73,694.01 L292.53,694.12 L293.32,694.22 L294.12,694.3 L294.91,694.37 L295.7,694.41 L296.5,694.45 L297.29,694.48 L298.09,694.5 L298.88,694.51 L299.68,694.52 L300.47,694.53 L301.27,694.54 L302.06,694.54 L302.86,694.54 L303.65,694.55 Z" fill="#efcdb5" fill-opacity="0.55" stroke="none"/>
<path d="M245.65,694.55 L246.44,694.55 L247.24,694.55 L248.03,694.55 L248.83,694.55 L249.62,694.55 L250.42,694.55 L251.21,694.54 L252.01,694.54 L252.8,694.52 L253.6,694.5 L254.39,694.44 L255.18,694.34 L255.98,694.15 L256.77,693.77 L257.57,693.35 L258.36,692.29 L259.16,691.29 L259.95,688.95 L260.75,686.87 L261.54,683.15 L262.33,678.91 L263.13,675.37 L263.92,667.99 L264.72,661.86 L265.51,658.91 L266.31,653.95 L267.1,649.19 L267.9,649.6 L268.69,650.14 L269.49,648.67 L270.28,650.19 L271.07,651.23 L271.87,653.69 L272.66,657.21 L273.46,658.89 L274.25,662.95 L275.05,664.32 L275.84,667.01 L276.64,671.68 L277.43,673.77 L278.23,676.14 L279.02,678.98 L279.81,680.96 L280.61,682.66 L281.4,683.71 L282.2,686.33 L282.99,688.28 L283.79,689.54 L284.58,690.2 L285.38,690.71 L286.17,691.36 L286.97,692.13 L287.76,692.65 L288.55,692.89 L289.35,693.23 L290.14,693.54 L290.94,693.8 L291.73,694.01 L292.53,694.12 L293.32,694.22 L294.12,694.3 L294.91,694.37 L295.7,694.41 L296.5,694.45 L297.29,694.48 L298.09,694.5 L298.88,694.51 L299.68,694.52 L300.47,694.53 L301.27,694.54 L302.06,694.54 L302.86,694.54 L303.65,694.55" fill="none" stroke="#c0782c" stroke-width="1.15" stroke-linejoin="round"/>
<path d="M243.28,695.88 L244.07,695.88 L244.87,695.87 L245.66,695.86 L246.46,695.84 L247.25,695.8 L248.05,695.71 L248.84,695.56 L249.64,695.31 L250.43,694.91 L251.23,694.03 L252.02,692.85 L252.81,690.94 L253.61,689.25 L254.4,686.46 L255.2,681.15 L255.99,678.49 L256.79,673.88 L257.58,667.51 L258.38,661.53 L259.17,654.95 L259.96,649.95 L260.76,648.59 L261.55,646.8 L262.35,647.25 L263.14,648.51 L263.94,649.67 L264.73,653.07 L265.53,656.16 L266.32,660.61 L267.12,663.48 L267.91,667.17 L268.7,670.33 L269.5,674.12 L270.29,676.89 L271.09,679.21 L271.88,683.66 L272.68,686.35 L273.47,688.09 L274.27,689.5 L275.06,690.44 L275.86,691.5 L276.65,692.55 L277.44,693.29 L278.24,694.18 L279.03,694.61 L279.83,695.04 L280.62,695.25 L281.42,695.44 L282.21,695.58 L283.01,695.68 L283.8,695.75 L284.6,695.79 L285.39,695.82 L286.18,695.84 L286.98,695.86 L287.77,695.87 L288.57,695.87 L289.36,695.88 L290.16,695.88 L290.95,695.88 L291.75,695.88 L292.54,695.88 L293.33,695.88 L294.13,695.88 L294.92,695.88 L295.72,695.88 L296.51,695.88 L297.31,695.88 L298.1,695.88 L298.9,695.88 L299.69,695.88 L300.49,695.88 L301.28,695.88 Z" fill="#cfe3c0" fill-opacity="0.35" stroke="none"/>
<path d="M243.28,695.88 L244.07,695.88 L244.87,695.87 L245.66,695.86 L246.46,695.84 L247.25,695.8 L248.05,695.71 L248.84,695.56 L249.64,695.31 L250.43,694.91 L251.23,694.03 L252.02,692.85 L252.81,690.94 L253.61,689.25 L254.4,686.46 L255.2,681.15 L255.99,678.49 L256.79,673.88 L257.58,667.51 L258.38,661.53 L259.17,654.95 L259.96,649.95 L260.76,648.59 L261.55,646.8 L262.35,647.25 L263.14,648.51 L263.94,649.67 L264.73,653.07 L265.53,656.16 L266.32,660.61 L267.12,663.48 L267.91,667.17 L268.7,670.33 L269.5,674.12 L270.29,676.89 L271.09,679.21 L271.88,683.66 L272.68,686.35 L273.47,688.09 L274.27,689.5 L275.06,690.44 L275.86,691.5 L276.65,692.55 L277.44,693.29 L278.24,694.18 L279.03,694.61 L279.83,695.04 L280.62,695.25 L281.42,695.44 L282.21,695.58 L283.01,695.68 L283.8,695.75 L284.6,695.79 L285.39,695.82 L286.18,695.84 L286.98,695.86 L287.77,695.87 L288.57,695.87 L289.36,695.88 L290.16,695.88 L290.95,695.88 L291.75,695.88 L292.54,695.88 L293.33,695.88 L294.13,695.88 L294.92,695.88 L295.72,695.88 L296.51,695.88 L297.31,695.88 L298.1,695.88 L298.9,695.88 L299.69,695.88 L300.49,695.88 L301.28,695.88" fill="none" stroke="#72b84e" stroke-width="1.15" stroke-linejoin="round"/>
<path d="M240.91,697.21 L241.7,697.21 L242.5,697.21 L243.29,697.2 L244.09,697.2 L244.88,697.18 L245.68,697.15 L246.47,697.09 L247.27,696.97 L248.06,696.75 L248.86,696.36 L249.65,695.93 L250.44,695.22 L251.24,693.42 L252.03,691.99 L252.83,689.41 L253.62,685.61 L254.42,680.89 L255.21,677.09 L256.01,671.55 L256.8,666.81 L257.59,661.96 L258.39,656.26 L259.18,654.71 L259.98,654.49 L260.77,655.02 L261.57,655.18 L262.36,655.1 L263.16,656.93 L263.95,660.27 L264.75,666.36 L265.54,669.15 L266.33,672.85 L267.13,678.14 L267.92,680.44 L268.72,683.89 L269.51,686.5 L270.31,688.25 L271.1,690.89 L271.9,692.88 L272.69,693.68 L273.49,694.63 L274.28,695.46 L275.07,695.94 L275.87,696.41 L276.66,696.73 L277.46,696.89 L278.25,697.01 L279.05,697.08 L279.84,697.13 L280.64,697.17 L281.43,697.18 L282.23,697.2 L283.02,697.2 L283.81,697.21 L284.61,697.21 L285.4,697.21 L286.2,697.21 L286.99,697.21 L287.79,697.21 L288.58,697.21 L289.38,697.21 L290.17,697.21 L290.96,697.21 L291.76,697.21 L292.55,697.21 L293.35,697.21 L294.14,697.21 L294.94,697.21 L295.73,697.21 L296.53,697.21 L297.32,697.21 L298.12,697.21 L298.91,697.21 Z" fill="#9aa6bf" fill-opacity="0.45" stroke="none"/>
<path d="M240.91,697.21 L241.7,697.21 L242.5,697.21 L243.29,697.2 L244.09,697.2 L244.88,697.18 L245.68,697.15 L246.47,697.09 L247.27,696.97 L248.06,696.75 L248.86,696.36 L249.65,695.93 L250.44,695.22 L251.24,693.42 L252.03,691.99 L252.83,689.41 L253.62,685.61 L254.42,680.89 L255.21,677.09 L256.01,671.55 L256.8,666.81 L257.59,661.96 L258.39,656.26 L259.18,654.71 L259.98,654.49 L260.77,655.02 L261.57,655.18 L262.36,655.1 L263.16,656.93 L263.95,660.27 L264.75,666.36 L265.54,669.15 L266.33,672.85 L267.13,678.14 L267.92,680.44 L268.72,683.89 L269.51,686.5 L270.31,688.25 L271.1,690.89 L271.9,692.88 L272.69,693.68 L273.49,694.63 L274.28,695.46 L275.07,695.94 L275.87,696.41 L276.66,696.73 L277.46,696.89 L278.25,697.01 L279.05,697.08 L279.84,697.13 L280.64,697.17 L281.43,697.18 L282.23,697.2 L283.02,697.2 L283.81,697.21 L284.61,697.21 L285.4,697.21 L286.2,697.21 L286.99,697.21 L287.79,697.21 L288.58,697.21 L289.38,697.21 L290.17,697.21 L290.96,697.21 L291.76,697.21 L292.55,697.21 L293.35,697.21 L294.14,697.21 L294.94,697.21 L295.73,697.21 L296.53,697.21 L297.32,697.21 L298.12,697.21 L298.91,697.21" fill="none" stroke="#4a6aa8" stroke-width="1.15" stroke-linejoin="round"/>
<path d="M238.54,698.54 L239.33,698.54 L240.13,698.54 L240.92,698.54 L241.72,698.54 L242.51,698.54 L243.31,698.54 L244.1,698.54 L244.9,698.54 L245.69,698.53 L246.49,698.52 L247.28,698.5 L248.07,698.46 L248.87,698.38 L249.66,698.23 L250.46,697.94 L251.25,697.46 L252.05,696.67 L252.84,695.7 L253.64,694.59 L254.43,692.42 L255.22,689.97 L256.02,685.72 L256.81,682.18 L257.61,675.7 L258.4,670.6 L259.2,666.78 L259.99,662.93 L260.79,658.79 L261.58,655.48 L262.38,655.1 L263.17,655.72 L263.96,657.66 L264.76,661.94 L265.55,664.02 L266.35,669.44 L267.14,674.02 L267.94,675.79 L268.73,679.85 L269.53,683.81 L270.32,686 L271.12,689.44 L271.91,692.55 L272.7,693.61 L273.5,695.24 L274.29,696.08 L275.09,696.99 L275.88,697.62 L276.68,697.88 L277.47,698.14 L278.27,698.3 L279.06,698.4 L279.86,698.46 L280.65,698.49 L281.44,698.51 L282.24,698.53 L283.03,698.53 L283.83,698.54 L284.62,698.54 L285.42,698.54 L286.21,698.54 L287.01,698.54 L287.8,698.54 L288.59,698.54 L289.39,698.54 L290.18,698.54 L290.98,698.54 L291.77,698.54 L292.57,698.54 L293.36,698.54 L294.16,698.54 L294.95,698.54 L295.75,698.54 L296.54,698.54 Z" fill="#858585" fill-opacity="0.75" stroke="none"/>
<path d="M238.54,698.54 L239.33,698.54 L240.13,698.54 L240.92,698.54 L241.72,698.54 L242.51,698.54 L243.31,698.54 L244.1,698.54 L244.9,698.54 L245.69,698.53 L246.49,698.52 L247.28,698.5 L248.07,698.46 L248.87,698.38 L249.66,698.23 L250.46,697.94 L251.25,697.46 L252.05,696.67 L252.84,695.7 L253.64,694.59 L254.43,692.42 L255.22,689.97 L256.02,685.72 L256.81,682.18 L257.61,675.7 L258.4,670.6 L259.2,666.78 L259.99,662.93 L260.79,658.79 L261.58,655.48 L262.38,655.1 L263.17,655.72 L263.96,657.66 L264.76,661.94 L265.55,664.02 L266.35,669.44 L267.14,674.02 L267.94,675.79 L268.73,679.85 L269.53,683.81 L270.32,686 L271.12,689.44 L271.91,692.55 L272.7,693.61 L273.5,695.24 L274.29,696.08 L275.09,696.99 L275.88,697.62 L276.68,697.88 L277.47,698.14 L278.27,698.3 L279.06,698.4 L279.86,698.46 L280.65,698.49 L281.44,698.51 L282.24,698.53 L283.03,698.53 L283.83,698.54 L284.62,698.54 L285.42,698.54 L286.21,698.54 L287.01,698.54 L287.8,698.54 L288.59,698.54 L289.39,698.54 L290.18,698.54 L290.98,698.54 L291.77,698.54 L292.57,698.54 L293.36,698.54 L294.16,698.54 L294.95,698.54 L295.75,698.54 L296.54,698.54" fill="none" stroke="#5f5f72" stroke-width="1.15" stroke-linejoin="round"/>
<path d="M236.17,699.87 L236.96,699.87 L237.76,699.87 L238.55,699.87 L239.35,699.87 L240.14,699.87 L240.94,699.87 L241.73,699.87 L242.53,699.86 L243.32,699.85 L244.12,699.83 L244.91,699.77 L245.7,699.66 L246.5,699.44 L247.29,698.98 L248.09,698.21 L248.88,696.82 L249.68,694.93 L250.47,692.31 L251.27,689.67 L252.06,684.27 L252.85,677.52 L253.65,671.38 L254.44,667.38 L255.24,659.82 L256.03,656.61 L256.83,654.03 L257.62,654.78 L258.42,655.57 L259.21,659.59 L260.01,663.64 L260.8,667.62 L261.59,670.41 L262.39,671.15 L263.18,671.86 L263.98,674.23 L264.77,680.03 L265.57,682.8 L266.36,684.82 L267.16,689.11 L267.95,691.04 L268.75,693.11 L269.54,694.88 L270.33,695.66 L271.13,696.68 L271.92,697.76 L272.72,698.18 L273.51,698.77 L274.31,699.03 L275.1,699.34 L275.9,699.51 L276.69,699.64 L277.49,699.72 L278.28,699.77 L279.07,699.81 L279.87,699.83 L280.66,699.85 L281.46,699.86 L282.25,699.86 L283.05,699.87 L283.84,699.87 L284.64,699.87 L285.43,699.87 L286.22,699.87 L287.02,699.87 L287.81,699.87 L288.61,699.87 L289.4,699.87 L290.2,699.87 L290.99,699.87 L291.79,699.87 L292.58,699.87 L293.38,699.87 L294.17,699.87 Z" fill="#9fb6d0" fill-opacity="0.45" stroke="none"/>
<path d="M236.17,699.87 L236.96,699.87 L237.76,699.87 L238.55,699.87 L239.35,699.87 L240.14,699.87 L240.94,699.87 L241.73,699.87 L242.53,699.86 L243.32,699.85 L244.12,699.83 L244.91,699.77 L245.7,699.66 L246.5,699.44 L247.29,698.98 L248.09,698.21 L248.88,696.82 L249.68,694.93 L250.47,692.31 L251.27,689.67 L252.06,684.27 L252.85,677.52 L253.65,671.38 L254.44,667.38 L255.24,659.82 L256.03,656.61 L256.83,654.03 L257.62,654.78 L258.42,655.57 L259.21,659.59 L260.01,663.64 L260.8,667.62 L261.59,670.41 L262.39,671.15 L263.18,671.86 L263.98,674.23 L264.77,680.03 L265.57,682.8 L266.36,684.82 L267.16,689.11 L267.95,691.04 L268.75,693.11 L269.54,694.88 L270.33,695.66 L271.13,696.68 L271.92,697.76 L272.72,698.18 L273.51,698.77 L274.31,699.03 L275.1,699.34 L275.9,699.51 L276.69,699.64 L277.49,699.72 L278.28,699.77 L279.07,699.81 L279.87,699.83 L280.66,699.85 L281.46,699.86 L282.25,699.86 L283.05,699.87 L283.84,699.87 L284.64,699.87 L285.43,699.87 L286.22,699.87 L287.02,699.87 L287.81,699.87 L288.61,699.87 L289.4,699.87 L290.2,699.87 L290.99,699.87 L291.79,699.87 L292.58,699.87 L293.38,699.87 L294.17,699.87" fill="none" stroke="#6aaee0" stroke-width="1.15" stroke-linejoin="round"/>
<path d="M233.8,701.2 L234.59,701.2 L235.39,701.2 L236.18,701.2 L236.98,701.2 L237.77,701.2 L238.57,701.2 L239.36,701.2 L240.16,701.2 L240.95,701.2 L241.75,701.2 L242.54,701.17 L243.33,700.99 L244.13,700.23 L244.92,697.67 L245.72,691.13 L246.51,678.74 L247.31,662.05 L248.1,647.87 L248.9,644.43 L249.69,653.97 L250.48,670.5 L251.28,685.6 L252.07,695.01 L252.87,699.28 L253.66,700.73 L254.46,701.11 L255.25,701.19 L256.05,701.2 L256.84,701.2 L257.64,701.2 L258.43,701.2 L259.22,701.2 L260.02,701.2 L260.81,701.2 L261.61,701.2 L262.4,701.2 L263.2,701.2 L263.99,701.2 L264.79,701.2 L265.58,701.2 L266.38,701.2 L267.17,701.2 L267.96,701.2 L268.76,701.2 L269.55,701.2 L270.35,701.2 L271.14,701.2 L271.94,701.2 L272.73,701.2 L273.53,701.2 L274.32,701.2 L275.12,701.2 L275.91,701.2 L276.7,701.2 L277.5,701.2 L278.29,701.2 L279.09,701.2 L279.88,701.2 L280.68,701.2 L281.47,701.2 L282.27,701.2 L283.06,701.2 L283.85,701.2 L284.65,701.2 L285.44,701.2 L286.24,701.2 L287.03,701.2 L287.83,701.2 L288.62,701.2 L289.42,701.2 L290.21,701.2 L291.01,701.2 L291.8,701.2" fill="none" stroke="#ab0b31" stroke-width="1" stroke-linejoin="round"/>
<line x1="234" y1="701.7" x2="234" y2="703.4" stroke="#222" stroke-width="0.6"/>
<line x1="237" y1="701.7" x2="237" y2="703.4" stroke="#222" stroke-width="0.6"/>
<line x1="240" y1="701.7" x2="240" y2="703.4" stroke="#222" stroke-width="0.6"/>
<line x1="243" y1="701.7" x2="243" y2="703.4" stroke="#222" stroke-width="0.6"/>
<line x1="246" y1="701.7" x2="246" y2="703.4" stroke="#222" stroke-width="0.6"/>
<line x1="249" y1="701.7" x2="249" y2="703.4" stroke="#222" stroke-width="0.6"/>
<line x1="252" y1="701.7" x2="252" y2="703.4" stroke="#222" stroke-width="0.6"/>
<line x1="255" y1="701.7" x2="255" y2="703.4" stroke="#222" stroke-width="0.6"/>
<line x1="258" y1="701.7" x2="258" y2="703.4" stroke="#222" stroke-width="0.6"/>
<line x1="261" y1="701.7" x2="261" y2="703.4" stroke="#222" stroke-width="0.6"/>
<line x1="264" y1="701.7" x2="264" y2="703.4" stroke="#222" stroke-width="0.6"/>
<line x1="267" y1="701.7" x2="267" y2="703.4" stroke="#222" stroke-width="0.6"/>
<line x1="270" y1="701.7" x2="270" y2="703.4" stroke="#222" stroke-width="0.6"/>
<line x1="273" y1="701.7" x2="273" y2="703.4" stroke="#222" stroke-width="0.6"/>
<line x1="276" y1="701.7" x2="276" y2="703.4" stroke="#222" stroke-width="0.6"/>
<line x1="279" y1="701.7" x2="279" y2="703.4" stroke="#222" stroke-width="0.6"/>
<line x1="282" y1="701.7" x2="282" y2="703.4" stroke="#222" stroke-width="0.6"/>
<line x1="285" y1="701.7" x2="285" y2="703.4" stroke="#222" stroke-width="0.6"/>
<line x1="288" y1="701.7" x2="288" y2="703.4" stroke="#222" stroke-width="0.6"/>
<line x1="291" y1="701.7" x2="291" y2="703.4" stroke="#222" stroke-width="0.6"/>
<rect x="244.9" y="700.7" width="2.2" height="2.2" fill="#000"/>
<defs><linearGradient id="flF2" x1="0" y1="0" x2="1" y2="0"><stop offset="0" stop-color="#d4d4d4"/><stop offset="0.45" stop-color="#e8e8e8"/><stop offset="1" stop-color="#f2f2f2"/></linearGradient></defs>
<path d="M318,701.2 L373.8,701.2 L387.3,693.2 L331.5,693.2 Z" fill="url(#flF2)"/>
<line x1="334" y1="701.2" x2="347.5" y2="693.2" stroke="#d0d0d0" stroke-width="1.6"/>
<line x1="340" y1="701.2" x2="353.5" y2="693.2" stroke="#d0d0d0" stroke-width="1.6"/>
<line x1="347" y1="701.2" x2="360.5" y2="693.2" stroke="#d0d0d0" stroke-width="1.6"/>
<line x1="357" y1="701.2" x2="370.5" y2="693.2" stroke="#d0d0d0" stroke-width="1.6"/>
<line x1="367" y1="701.2" x2="380.5" y2="693.2" stroke="#d0d0d0" stroke-width="1.6"/>
<line x1="336" y1="701.2" x2="349.5" y2="693.2" stroke="#fff" stroke-width="1.6"/>
<line x1="345" y1="701.2" x2="358.5" y2="693.2" stroke="#fff" stroke-width="1.6"/>
<line x1="354" y1="701.2" x2="367.5" y2="693.2" stroke="#fff" stroke-width="1.6"/>
<line x1="360" y1="701.2" x2="373.5" y2="693.2" stroke="#fff" stroke-width="1.6"/>
<line x1="327.7" y1="701.2" x2="341.2" y2="693.2" stroke="#111" stroke-width="0.85"/>
<line x1="331" y1="701.2" x2="344.5" y2="693.2" stroke="#111" stroke-width="0.85"/>
<line x1="337" y1="701.2" x2="350.5" y2="693.2" stroke="#111" stroke-width="0.85"/>
<line x1="343" y1="701.2" x2="356.5" y2="693.2" stroke="#111" stroke-width="0.85"/>
<line x1="351" y1="701.2" x2="364.5" y2="693.2" stroke="#111" stroke-width="0.85"/>
<line x1="363" y1="701.2" x2="376.5" y2="693.2" stroke="#111" stroke-width="0.85"/>
<path d="M331.5,693.12 L332.3,693.05 L333.09,692.94 L333.89,692.74 L334.69,692.44 L335.49,691.97 L336.28,691.1 L337.08,690.08 L337.88,688.71 L338.67,687.01 L339.47,683.45 L340.27,679.97 L341.07,675.21 L341.86,672.65 L342.66,668.08 L343.46,661.18 L344.25,658.45 L345.05,654.76 L345.85,650.52 L346.65,647.77 L347.44,645.25 L348.24,644.64 L349.04,647.02 L349.83,647.83 L350.63,650.16 L351.43,652.99 L352.23,655.35 L353.02,659.54 L353.82,663.02 L354.62,667.48 L355.41,670.04 L356.21,673.16 L357.01,675.55 L357.81,678.44 L358.6,680.26 L359.4,681.82 L360.2,684.83 L360.99,686.61 L361.79,687.72 L362.59,688.61 L363.39,689.17 L364.18,689.85 L364.98,690.55 L365.78,691.04 L366.57,691.71 L367.37,692.02 L368.17,692.37 L368.97,692.53 L369.76,692.74 L370.56,692.83 L371.36,692.93 L372.15,693 L372.95,693.06 L373.75,693.1 L374.55,693.13 L375.34,693.15 L376.14,693.16 L376.94,693.17 L377.73,693.18 L378.53,693.19 L379.33,693.19 L380.13,693.19 L380.92,693.2 L381.72,693.2 L382.52,693.2 L383.31,693.2 L384.11,693.2 L384.91,693.2 L385.71,693.2 L386.5,693.2 L387.3,693.2" fill="none" stroke="#c2cb8a" stroke-width="1.15" stroke-linejoin="round"/>
<path d="M328.12,695.19 L328.92,695.17 L329.72,695.15 L330.52,695.09 L331.31,694.98 L332.11,694.79 L332.91,694.49 L333.7,693.84 L334.5,692.98 L335.3,691.54 L336.1,689.4 L336.89,687.54 L337.69,684.81 L338.49,678.41 L339.29,674.74 L340.08,668.74 L340.88,661.99 L341.68,655.68 L342.47,651.68 L343.27,647.67 L344.07,646.24 L344.87,646.17 L345.66,645.46 L346.46,648.49 L347.26,652.01 L348.05,655.39 L348.85,657.94 L349.65,659.73 L350.44,662.88 L351.24,666.97 L352.04,673.3 L352.84,675.89 L353.63,679.08 L354.43,683.31 L355.23,685.01 L356.02,687.36 L356.82,689.1 L357.62,690.26 L358.42,691.77 L359.21,692.88 L360.01,693.36 L360.81,693.88 L361.61,694.31 L362.4,694.56 L363.2,694.81 L364,694.95 L364.79,695.04 L365.59,695.1 L366.39,695.14 L367.19,695.16 L367.98,695.18 L368.78,695.19 L369.58,695.19 L370.37,695.2 L371.17,695.2 L371.97,695.2 L372.76,695.2 L373.56,695.2 L374.36,695.2 L375.16,695.2 L375.95,695.2 L376.75,695.2 L377.55,695.2 L378.35,695.2 L379.14,695.2 L379.94,695.2 L380.74,695.2 L381.53,695.2 L382.33,695.2 L383.13,695.2 L383.93,695.2 Z" fill="#b4b0d4" fill-opacity="0.35" stroke="none"/>
<path d="M328.12,695.19 L328.92,695.17 L329.72,695.15 L330.52,695.09 L331.31,694.98 L332.11,694.79 L332.91,694.49 L333.7,693.84 L334.5,692.98 L335.3,691.54 L336.1,689.4 L336.89,687.54 L337.69,684.81 L338.49,678.41 L339.29,674.74 L340.08,668.74 L340.88,661.99 L341.68,655.68 L342.47,651.68 L343.27,647.67 L344.07,646.24 L344.87,646.17 L345.66,645.46 L346.46,648.49 L347.26,652.01 L348.05,655.39 L348.85,657.94 L349.65,659.73 L350.44,662.88 L351.24,666.97 L352.04,673.3 L352.84,675.89 L353.63,679.08 L354.43,683.31 L355.23,685.01 L356.02,687.36 L356.82,689.1 L357.62,690.26 L358.42,691.77 L359.21,692.88 L360.01,693.36 L360.81,693.88 L361.61,694.31 L362.4,694.56 L363.2,694.81 L364,694.95 L364.79,695.04 L365.59,695.1 L366.39,695.14 L367.19,695.16 L367.98,695.18 L368.78,695.19 L369.58,695.19 L370.37,695.2 L371.17,695.2 L371.97,695.2 L372.76,695.2 L373.56,695.2 L374.36,695.2 L375.16,695.2 L375.95,695.2 L376.75,695.2 L377.55,695.2 L378.35,695.2 L379.14,695.2 L379.94,695.2 L380.74,695.2 L381.53,695.2 L382.33,695.2 L383.13,695.2 L383.93,695.2" fill="none" stroke="#9d94d4" stroke-width="1.15" stroke-linejoin="round"/>
<path d="M324.75,697.2 L325.55,697.2 L326.34,697.2 L327.14,697.2 L327.94,697.2 L328.74,697.19 L329.53,697.19 L330.33,697.17 L331.13,697.13 L331.92,697.06 L332.72,696.94 L333.52,696.68 L334.32,696.34 L335.11,695.68 L335.91,694.8 L336.71,693.02 L337.5,690.71 L338.3,687.41 L339.1,684.21 L339.9,681.25 L340.69,675.66 L341.49,670.47 L342.29,663.79 L343.08,659.3 L343.88,653.32 L344.68,650.38 L345.48,650.31 L346.27,651.19 L347.07,651.78 L347.87,652.71 L348.66,655.74 L349.46,659.12 L350.26,663.2 L351.06,668.95 L351.85,671.81 L352.65,677.4 L353.45,681.64 L354.24,682.78 L355.04,685.96 L355.84,688.74 L356.64,690.3 L357.43,692.32 L358.23,694.03 L359.03,694.68 L359.82,695.54 L360.62,695.99 L361.42,696.44 L362.22,696.74 L363.01,696.89 L363.81,697 L364.61,697.08 L365.4,697.13 L366.2,697.16 L367,697.18 L367.8,697.19 L368.59,697.19 L369.39,697.2 L370.19,697.2 L370.98,697.2 L371.78,697.2 L372.58,697.2 L373.38,697.2 L374.17,697.2 L374.97,697.2 L375.77,697.2 L376.56,697.2 L377.36,697.2 L378.16,697.2 L378.96,697.2 L379.75,697.2 L380.55,697.2 Z" fill="#8a8a8a" fill-opacity="0.7" stroke="none"/>
<path d="M324.75,697.2 L325.55,697.2 L326.34,697.2 L327.14,697.2 L327.94,697.2 L328.74,697.19 L329.53,697.19 L330.33,697.17 L331.13,697.13 L331.92,697.06 L332.72,696.94 L333.52,696.68 L334.32,696.34 L335.11,695.68 L335.91,694.8 L336.71,693.02 L337.5,690.71 L338.3,687.41 L339.1,684.21 L339.9,681.25 L340.69,675.66 L341.49,670.47 L342.29,663.79 L343.08,659.3 L343.88,653.32 L344.68,650.38 L345.48,650.31 L346.27,651.19 L347.07,651.78 L347.87,652.71 L348.66,655.74 L349.46,659.12 L350.26,663.2 L351.06,668.95 L351.85,671.81 L352.65,677.4 L353.45,681.64 L354.24,682.78 L355.04,685.96 L355.84,688.74 L356.64,690.3 L357.43,692.32 L358.23,694.03 L359.03,694.68 L359.82,695.54 L360.62,695.99 L361.42,696.44 L362.22,696.74 L363.01,696.89 L363.81,697 L364.61,697.08 L365.4,697.13 L366.2,697.16 L367,697.18 L367.8,697.19 L368.59,697.19 L369.39,697.2 L370.19,697.2 L370.98,697.2 L371.78,697.2 L372.58,697.2 L373.38,697.2 L374.17,697.2 L374.97,697.2 L375.77,697.2 L376.56,697.2 L377.36,697.2 L378.16,697.2 L378.96,697.2 L379.75,697.2 L380.55,697.2" fill="none" stroke="#5f5f72" stroke-width="1.15" stroke-linejoin="round"/>
<path d="M321.38,699.2 L322.17,699.2 L322.97,699.2 L323.77,699.2 L324.56,699.2 L325.36,699.2 L326.16,699.19 L326.95,699.17 L327.75,699.14 L328.55,699.07 L329.35,698.92 L330.14,698.62 L330.94,698.04 L331.74,697.3 L332.54,695.54 L333.33,693.16 L334.13,689.43 L334.93,685.2 L335.72,680.44 L336.52,676.2 L337.32,668.94 L338.12,661.8 L338.91,656.84 L339.71,655.74 L340.51,652.65 L341.3,654.38 L342.1,656.31 L342.9,660.96 L343.69,664.49 L344.49,668.06 L345.29,669.2 L346.09,671.29 L346.88,674.94 L347.68,677.65 L348.48,679.51 L349.27,681.92 L350.07,687.05 L350.87,689.1 L351.67,690.67 L352.46,693.37 L353.26,694.63 L354.06,695.85 L354.86,696.84 L355.65,697.3 L356.45,697.82 L357.25,698.33 L358.04,698.53 L358.84,698.77 L359.64,698.92 L360.44,699.02 L361.23,699.08 L362.03,699.13 L362.83,699.15 L363.62,699.17 L364.42,699.18 L365.22,699.19 L366.01,699.19 L366.81,699.2 L367.61,699.2 L368.41,699.2 L369.2,699.2 L370,699.2 L370.8,699.2 L371.6,699.2 L372.39,699.2 L373.19,699.2 L373.99,699.2 L374.78,699.2 L375.58,699.2 L376.38,699.2 L377.18,699.2" fill="none" stroke="#6aaee0" stroke-width="1.15" stroke-linejoin="round"/>
<path d="M318,701.2 L318.8,701.2 L319.59,701.2 L320.39,701.2 L321.19,701.2 L321.99,701.2 L322.78,701.2 L323.58,701.2 L324.38,701.2 L325.17,701.17 L325.97,701.02 L326.77,700.34 L327.57,698 L328.36,691.88 L329.16,679.99 L329.96,663.58 L330.75,649.12 L331.55,644.95 L332.35,653.81 L333.15,670.04 L333.94,685.22 L334.74,694.81 L335.54,699.2 L336.33,700.71 L337.13,701.11 L337.93,701.19 L338.73,701.2 L339.52,701.2 L340.32,701.2 L341.12,701.2 L341.91,701.2 L342.71,701.2 L343.51,701.2 L344.31,701.2 L345.1,701.2 L345.9,701.2 L346.7,701.2 L347.49,701.2 L348.29,701.2 L349.09,701.2 L349.89,701.2 L350.68,701.2 L351.48,701.2 L352.28,701.2 L353.07,701.2 L353.87,701.2 L354.67,701.2 L355.47,701.2 L356.26,701.2 L357.06,701.2 L357.86,701.2 L358.65,701.2 L359.45,701.2 L360.25,701.2 L361.05,701.2 L361.84,701.2 L362.64,701.2 L363.44,701.2 L364.23,701.2 L365.03,701.2 L365.83,701.2 L366.63,701.2 L367.42,701.2 L368.22,701.2 L369.02,701.2 L369.81,701.2 L370.61,701.2 L371.41,701.2 L372.21,701.2 L373,701.2 L373.8,701.2" fill="none" stroke="#ab0b31" stroke-width="1" stroke-linejoin="round"/>
<line x1="318.7" y1="701.7" x2="318.7" y2="703.4" stroke="#222" stroke-width="0.6"/>
<line x1="321.7" y1="701.7" x2="321.7" y2="703.4" stroke="#222" stroke-width="0.6"/>
<line x1="324.7" y1="701.7" x2="324.7" y2="703.4" stroke="#222" stroke-width="0.6"/>
<line x1="327.7" y1="701.7" x2="327.7" y2="703.4" stroke="#222" stroke-width="0.6"/>
<line x1="330.7" y1="701.7" x2="330.7" y2="703.4" stroke="#222" stroke-width="0.6"/>
<line x1="333.7" y1="701.7" x2="333.7" y2="703.4" stroke="#222" stroke-width="0.6"/>
<line x1="336.7" y1="701.7" x2="336.7" y2="703.4" stroke="#222" stroke-width="0.6"/>
<line x1="339.7" y1="701.7" x2="339.7" y2="703.4" stroke="#222" stroke-width="0.6"/>
<line x1="342.7" y1="701.7" x2="342.7" y2="703.4" stroke="#222" stroke-width="0.6"/>
<line x1="345.7" y1="701.7" x2="345.7" y2="703.4" stroke="#222" stroke-width="0.6"/>
<line x1="348.7" y1="701.7" x2="348.7" y2="703.4" stroke="#222" stroke-width="0.6"/>
<line x1="351.7" y1="701.7" x2="351.7" y2="703.4" stroke="#222" stroke-width="0.6"/>
<line x1="354.7" y1="701.7" x2="354.7" y2="703.4" stroke="#222" stroke-width="0.6"/>
<line x1="357.7" y1="701.7" x2="357.7" y2="703.4" stroke="#222" stroke-width="0.6"/>
<line x1="360.7" y1="701.7" x2="360.7" y2="703.4" stroke="#222" stroke-width="0.6"/>
<line x1="363.7" y1="701.7" x2="363.7" y2="703.4" stroke="#222" stroke-width="0.6"/>
<line x1="366.7" y1="701.7" x2="366.7" y2="703.4" stroke="#222" stroke-width="0.6"/>
<line x1="369.7" y1="701.7" x2="369.7" y2="703.4" stroke="#222" stroke-width="0.6"/>
<line x1="372.7" y1="701.7" x2="372.7" y2="703.4" stroke="#222" stroke-width="0.6"/>
<rect x="326.6" y="700.7" width="2.2" height="2.2" fill="#000"/>
<defs><linearGradient id="flF3" x1="0" y1="0" x2="1" y2="0"><stop offset="0" stop-color="#d4d4d4"/><stop offset="0.45" stop-color="#e8e8e8"/><stop offset="1" stop-color="#f2f2f2"/></linearGradient></defs>
<path d="M397.9,702.3 L457.7,702.3 L471.42,692.58 L411.62,692.58 Z" fill="url(#flF3)"/>
<line x1="415" y1="702.3" x2="428.72" y2="692.58" stroke="#d0d0d0" stroke-width="1.6"/>
<line x1="421" y1="702.3" x2="434.72" y2="692.58" stroke="#d0d0d0" stroke-width="1.6"/>
<line x1="428" y1="702.3" x2="441.72" y2="692.58" stroke="#d0d0d0" stroke-width="1.6"/>
<line x1="438" y1="702.3" x2="451.72" y2="692.58" stroke="#d0d0d0" stroke-width="1.6"/>
<line x1="448" y1="702.3" x2="461.72" y2="692.58" stroke="#d0d0d0" stroke-width="1.6"/>
<line x1="417" y1="702.3" x2="430.72" y2="692.58" stroke="#fff" stroke-width="1.6"/>
<line x1="426" y1="702.3" x2="439.72" y2="692.58" stroke="#fff" stroke-width="1.6"/>
<line x1="435" y1="702.3" x2="448.72" y2="692.58" stroke="#fff" stroke-width="1.6"/>
<line x1="441" y1="702.3" x2="454.72" y2="692.58" stroke="#fff" stroke-width="1.6"/>
<line x1="409.6" y1="702.3" x2="423.32" y2="692.58" stroke="#111" stroke-width="0.85"/>
<line x1="413" y1="702.3" x2="426.72" y2="692.58" stroke="#111" stroke-width="0.85"/>
<line x1="418" y1="702.3" x2="431.72" y2="692.58" stroke="#111" stroke-width="0.85"/>
<line x1="424" y1="702.3" x2="437.72" y2="692.58" stroke="#111" stroke-width="0.85"/>
<line x1="432" y1="702.3" x2="445.72" y2="692.58" stroke="#111" stroke-width="0.85"/>
<line x1="444" y1="702.3" x2="457.72" y2="692.58" stroke="#111" stroke-width="0.85"/>
<path d="M411.62,692.58 L412.42,692.58 L413.21,692.58 L414.01,692.57 L414.81,692.56 L415.61,692.54 L416.4,692.5 L417.2,692.44 L418,692.33 L418.8,692.14 L419.59,691.79 L420.39,691.29 L421.19,690.44 L421.99,689.68 L422.78,688.35 L423.58,685.7 L424.38,684.24 L425.17,681.84 L425.97,677.71 L426.77,673 L427.57,666.76 L428.36,660.91 L429.16,657.37 L429.96,652.13 L430.76,648.75 L431.55,646.62 L432.35,645.07 L433.15,646.42 L433.95,647.62 L434.74,650.3 L435.54,651.54 L436.34,653.8 L437.13,655.75 L437.93,658.6 L438.73,660.71 L439.53,662.65 L440.32,667.22 L441.12,670.49 L441.92,672.77 L442.72,674.7 L443.51,675.62 L444.31,677.03 L445.11,679.01 L445.91,680.39 L446.7,683.3 L447.5,684.46 L448.3,686.25 L449.09,686.92 L449.89,688.3 L450.69,689.08 L451.49,689.19 L452.28,689.77 L453.08,690.59 L453.88,690.91 L454.68,691.36 L455.47,691.52 L456.27,691.67 L457.07,691.92 L457.87,692.09 L458.66,692.18 L459.46,692.27 L460.26,692.35 L461.05,692.4 L461.85,692.45 L462.65,692.48 L463.45,692.5 L464.24,692.52 L465.04,692.54 L465.84,692.55 L466.64,692.56 L467.43,692.56 L468.23,692.57 L469.03,692.57 L469.83,692.57 L470.62,692.58 L471.42,692.58" fill="none" stroke="#f0c030" stroke-width="1.15" stroke-linejoin="round"/>
<path d="M408.19,695.01 L408.99,695.01 L409.78,695.01 L410.58,695.01 L411.38,695 L412.18,695 L412.97,694.99 L413.77,694.97 L414.57,694.93 L415.37,694.86 L416.16,694.74 L416.96,694.57 L417.76,694.32 L418.56,693.66 L419.35,693.08 L420.15,692.01 L420.95,690.33 L421.74,688.03 L422.54,685.86 L423.34,682.38 L424.14,679.05 L424.93,674.73 L425.73,668.35 L426.53,664.76 L427.33,661.09 L428.12,657.18 L428.92,652.85 L429.72,648.57 L430.52,646.87 L431.31,647.34 L432.11,650.85 L432.91,651.4 L433.7,653.24 L434.5,657.13 L435.3,658.53 L436.1,661.58 L436.89,664.2 L437.69,665.89 L438.49,669.87 L439.29,673.81 L440.08,674.79 L440.88,676.88 L441.68,679.63 L442.48,681 L443.27,683.8 L444.07,686.33 L444.87,687.73 L445.66,688.81 L446.46,690.18 L447.26,690.55 L448.06,691.53 L448.85,692.14 L449.65,692.8 L450.45,693.11 L451.25,693.66 L452.04,693.85 L452.84,694.09 L453.64,694.38 L454.44,694.56 L455.23,694.63 L456.03,694.73 L456.83,694.8 L457.62,694.85 L458.42,694.89 L459.22,694.93 L460.02,694.95 L460.81,694.97 L461.61,694.98 L462.41,694.99 L463.21,694.99 L464,695 L464.8,695 L465.6,695 L466.4,695.01 L467.19,695.01 L467.99,695.01 Z" fill="#d59a9a" fill-opacity="0.6" stroke="none"/>
<path d="M408.19,695.01 L408.99,695.01 L409.78,695.01 L410.58,695.01 L411.38,695 L412.18,695 L412.97,694.99 L413.77,694.97 L414.57,694.93 L415.37,694.86 L416.16,694.74 L416.96,694.57 L417.76,694.32 L418.56,693.66 L419.35,693.08 L420.15,692.01 L420.95,690.33 L421.74,688.03 L422.54,685.86 L423.34,682.38 L424.14,679.05 L424.93,674.73 L425.73,668.35 L426.53,664.76 L427.33,661.09 L428.12,657.18 L428.92,652.85 L429.72,648.57 L430.52,646.87 L431.31,647.34 L432.11,650.85 L432.91,651.4 L433.7,653.24 L434.5,657.13 L435.3,658.53 L436.1,661.58 L436.89,664.2 L437.69,665.89 L438.49,669.87 L439.29,673.81 L440.08,674.79 L440.88,676.88 L441.68,679.63 L442.48,681 L443.27,683.8 L444.07,686.33 L444.87,687.73 L445.66,688.81 L446.46,690.18 L447.26,690.55 L448.06,691.53 L448.85,692.14 L449.65,692.8 L450.45,693.11 L451.25,693.66 L452.04,693.85 L452.84,694.09 L453.64,694.38 L454.44,694.56 L455.23,694.63 L456.03,694.73 L456.83,694.8 L457.62,694.85 L458.42,694.89 L459.22,694.93 L460.02,694.95 L460.81,694.97 L461.61,694.98 L462.41,694.99 L463.21,694.99 L464,695 L464.8,695 L465.6,695 L466.4,695.01 L467.19,695.01 L467.99,695.01" fill="none" stroke="#d6288c" stroke-width="1.15" stroke-linejoin="round"/>
<path d="M404.76,697.44 L405.56,697.44 L406.35,697.44 L407.15,697.44 L407.95,697.44 L408.75,697.44 L409.54,697.44 L410.34,697.43 L411.14,697.43 L411.94,697.41 L412.73,697.38 L413.53,697.33 L414.33,697.22 L415.13,697.03 L415.92,696.72 L416.72,696.07 L417.52,695.12 L418.31,693.61 L419.11,691.89 L419.91,690.05 L420.71,686.59 L421.5,682.99 L422.3,677.07 L423.1,672.42 L423.9,665.2 L424.69,659.95 L425.49,656.64 L426.29,653.98 L427.09,651.67 L427.88,650.42 L428.68,651.4 L429.48,652.91 L430.27,655.38 L431.07,659.89 L431.87,661.92 L432.67,667.1 L433.46,671.33 L434.26,672.72 L435.06,676.45 L435.86,680.17 L436.65,682.07 L437.45,685.59 L438.25,689.04 L439.05,690.08 L439.84,692.09 L440.64,693.12 L441.44,694.43 L442.23,695.44 L443.03,695.85 L443.83,696.24 L444.63,696.61 L445.42,696.92 L446.22,697.1 L447.02,697.22 L447.82,697.3 L448.61,697.35 L449.41,697.39 L450.21,697.41 L451.01,697.42 L451.8,697.43 L452.6,697.43 L453.4,697.44 L454.19,697.44 L454.99,697.44 L455.79,697.44 L456.59,697.44 L457.38,697.44 L458.18,697.44 L458.98,697.44 L459.78,697.44 L460.57,697.44 L461.37,697.44 L462.17,697.44 L462.97,697.44 L463.76,697.44 L464.56,697.44 Z" fill="#9a9aa6" fill-opacity="0.45" stroke="none"/>
<path d="M404.76,697.44 L405.56,697.44 L406.35,697.44 L407.15,697.44 L407.95,697.44 L408.75,697.44 L409.54,697.44 L410.34,697.43 L411.14,697.43 L411.94,697.41 L412.73,697.38 L413.53,697.33 L414.33,697.22 L415.13,697.03 L415.92,696.72 L416.72,696.07 L417.52,695.12 L418.31,693.61 L419.11,691.89 L419.91,690.05 L420.71,686.59 L421.5,682.99 L422.3,677.07 L423.1,672.42 L423.9,665.2 L424.69,659.95 L425.49,656.64 L426.29,653.98 L427.09,651.67 L427.88,650.42 L428.68,651.4 L429.48,652.91 L430.27,655.38 L431.07,659.89 L431.87,661.92 L432.67,667.1 L433.46,671.33 L434.26,672.72 L435.06,676.45 L435.86,680.17 L436.65,682.07 L437.45,685.59 L438.25,689.04 L439.05,690.08 L439.84,692.09 L440.64,693.12 L441.44,694.43 L442.23,695.44 L443.03,695.85 L443.83,696.24 L444.63,696.61 L445.42,696.92 L446.22,697.1 L447.02,697.22 L447.82,697.3 L448.61,697.35 L449.41,697.39 L450.21,697.41 L451.01,697.42 L451.8,697.43 L452.6,697.43 L453.4,697.44 L454.19,697.44 L454.99,697.44 L455.79,697.44 L456.59,697.44 L457.38,697.44 L458.18,697.44 L458.98,697.44 L459.78,697.44 L460.57,697.44 L461.37,697.44 L462.17,697.44 L462.97,697.44 L463.76,697.44 L464.56,697.44" fill="none" stroke="#5f5f72" stroke-width="1.15" stroke-linejoin="round"/>
<path d="M401.33,699.87 L402.13,699.87 L402.92,699.87 L403.72,699.87 L404.52,699.87 L405.32,699.87 L406.11,699.87 L406.91,699.87 L407.71,699.87 L408.51,699.86 L409.3,699.84 L410.1,699.81 L410.9,699.73 L411.7,699.57 L412.49,699.23 L413.29,698.64 L414.09,697.56 L414.88,696.01 L415.68,693.8 L416.48,691.46 L417.28,686.67 L418.07,680.31 L418.87,674.36 L419.67,670.27 L420.47,662.29 L421.26,658.34 L422.06,654.76 L422.86,654.55 L423.66,654.69 L424.45,657.93 L425.25,661.66 L426.05,666.21 L426.84,669.74 L427.64,670.49 L428.44,670.74 L429.24,672.81 L430.03,678.57 L430.83,681.43 L431.63,683.53 L432.43,688.1 L433.22,690.15 L434.02,692.37 L434.82,694.3 L435.62,695.15 L436.41,696.27 L437.21,697.47 L438.01,697.94 L438.8,698.61 L439.6,698.9 L440.4,699.26 L441.2,699.45 L441.99,699.6 L442.79,699.69 L443.59,699.76 L444.39,699.8 L445.18,699.83 L445.98,699.84 L446.78,699.85 L447.58,699.86 L448.37,699.86 L449.17,699.87 L449.97,699.87 L450.76,699.87 L451.56,699.87 L452.36,699.87 L453.16,699.87 L453.95,699.87 L454.75,699.87 L455.55,699.87 L456.35,699.87 L457.14,699.87 L457.94,699.87 L458.74,699.87 L459.54,699.87 L460.33,699.87 L461.13,699.87" fill="none" stroke="#6aaee0" stroke-width="1.15" stroke-linejoin="round"/>
<path d="M397.9,702.3 L398.7,702.3 L399.49,702.3 L400.29,702.3 L401.09,702.3 L401.89,702.3 L402.68,702.3 L403.48,702.3 L404.28,702.3 L405.08,702.3 L405.87,702.3 L406.67,702.29 L407.47,702.22 L408.27,701.89 L409.06,700.57 L409.86,696.58 L410.66,687.55 L411.45,672.63 L412.25,655.74 L413.05,645.3 L413.85,647.87 L414.64,661.75 L415.44,678.74 L416.24,691.62 L417.04,698.52 L417.83,701.26 L418.63,702.08 L419.43,702.26 L420.23,702.3 L421.02,702.3 L421.82,702.3 L422.62,702.3 L423.41,702.3 L424.21,702.3 L425.01,702.3 L425.81,702.3 L426.6,702.3 L427.4,702.3 L428.2,702.3 L429,702.3 L429.79,702.3 L430.59,702.3 L431.39,702.3 L432.19,702.3 L432.98,702.3 L433.78,702.3 L434.58,702.3 L435.37,702.3 L436.17,702.3 L436.97,702.3 L437.77,702.3 L438.56,702.3 L439.36,702.3 L440.16,702.3 L440.96,702.3 L441.75,702.3 L442.55,702.3 L443.35,702.3 L444.15,702.3 L444.94,702.3 L445.74,702.3 L446.54,702.3 L447.33,702.3 L448.13,702.3 L448.93,702.3 L449.73,702.3 L450.52,702.3 L451.32,702.3 L452.12,702.3 L452.92,702.3 L453.71,702.3 L454.51,702.3 L455.31,702.3 L456.11,702.3 L456.9,702.3 L457.7,702.3" fill="none" stroke="#ab0b31" stroke-width="1" stroke-linejoin="round"/>
<line x1="400.6" y1="702.8" x2="400.6" y2="704.5" stroke="#222" stroke-width="0.6"/>
<line x1="403.6" y1="702.8" x2="403.6" y2="704.5" stroke="#222" stroke-width="0.6"/>
<line x1="406.6" y1="702.8" x2="406.6" y2="704.5" stroke="#222" stroke-width="0.6"/>
<line x1="409.6" y1="702.8" x2="409.6" y2="704.5" stroke="#222" stroke-width="0.6"/>
<line x1="412.6" y1="702.8" x2="412.6" y2="704.5" stroke="#222" stroke-width="0.6"/>
<line x1="415.6" y1="702.8" x2="415.6" y2="704.5" stroke="#222" stroke-width="0.6"/>
<line x1="418.6" y1="702.8" x2="418.6" y2="704.5" stroke="#222" stroke-width="0.6"/>
<line x1="421.6" y1="702.8" x2="421.6" y2="704.5" stroke="#222" stroke-width="0.6"/>
<line x1="424.6" y1="702.8" x2="424.6" y2="704.5" stroke="#222" stroke-width="0.6"/>
<line x1="427.6" y1="702.8" x2="427.6" y2="704.5" stroke="#222" stroke-width="0.6"/>
<line x1="430.6" y1="702.8" x2="430.6" y2="704.5" stroke="#222" stroke-width="0.6"/>
<line x1="433.6" y1="702.8" x2="433.6" y2="704.5" stroke="#222" stroke-width="0.6"/>
<line x1="436.6" y1="702.8" x2="436.6" y2="704.5" stroke="#222" stroke-width="0.6"/>
<line x1="439.6" y1="702.8" x2="439.6" y2="704.5" stroke="#222" stroke-width="0.6"/>
<line x1="442.6" y1="702.8" x2="442.6" y2="704.5" stroke="#222" stroke-width="0.6"/>
<line x1="445.6" y1="702.8" x2="445.6" y2="704.5" stroke="#222" stroke-width="0.6"/>
<line x1="448.6" y1="702.8" x2="448.6" y2="704.5" stroke="#222" stroke-width="0.6"/>
<line x1="451.6" y1="702.8" x2="451.6" y2="704.5" stroke="#222" stroke-width="0.6"/>
<line x1="454.6" y1="702.8" x2="454.6" y2="704.5" stroke="#222" stroke-width="0.6"/>
<rect x="408.5" y="701.8" width="2.2" height="2.2" fill="#000"/>
<text x="246" y="714" font-size="7" text-anchor="middle" fill="#1a1a1a" font-weight="normal" font-style="normal" stroke="#1a1a1a" stroke-width="0.12">0</text>
<text x="264.6" y="714" font-size="7" fill="#1a1a1a">10<tspan dy="-3" font-size="4.55">4</tspan></text>
<text x="327.7" y="714" font-size="7" text-anchor="middle" fill="#1a1a1a" font-weight="normal" font-style="normal" stroke="#1a1a1a" stroke-width="0.12">0</text>
<text x="346.2" y="714" font-size="7" fill="#1a1a1a">10<tspan dy="-3" font-size="4.55">4</tspan></text>
<text x="409.6" y="714" font-size="7" text-anchor="middle" fill="#1a1a1a" font-weight="normal" font-style="normal" stroke="#1a1a1a" stroke-width="0.12">0</text>
<text x="429.6" y="714" font-size="7" fill="#1a1a1a">10<tspan dy="-3" font-size="4.55">4</tspan></text>
<text x="311.1" y="724.9" font-size="7.6" text-anchor="start" fill="#1a1a1a" font-weight="normal" font-style="normal" textLength="83.5" lengthAdjust="spacingAndGlyphs" stroke="#1a1a1a" stroke-width="0.12">PE-TpoR staining for TpoR</text>
<line x1="177.6" y1="733.7" x2="187.3" y2="733.7" stroke="#ab0b31" stroke-width="1.1"/>
<text x="191.5" y="736.1" font-size="7.3" text-anchor="start" fill="#1a1a1a" font-weight="normal" font-style="normal" textLength="43.6" lengthAdjust="spacingAndGlyphs" stroke="#1a1a1a" stroke-width="0.12">empty control</text>
<line x1="177.6" y1="744.7" x2="187.3" y2="744.7" stroke="#6aaee0" stroke-width="1.1"/>
<text x="191.5" y="747.1" font-size="7.3" text-anchor="start" fill="#1a1a1a" font-weight="normal" font-style="normal" textLength="28.7" lengthAdjust="spacingAndGlyphs" stroke="#1a1a1a" stroke-width="0.12">TpoR WT</text>
<line x1="177.6" y1="755.5" x2="187.3" y2="755.5" stroke="#5f5f72" stroke-width="1.1"/>
<text x="191.5" y="757.9" font-size="7.3" text-anchor="start" fill="#1a1a1a" font-weight="normal" font-style="normal" textLength="41.5" lengthAdjust="spacingAndGlyphs" stroke="#1a1a1a" stroke-width="0.12">TpoR W491A</text>
<line x1="245.5" y1="733.7" x2="254.8" y2="733.7" stroke="#4a6aa8" stroke-width="1.1"/>
<text x="258.3" y="736.1" font-size="7.3" text-anchor="start" fill="#1a1a1a" font-weight="normal" font-style="normal" textLength="40.5" lengthAdjust="spacingAndGlyphs" stroke="#1a1a1a" stroke-width="0.12">TpoR L498W</text>
<line x1="245.5" y1="744.7" x2="254.8" y2="744.7" stroke="#72b84e" stroke-width="1.1"/>
<text x="258.3" y="747.1" font-size="7.3" text-anchor="start" fill="#1a1a1a" font-weight="normal" font-style="normal" textLength="66.8" lengthAdjust="spacingAndGlyphs" stroke="#1a1a1a" stroke-width="0.12">TpoR W491A-L498W</text>
<line x1="245.5" y1="755.5" x2="254.8" y2="755.5" stroke="#c0782c" stroke-width="1.1"/>
<text x="258.3" y="757.9" font-size="7.3" text-anchor="start" fill="#1a1a1a" font-weight="normal" font-style="normal" textLength="41.5" lengthAdjust="spacingAndGlyphs" stroke="#1a1a1a" stroke-width="0.12">TpoR W491K</text>
<line x1="245.5" y1="766.4" x2="254.8" y2="766.4" stroke="#ee9cc0" stroke-width="1.1"/>
<text x="258.3" y="768.8" font-size="7.3" text-anchor="start" fill="#1a1a1a" font-weight="normal" font-style="normal" textLength="65.7" lengthAdjust="spacingAndGlyphs" stroke="#1a1a1a" stroke-width="0.12">TpoR W491K-L498W</text>
<line x1="333.5" y1="733.7" x2="343.8" y2="733.7" stroke="#9d94d4" stroke-width="1.1"/>
<text x="348" y="736.1" font-size="7.3" text-anchor="start" fill="#1a1a1a" font-weight="normal" font-style="normal" textLength="40.2" lengthAdjust="spacingAndGlyphs" stroke="#1a1a1a" stroke-width="0.12">TpoR S505N</text>
<line x1="333.5" y1="744.7" x2="343.8" y2="744.7" stroke="#c2cb8a" stroke-width="1.1"/>
<text x="348" y="747.1" font-size="7.3" text-anchor="start" fill="#1a1a1a" font-weight="normal" font-style="normal" textLength="65" lengthAdjust="spacingAndGlyphs" stroke="#1a1a1a" stroke-width="0.12">TpoR W491A-S505N</text>
<line x1="424.2" y1="733.7" x2="433.1" y2="733.7" stroke="#d6288c" stroke-width="1.1"/>
<text x="436.6" y="736.1" font-size="7.3" text-anchor="start" fill="#1a1a1a" font-weight="normal" font-style="normal" textLength="41.5" lengthAdjust="spacingAndGlyphs" stroke="#1a1a1a" stroke-width="0.12">TpoR W515K</text>
<line x1="424.2" y1="744.7" x2="433.1" y2="744.7" stroke="#f0c030" stroke-width="1.1"/>
<text x="436.6" y="747.1" font-size="7.3" text-anchor="start" fill="#1a1a1a" font-weight="normal" font-style="normal" textLength="67.2" lengthAdjust="spacingAndGlyphs" stroke="#1a1a1a" stroke-width="0.12">TpoR W491A-W515K</text>
<text x="226.2" y="462.8" font-size="14.8" text-anchor="start" fill="#000" font-weight="bold" font-style="normal">F</text>
<line x1="260.5" y1="482.48" x2="260.5" y2="581" stroke="#231f20" stroke-width="1"/>
<line x1="260" y1="580.5" x2="475.8" y2="580.5" stroke="#231f20" stroke-width="1"/>
<line x1="257.9" y1="580.8" x2="260.5" y2="580.8" stroke="#231f20" stroke-width="0.9"/>
<text x="254" y="583.3" font-size="7.2" text-anchor="end" fill="#1a1a1a" font-weight="normal" font-style="normal" stroke="#1a1a1a" stroke-width="0.12">0</text>
<line x1="257.9" y1="564.83" x2="260.5" y2="564.83" stroke="#231f20" stroke-width="0.9"/>
<text x="254" y="567.33" font-size="7.2" text-anchor="end" fill="#1a1a1a" font-weight="normal" font-style="normal" stroke="#1a1a1a" stroke-width="0.12">1</text>
<line x1="257.9" y1="548.86" x2="260.5" y2="548.86" stroke="#231f20" stroke-width="0.9"/>
<text x="254" y="551.36" font-size="7.2" text-anchor="end" fill="#1a1a1a" font-weight="normal" font-style="normal" stroke="#1a1a1a" stroke-width="0.12">2</text>
<line x1="257.9" y1="516.92" x2="260.5" y2="516.92" stroke="#231f20" stroke-width="0.9"/>
<text x="254" y="519.42" font-size="7.2" text-anchor="end" fill="#1a1a1a" font-weight="normal" font-style="normal" stroke="#1a1a1a" stroke-width="0.12">4</text>
<line x1="257.9" y1="484.98" x2="260.5" y2="484.98" stroke="#231f20" stroke-width="0.9"/>
<text x="254" y="487.48" font-size="7.2" text-anchor="end" fill="#1a1a1a" font-weight="normal" font-style="normal" stroke="#1a1a1a" stroke-width="0.12">6</text>
<text x="244.4" y="531.2" font-size="8.8" text-anchor="middle" fill="#1a1a1a" font-weight="normal" font-style="normal" transform="rotate(-90 244.4 531.2)" textLength="64.5" lengthAdjust="spacingAndGlyphs" stroke="#1a1a1a" stroke-width="0.12">Luciferase ratio (rlu)</text>
<line x1="260" y1="564.5" x2="475.8" y2="564.5" stroke="#1e1e1e" stroke-width="0.95" stroke-dasharray="3.6 2.4"/>
<rect x="263" y="564.83" width="3.9" height="15.97" fill="#ab0b31"/>
<line x1="264.5" y1="564.35" x2="264.5" y2="565.31" stroke="#000" stroke-width="0.9"/>
<line x1="263.5" y1="564.35" x2="265.5" y2="564.35" stroke="#000" stroke-width="0.9"/>
<rect x="269" y="513.89" width="3.9" height="66.91" fill="#264787"/>
<line x1="270.5" y1="508.14" x2="270.5" y2="519.63" stroke="#000" stroke-width="0.9"/>
<line x1="269.5" y1="508.14" x2="271.5" y2="508.14" stroke="#000" stroke-width="0.9"/>
<rect x="275.1" y="545.03" width="3.9" height="35.77" fill="#63ad3b"/>
<line x1="277.5" y1="541.67" x2="277.5" y2="548.38" stroke="#000" stroke-width="0.9"/>
<line x1="276.5" y1="541.67" x2="278.5" y2="541.67" stroke="#000" stroke-width="0.9"/>
<rect x="284.9" y="556.53" width="3.9" height="24.27" fill="#ab0b31"/>
<line x1="286.5" y1="555.25" x2="286.5" y2="557.8" stroke="#000" stroke-width="0.9"/>
<line x1="285.5" y1="555.25" x2="287.5" y2="555.25" stroke="#000" stroke-width="0.9"/>
<rect x="290.9" y="524.27" width="3.9" height="56.53" fill="#264787"/>
<line x1="292.5" y1="520.11" x2="292.5" y2="528.42" stroke="#000" stroke-width="0.9"/>
<line x1="291.5" y1="520.11" x2="293.5" y2="520.11" stroke="#000" stroke-width="0.9"/>
<rect x="297" y="533.05" width="3.9" height="47.75" fill="#63ad3b"/>
<line x1="298.5" y1="527.3" x2="298.5" y2="538.8" stroke="#000" stroke-width="0.9"/>
<line x1="297.5" y1="527.3" x2="299.5" y2="527.3" stroke="#000" stroke-width="0.9"/>
<rect x="306.9" y="537.52" width="3.9" height="43.28" fill="#ab0b31"/>
<line x1="308.5" y1="534.49" x2="308.5" y2="540.56" stroke="#000" stroke-width="0.9"/>
<line x1="307.5" y1="534.49" x2="309.5" y2="534.49" stroke="#000" stroke-width="0.9"/>
<rect x="312.9" y="511.17" width="3.9" height="69.63" fill="#264787"/>
<line x1="314.5" y1="505.74" x2="314.5" y2="516.6" stroke="#000" stroke-width="0.9"/>
<line x1="313.5" y1="505.74" x2="315.5" y2="505.74" stroke="#000" stroke-width="0.9"/>
<rect x="319" y="519.32" width="3.9" height="61.48" fill="#63ad3b"/>
<line x1="320.5" y1="511.33" x2="320.5" y2="527.3" stroke="#000" stroke-width="0.9"/>
<line x1="319.5" y1="511.33" x2="321.5" y2="511.33" stroke="#000" stroke-width="0.9"/>
<rect x="327.6" y="530.18" width="3.9" height="50.62" fill="#ab0b31"/>
<line x1="329.5" y1="525.7" x2="329.5" y2="534.65" stroke="#000" stroke-width="0.9"/>
<line x1="328.5" y1="525.7" x2="330.5" y2="525.7" stroke="#000" stroke-width="0.9"/>
<rect x="333.6" y="503.66" width="3.9" height="77.14" fill="#264787"/>
<line x1="335.5" y1="497.76" x2="335.5" y2="509.57" stroke="#000" stroke-width="0.9"/>
<line x1="334.5" y1="497.76" x2="336.5" y2="497.76" stroke="#000" stroke-width="0.9"/>
<rect x="339.7" y="505.9" width="3.9" height="74.9" fill="#63ad3b"/>
<line x1="341.5" y1="494.56" x2="341.5" y2="517.24" stroke="#000" stroke-width="0.9"/>
<line x1="340.5" y1="494.56" x2="342.5" y2="494.56" stroke="#000" stroke-width="0.9"/>
<rect x="349.6" y="569.3" width="3.9" height="11.5" fill="#ab0b31"/>
<line x1="351.5" y1="567.23" x2="351.5" y2="571.38" stroke="#000" stroke-width="0.9"/>
<line x1="350.5" y1="567.23" x2="352.5" y2="567.23" stroke="#000" stroke-width="0.9"/>
<rect x="355.6" y="534.33" width="3.9" height="46.47" fill="#264787"/>
<line x1="357.5" y1="526.98" x2="357.5" y2="541.67" stroke="#000" stroke-width="0.9"/>
<line x1="356.5" y1="526.98" x2="358.5" y2="526.98" stroke="#000" stroke-width="0.9"/>
<rect x="361.7" y="568.18" width="3.9" height="12.62" fill="#63ad3b"/>
<line x1="363.5" y1="566.11" x2="363.5" y2="570.26" stroke="#000" stroke-width="0.9"/>
<line x1="362.5" y1="566.11" x2="364.5" y2="566.11" stroke="#000" stroke-width="0.9"/>
<rect x="371" y="559.56" width="3.9" height="21.24" fill="#ab0b31"/>
<line x1="372.5" y1="557.96" x2="372.5" y2="561.16" stroke="#000" stroke-width="0.9"/>
<line x1="371.5" y1="557.96" x2="373.5" y2="557.96" stroke="#000" stroke-width="0.9"/>
<rect x="377" y="513.09" width="3.9" height="67.71" fill="#264787"/>
<line x1="378.5" y1="506.54" x2="378.5" y2="519.63" stroke="#000" stroke-width="0.9"/>
<line x1="377.5" y1="506.54" x2="379.5" y2="506.54" stroke="#000" stroke-width="0.9"/>
<rect x="383.1" y="552.21" width="3.9" height="28.59" fill="#63ad3b"/>
<line x1="385.5" y1="548.86" x2="385.5" y2="555.57" stroke="#000" stroke-width="0.9"/>
<line x1="384.5" y1="548.86" x2="386.5" y2="548.86" stroke="#000" stroke-width="0.9"/>
<rect x="393" y="561.96" width="3.9" height="18.84" fill="#ab0b31"/>
<line x1="394.5" y1="560.36" x2="394.5" y2="563.55" stroke="#000" stroke-width="0.9"/>
<line x1="393.5" y1="560.36" x2="395.5" y2="560.36" stroke="#000" stroke-width="0.9"/>
<rect x="399" y="518.2" width="3.9" height="62.6" fill="#264787"/>
<line x1="400.5" y1="512.45" x2="400.5" y2="523.95" stroke="#000" stroke-width="0.9"/>
<line x1="399.5" y1="512.45" x2="401.5" y2="512.45" stroke="#000" stroke-width="0.9"/>
<rect x="405.1" y="555.73" width="3.9" height="25.07" fill="#63ad3b"/>
<line x1="407.5" y1="552.85" x2="407.5" y2="558.6" stroke="#000" stroke-width="0.9"/>
<line x1="406.5" y1="552.85" x2="408.5" y2="552.85" stroke="#000" stroke-width="0.9"/>
<rect x="414.2" y="562.59" width="3.9" height="18.21" fill="#ab0b31"/>
<line x1="416.5" y1="560.84" x2="416.5" y2="564.35" stroke="#000" stroke-width="0.9"/>
<line x1="415.5" y1="560.84" x2="417.5" y2="560.84" stroke="#000" stroke-width="0.9"/>
<rect x="420.2" y="518.2" width="3.9" height="62.6" fill="#264787"/>
<line x1="422.5" y1="511.33" x2="422.5" y2="525.06" stroke="#000" stroke-width="0.9"/>
<line x1="421.5" y1="511.33" x2="423.5" y2="511.33" stroke="#000" stroke-width="0.9"/>
<rect x="426.3" y="552.85" width="3.9" height="27.95" fill="#63ad3b"/>
<line x1="428.5" y1="548.06" x2="428.5" y2="557.64" stroke="#000" stroke-width="0.9"/>
<line x1="427.5" y1="548.06" x2="429.5" y2="548.06" stroke="#000" stroke-width="0.9"/>
<rect x="436.1" y="568.82" width="3.9" height="11.98" fill="#ab0b31"/>
<line x1="438.5" y1="567.7" x2="438.5" y2="569.94" stroke="#000" stroke-width="0.9"/>
<line x1="437.5" y1="567.7" x2="439.5" y2="567.7" stroke="#000" stroke-width="0.9"/>
<rect x="442.1" y="529.06" width="3.9" height="51.74" fill="#264787"/>
<line x1="444.5" y1="524.27" x2="444.5" y2="533.85" stroke="#000" stroke-width="0.9"/>
<line x1="443.5" y1="524.27" x2="445.5" y2="524.27" stroke="#000" stroke-width="0.9"/>
<rect x="448.2" y="563.07" width="3.9" height="17.73" fill="#63ad3b"/>
<line x1="450.5" y1="558.44" x2="450.5" y2="567.7" stroke="#000" stroke-width="0.9"/>
<line x1="449.5" y1="558.44" x2="451.5" y2="558.44" stroke="#000" stroke-width="0.9"/>
<rect x="456.9" y="565.95" width="3.9" height="14.85" fill="#ab0b31"/>
<line x1="458.5" y1="564.83" x2="458.5" y2="567.07" stroke="#000" stroke-width="0.9"/>
<line x1="457.5" y1="564.83" x2="459.5" y2="564.83" stroke="#000" stroke-width="0.9"/>
<rect x="462.9" y="533.37" width="3.9" height="47.43" fill="#264787"/>
<line x1="464.5" y1="529.7" x2="464.5" y2="537.04" stroke="#000" stroke-width="0.9"/>
<line x1="463.5" y1="529.7" x2="465.5" y2="529.7" stroke="#000" stroke-width="0.9"/>
<rect x="469" y="549.66" width="3.9" height="31.14" fill="#63ad3b"/>
<line x1="470.5" y1="544.07" x2="470.5" y2="555.25" stroke="#000" stroke-width="0.9"/>
<line x1="469.5" y1="544.07" x2="471.5" y2="544.07" stroke="#000" stroke-width="0.9"/>
<line x1="281.5" y1="580.8" x2="281.5" y2="583.2" stroke="#1e1e1e" stroke-width="0.95"/>
<line x1="303.5" y1="580.8" x2="303.5" y2="583.2" stroke="#1e1e1e" stroke-width="0.95"/>
<line x1="325.5" y1="580.8" x2="325.5" y2="583.2" stroke="#1e1e1e" stroke-width="0.95"/>
<line x1="346.5" y1="580.8" x2="346.5" y2="583.2" stroke="#1e1e1e" stroke-width="0.95"/>
<line x1="368.5" y1="580.8" x2="368.5" y2="583.2" stroke="#1e1e1e" stroke-width="0.95"/>
<line x1="389.5" y1="580.8" x2="389.5" y2="583.2" stroke="#1e1e1e" stroke-width="0.95"/>
<line x1="411.5" y1="580.8" x2="411.5" y2="583.2" stroke="#1e1e1e" stroke-width="0.95"/>
<line x1="433.5" y1="580.8" x2="433.5" y2="583.2" stroke="#1e1e1e" stroke-width="0.95"/>
<line x1="454.5" y1="580.8" x2="454.5" y2="583.2" stroke="#1e1e1e" stroke-width="0.95"/>
<text x="274.15" y="591.8" font-size="7" text-anchor="end" fill="#1a1a1a" font-weight="normal" font-style="normal" transform="rotate(-45 274.15 591.8)" textLength="11" lengthAdjust="spacingAndGlyphs" stroke="#1a1a1a" stroke-width="0.12">WT</text>
<text x="296.05" y="591.8" font-size="7" text-anchor="end" fill="#1a1a1a" font-weight="normal" font-style="normal" transform="rotate(-45 296.05 591.8)" textLength="22" lengthAdjust="spacingAndGlyphs" stroke="#1a1a1a" stroke-width="0.12">L498W</text>
<text x="318.05" y="591.8" font-size="7" text-anchor="end" fill="#1a1a1a" font-weight="normal" font-style="normal" transform="rotate(-45 318.05 591.8)" textLength="21" lengthAdjust="spacingAndGlyphs" stroke="#1a1a1a" stroke-width="0.12">S505N</text>
<text x="338.75" y="591.8" font-size="7" text-anchor="end" fill="#1a1a1a" font-weight="normal" font-style="normal" transform="rotate(-45 338.75 591.8)" textLength="23" lengthAdjust="spacingAndGlyphs" stroke="#1a1a1a" stroke-width="0.12">W515K</text>
<text x="360.75" y="591.8" font-size="7" text-anchor="end" fill="#1a1a1a" font-weight="normal" font-style="normal" transform="rotate(-45 360.75 591.8)" textLength="23" lengthAdjust="spacingAndGlyphs" stroke="#1a1a1a" stroke-width="0.12">W491A</text>
<text x="379.65" y="591.8" font-size="7" text-anchor="end" fill="#1a1a1a" font-weight="normal" font-style="normal" transform="rotate(-45 379.65 591.8)" textLength="25" lengthAdjust="spacingAndGlyphs" stroke="#1a1a1a" stroke-width="0.12">W491A-</text>
<text x="385.94" y="598.09" font-size="7" text-anchor="end" fill="#1a1a1a" font-weight="normal" font-style="normal" transform="rotate(-45 385.94 598.09)" textLength="22" lengthAdjust="spacingAndGlyphs" stroke="#1a1a1a" stroke-width="0.12">L498W</text>
<text x="401.65" y="591.8" font-size="7" text-anchor="end" fill="#1a1a1a" font-weight="normal" font-style="normal" transform="rotate(-45 401.65 591.8)" textLength="25" lengthAdjust="spacingAndGlyphs" stroke="#1a1a1a" stroke-width="0.12">W491A-</text>
<text x="407.94" y="598.09" font-size="7" text-anchor="end" fill="#1a1a1a" font-weight="normal" font-style="normal" transform="rotate(-45 407.94 598.09)" textLength="21" lengthAdjust="spacingAndGlyphs" stroke="#1a1a1a" stroke-width="0.12">S505N</text>
<text x="422.85" y="591.8" font-size="7" text-anchor="end" fill="#1a1a1a" font-weight="normal" font-style="normal" transform="rotate(-45 422.85 591.8)" textLength="25" lengthAdjust="spacingAndGlyphs" stroke="#1a1a1a" stroke-width="0.12">W491A-</text>
<text x="429.14" y="598.09" font-size="7" text-anchor="end" fill="#1a1a1a" font-weight="normal" font-style="normal" transform="rotate(-45 429.14 598.09)" textLength="23" lengthAdjust="spacingAndGlyphs" stroke="#1a1a1a" stroke-width="0.12">W515K</text>
<text x="447.25" y="591.8" font-size="7" text-anchor="end" fill="#1a1a1a" font-weight="normal" font-style="normal" transform="rotate(-45 447.25 591.8)" textLength="23" lengthAdjust="spacingAndGlyphs" stroke="#1a1a1a" stroke-width="0.12">W491K</text>
<text x="465.55" y="591.8" font-size="7" text-anchor="end" fill="#1a1a1a" font-weight="normal" font-style="normal" transform="rotate(-45 465.55 591.8)" textLength="25" lengthAdjust="spacingAndGlyphs" stroke="#1a1a1a" stroke-width="0.12">W491K-</text>
<text x="471.84" y="598.09" font-size="7" text-anchor="end" fill="#1a1a1a" font-weight="normal" font-style="normal" transform="rotate(-45 471.84 598.09)" textLength="22" lengthAdjust="spacingAndGlyphs" stroke="#1a1a1a" stroke-width="0.12">L498W</text>
<text x="237" y="595.3" font-size="7.2" text-anchor="start" fill="#1a1a1a" font-weight="normal" font-style="normal" textLength="16.3" lengthAdjust="spacingAndGlyphs" stroke="#1a1a1a" stroke-width="0.12">TpoR</text>
<line x1="285.5" y1="477.3" x2="285.5" y2="491" stroke="#1e1e1e" stroke-width="0.95"/>
<polyline points="285.5,477.5 459.5,477.5 459.5,489.5" stroke="#1e1e1e" stroke-width="0.95" fill="none"/>
<polyline points="285.5,481.5 372.5,481.5 372.5,484.5" stroke="#1e1e1e" stroke-width="0.95" fill="none"/>
<polyline points="308.5,504.5 308.5,486.5 395.5,486.5 395.5,489.5" stroke="#1e1e1e" stroke-width="0.95" fill="none"/>
<polyline points="329.5,509.5 329.5,491.5 416.5,491.5 416.5,503.5" stroke="#1e1e1e" stroke-width="0.95" fill="none"/>
<text x="367.5" y="478.5" font-size="8" text-anchor="middle" fill="#1a1a1a" font-weight="normal" font-style="normal" textLength="5" lengthAdjust="spacingAndGlyphs" stroke="#1a1a1a" stroke-width="0.12">**</text>
<text x="335.2" y="483.9" font-size="8" text-anchor="middle" fill="#1a1a1a" font-weight="normal" font-style="normal" textLength="7.5" lengthAdjust="spacingAndGlyphs" stroke="#1a1a1a" stroke-width="0.12">***</text>
<text x="350" y="488.5" font-size="8" text-anchor="middle" fill="#1a1a1a" font-weight="normal" font-style="normal" textLength="7.5" lengthAdjust="spacingAndGlyphs" stroke="#1a1a1a" stroke-width="0.12">***</text>
<text x="366.7" y="493.1" font-size="8" text-anchor="middle" fill="#1a1a1a" font-weight="normal" font-style="normal" textLength="7.5" lengthAdjust="spacingAndGlyphs" stroke="#1a1a1a" stroke-width="0.12">***</text>
<text x="349.1" y="513" font-size="6.2" text-anchor="middle" fill="#333" font-weight="normal" font-style="normal" textLength="5.4" lengthAdjust="spacingAndGlyphs" stroke="#333" stroke-width="0.12">ns</text>
<text x="349.1" y="520.2" font-size="6.2" text-anchor="middle" fill="#333" font-weight="normal" font-style="normal" textLength="11.9" lengthAdjust="spacingAndGlyphs" stroke="#333" stroke-width="0.12">(WT)</text>
<polyline points="347.5,524.5 351.5,524.5 351.5,560.5" stroke="#1e1e1e" stroke-width="0.95" fill="none"/>
<text x="435.3" y="513" font-size="6.2" text-anchor="middle" fill="#333" font-weight="normal" font-style="normal" textLength="5.4" lengthAdjust="spacingAndGlyphs" stroke="#333" stroke-width="0.12">ns</text>
<text x="435.3" y="520.2" font-size="6.2" text-anchor="middle" fill="#333" font-weight="normal" font-style="normal" textLength="11.9" lengthAdjust="spacingAndGlyphs" stroke="#333" stroke-width="0.12">(WT)</text>
<polyline points="433.5,524.5 437.5,524.5 437.5,560.5" stroke="#1e1e1e" stroke-width="0.95" fill="none"/>
<rect x="254.8" y="621.8" width="8.3" height="6" fill="#ab0b31"/>
<text x="266.8" y="627.6" font-size="7.1" text-anchor="start" fill="#1a1a1a" font-weight="normal" font-style="normal" textLength="37.6" lengthAdjust="spacingAndGlyphs" stroke="#1a1a1a" stroke-width="0.12">No cytokine</text>
<rect x="320" y="621.8" width="8.3" height="6" fill="#264787"/>
<text x="330.6" y="627.6" font-size="7.1" text-anchor="start" fill="#1a1a1a" font-weight="normal" font-style="normal" textLength="48.4" lengthAdjust="spacingAndGlyphs" stroke="#1a1a1a" stroke-width="0.12">Tpo (10 ng/mL)</text>
<rect x="398.5" y="621.8" width="8.3" height="6" fill="#63ad3b"/>
<text x="409.4" y="627.6" font-size="7.1" text-anchor="start" fill="#1a1a1a" font-weight="normal" font-style="normal" textLength="47" lengthAdjust="spacingAndGlyphs" stroke="#1a1a1a" stroke-width="0.12">Elt (0.7 µg/mL)</text>
<rect x="0.5" y="0.5" width="519" height="780" fill="none" stroke="#000" stroke-width="1"/></svg>
</body></html>
